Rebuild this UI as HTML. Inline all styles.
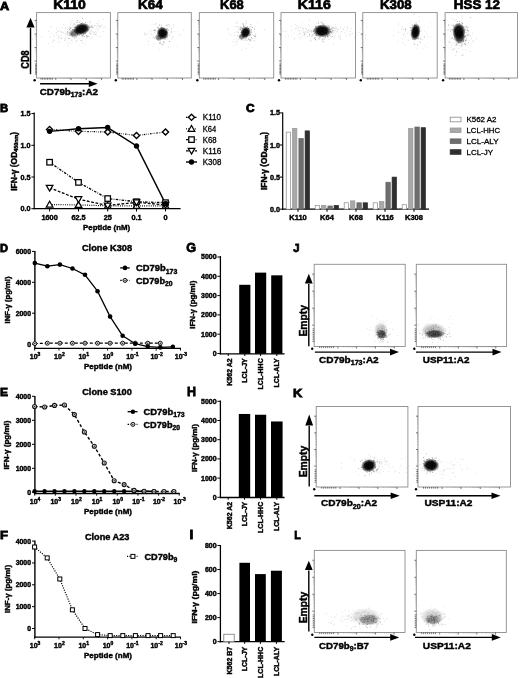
<!DOCTYPE html>
<html><head><meta charset="utf-8"><title>Figure</title>
<style>
html,body{margin:0;padding:0;background:#fff;}
body{width:520px;height:678px;overflow:hidden;}
svg{display:block;font-family:'Liberation Sans', Arial, Helvetica, sans-serif;}
</style></head><body>
<svg width="520" height="678" viewBox="0 0 520 678">
<defs><radialGradient id="cg"><stop offset="0" stop-color="#000" stop-opacity="1"/><stop offset="0.55" stop-color="#000" stop-opacity="0.95"/><stop offset="0.8" stop-color="#000" stop-opacity="0.5"/><stop offset="1" stop-color="#000" stop-opacity="0"/></radialGradient></defs>
<rect width="520" height="678" fill="#fff"/>
<text x="0.00" y="9.60" font-size="11.5" font-weight="bold" text-anchor="start" fill="#000" textLength="9.20" lengthAdjust="spacingAndGlyphs" stroke="#000" stroke-width="0.8">A</text>
<rect x="36.60" y="12.60" width="73.80" height="65.40" fill="#fff" stroke="#8c8c8c" stroke-width="0.9"/>
<path d="M35.60 56.92h1.0M35.60 54.54h1.0M35.60 52.85h1.0M35.60 51.53h1.0M35.60 50.46h1.0M35.60 49.56h1.0M35.60 48.77h1.0M35.60 48.08h1.0M35.60 43.45h1.0M35.60 41.06h1.0M35.60 39.37h1.0M35.60 38.06h1.0M35.60 36.99h1.0M35.60 36.08h1.0M35.60 35.30h1.0M35.60 34.61h1.0M35.60 29.91h1.0M35.60 27.53h1.0M35.60 25.84h1.0M35.60 24.52h1.0M35.60 23.45h1.0M35.60 22.55h1.0M35.60 21.76h1.0M35.60 21.07h1.0M60.39 78.00v1.0M63.08 78.00v1.0M64.99 78.00v1.0M66.47 78.00v1.0M67.68 78.00v1.0M68.70 78.00v1.0M69.58 78.00v1.0M70.37 78.00v1.0M75.59 78.00v1.0M78.28 78.00v1.0M80.19 78.00v1.0M81.67 78.00v1.0M82.88 78.00v1.0M83.90 78.00v1.0M84.79 78.00v1.0M85.57 78.00v1.0M90.87 78.00v1.0M93.56 78.00v1.0M95.46 78.00v1.0M96.95 78.00v1.0M98.15 78.00v1.0M99.18 78.00v1.0M100.06 78.00v1.0M100.84 78.00v1.0" stroke="#999" stroke-width="0.6" fill="none"/>
<path d="M35.00 74.08h1.6M35.00 72.64h1.6M35.00 71.20h1.6M35.00 69.76h1.6M35.00 68.32h1.6M35.00 66.88h1.6M35.00 65.44h1.6M35.00 64.00h1.6M41.03 78.00v1.6M42.65 78.00v1.6M44.28 78.00v1.6M45.90 78.00v1.6M47.52 78.00v1.6M49.15 78.00v1.6M50.77 78.00v1.6M52.39 78.00v1.6" stroke="#333" stroke-width="0.7" fill="none"/>
<path d="M34.60 61.00h2.0M34.60 47.52h2.0M34.60 33.99h2.0M34.60 20.45h2.0M55.79 78.00v2.0M70.99 78.00v2.0M86.27 78.00v2.0M101.54 78.00v2.0" stroke="#555" stroke-width="0.8" fill="none"/>
<circle cx="34.60" cy="80.30" r="1.2" fill="#000"/>
<text x="69.50" y="9.40" font-size="13.5" font-weight="bold" text-anchor="middle" fill="#000" textLength="32.70" lengthAdjust="spacingAndGlyphs" stroke="#000" stroke-width="0.7">K110</text>
<rect x="117.80" y="12.60" width="73.50" height="65.40" fill="#fff" stroke="#8c8c8c" stroke-width="0.9"/>
<path d="M116.80 56.92h1.0M116.80 54.54h1.0M116.80 52.85h1.0M116.80 51.53h1.0M116.80 50.46h1.0M116.80 49.56h1.0M116.80 48.77h1.0M116.80 48.08h1.0M116.80 43.45h1.0M116.80 41.06h1.0M116.80 39.37h1.0M116.80 38.06h1.0M116.80 36.99h1.0M116.80 36.08h1.0M116.80 35.30h1.0M116.80 34.61h1.0M116.80 29.91h1.0M116.80 27.53h1.0M116.80 25.84h1.0M116.80 24.52h1.0M116.80 23.45h1.0M116.80 22.55h1.0M116.80 21.76h1.0M116.80 21.07h1.0M141.49 78.00v1.0M144.17 78.00v1.0M146.07 78.00v1.0M147.54 78.00v1.0M148.75 78.00v1.0M149.77 78.00v1.0M150.65 78.00v1.0M151.43 78.00v1.0M156.63 78.00v1.0M159.31 78.00v1.0M161.21 78.00v1.0M162.69 78.00v1.0M163.89 78.00v1.0M164.91 78.00v1.0M165.79 78.00v1.0M166.57 78.00v1.0M171.85 78.00v1.0M174.52 78.00v1.0M176.43 78.00v1.0M177.90 78.00v1.0M179.10 78.00v1.0M180.12 78.00v1.0M181.01 78.00v1.0M181.78 78.00v1.0" stroke="#999" stroke-width="0.6" fill="none"/>
<path d="M116.20 74.08h1.6M116.20 72.64h1.6M116.20 71.20h1.6M116.20 69.76h1.6M116.20 68.32h1.6M116.20 66.88h1.6M116.20 65.44h1.6M116.20 64.00h1.6M122.21 78.00v1.6M123.83 78.00v1.6M125.44 78.00v1.6M127.06 78.00v1.6M128.68 78.00v1.6M130.29 78.00v1.6M131.91 78.00v1.6M133.53 78.00v1.6" stroke="#333" stroke-width="0.7" fill="none"/>
<path d="M115.80 61.00h2.0M115.80 47.52h2.0M115.80 33.99h2.0M115.80 20.45h2.0M136.91 78.00v2.0M152.05 78.00v2.0M167.27 78.00v2.0M182.48 78.00v2.0" stroke="#555" stroke-width="0.8" fill="none"/>
<circle cx="115.80" cy="80.30" r="1.2" fill="#000"/>
<text x="150.40" y="9.40" font-size="13.5" font-weight="bold" text-anchor="middle" fill="#000" textLength="24.80" lengthAdjust="spacingAndGlyphs" stroke="#000" stroke-width="0.7">K64</text>
<rect x="199.30" y="12.60" width="74.40" height="65.40" fill="#fff" stroke="#8c8c8c" stroke-width="0.9"/>
<path d="M198.30 56.92h1.0M198.30 54.54h1.0M198.30 52.85h1.0M198.30 51.53h1.0M198.30 50.46h1.0M198.30 49.56h1.0M198.30 48.77h1.0M198.30 48.08h1.0M198.30 43.45h1.0M198.30 41.06h1.0M198.30 39.37h1.0M198.30 38.06h1.0M198.30 36.99h1.0M198.30 36.08h1.0M198.30 35.30h1.0M198.30 34.61h1.0M198.30 29.91h1.0M198.30 27.53h1.0M198.30 25.84h1.0M198.30 24.52h1.0M198.30 23.45h1.0M198.30 22.55h1.0M198.30 21.76h1.0M198.30 21.07h1.0M223.28 78.00v1.0M225.99 78.00v1.0M227.92 78.00v1.0M229.41 78.00v1.0M230.63 78.00v1.0M231.66 78.00v1.0M232.55 78.00v1.0M233.34 78.00v1.0M238.61 78.00v1.0M241.32 78.00v1.0M243.24 78.00v1.0M244.74 78.00v1.0M245.95 78.00v1.0M246.99 78.00v1.0M247.88 78.00v1.0M248.67 78.00v1.0M254.01 78.00v1.0M256.72 78.00v1.0M258.64 78.00v1.0M260.14 78.00v1.0M261.36 78.00v1.0M262.39 78.00v1.0M263.28 78.00v1.0M264.07 78.00v1.0" stroke="#999" stroke-width="0.6" fill="none"/>
<path d="M197.70 74.08h1.6M197.70 72.64h1.6M197.70 71.20h1.6M197.70 69.76h1.6M197.70 68.32h1.6M197.70 66.88h1.6M197.70 65.44h1.6M197.70 64.00h1.6M203.76 78.00v1.6M205.40 78.00v1.6M207.04 78.00v1.6M208.67 78.00v1.6M210.31 78.00v1.6M211.95 78.00v1.6M213.58 78.00v1.6M215.22 78.00v1.6" stroke="#333" stroke-width="0.7" fill="none"/>
<path d="M197.30 61.00h2.0M197.30 47.52h2.0M197.30 33.99h2.0M197.30 20.45h2.0M218.64 78.00v2.0M233.97 78.00v2.0M249.37 78.00v2.0M264.77 78.00v2.0" stroke="#555" stroke-width="0.8" fill="none"/>
<circle cx="197.30" cy="80.30" r="1.2" fill="#000"/>
<text x="231.90" y="9.40" font-size="13.5" font-weight="bold" text-anchor="middle" fill="#000" textLength="23.70" lengthAdjust="spacingAndGlyphs" stroke="#000" stroke-width="0.7">K68</text>
<rect x="281.00" y="12.60" width="74.50" height="65.40" fill="#fff" stroke="#8c8c8c" stroke-width="0.9"/>
<path d="M280.00 56.92h1.0M280.00 54.54h1.0M280.00 52.85h1.0M280.00 51.53h1.0M280.00 50.46h1.0M280.00 49.56h1.0M280.00 48.77h1.0M280.00 48.08h1.0M280.00 43.45h1.0M280.00 41.06h1.0M280.00 39.37h1.0M280.00 38.06h1.0M280.00 36.99h1.0M280.00 36.08h1.0M280.00 35.30h1.0M280.00 34.61h1.0M280.00 29.91h1.0M280.00 27.53h1.0M280.00 25.84h1.0M280.00 24.52h1.0M280.00 23.45h1.0M280.00 22.55h1.0M280.00 21.76h1.0M280.00 21.07h1.0M305.01 78.00v1.0M307.73 78.00v1.0M309.65 78.00v1.0M311.15 78.00v1.0M312.37 78.00v1.0M313.40 78.00v1.0M314.30 78.00v1.0M315.09 78.00v1.0M320.36 78.00v1.0M323.07 78.00v1.0M325.00 78.00v1.0M326.50 78.00v1.0M327.72 78.00v1.0M328.75 78.00v1.0M329.64 78.00v1.0M330.43 78.00v1.0M335.78 78.00v1.0M338.50 78.00v1.0M340.42 78.00v1.0M341.92 78.00v1.0M343.14 78.00v1.0M344.17 78.00v1.0M345.07 78.00v1.0M345.85 78.00v1.0" stroke="#999" stroke-width="0.6" fill="none"/>
<path d="M279.40 74.08h1.6M279.40 72.64h1.6M279.40 71.20h1.6M279.40 69.76h1.6M279.40 68.32h1.6M279.40 66.88h1.6M279.40 65.44h1.6M279.40 64.00h1.6M285.47 78.00v1.6M287.11 78.00v1.6M288.75 78.00v1.6M290.39 78.00v1.6M292.03 78.00v1.6M293.67 78.00v1.6M295.30 78.00v1.6M296.94 78.00v1.6" stroke="#333" stroke-width="0.7" fill="none"/>
<path d="M279.00 61.00h2.0M279.00 47.52h2.0M279.00 33.99h2.0M279.00 20.45h2.0M300.37 78.00v2.0M315.72 78.00v2.0M331.14 78.00v2.0M346.56 78.00v2.0" stroke="#555" stroke-width="0.8" fill="none"/>
<circle cx="279.00" cy="80.30" r="1.2" fill="#000"/>
<text x="314.30" y="9.40" font-size="13.5" font-weight="bold" text-anchor="middle" fill="#000" textLength="33.00" lengthAdjust="spacingAndGlyphs" stroke="#000" stroke-width="0.7">K116</text>
<rect x="362.80" y="12.60" width="74.40" height="65.40" fill="#fff" stroke="#8c8c8c" stroke-width="0.9"/>
<path d="M361.80 56.92h1.0M361.80 54.54h1.0M361.80 52.85h1.0M361.80 51.53h1.0M361.80 50.46h1.0M361.80 49.56h1.0M361.80 48.77h1.0M361.80 48.08h1.0M361.80 43.45h1.0M361.80 41.06h1.0M361.80 39.37h1.0M361.80 38.06h1.0M361.80 36.99h1.0M361.80 36.08h1.0M361.80 35.30h1.0M361.80 34.61h1.0M361.80 29.91h1.0M361.80 27.53h1.0M361.80 25.84h1.0M361.80 24.52h1.0M361.80 23.45h1.0M361.80 22.55h1.0M361.80 21.76h1.0M361.80 21.07h1.0M386.78 78.00v1.0M389.49 78.00v1.0M391.42 78.00v1.0M392.91 78.00v1.0M394.13 78.00v1.0M395.16 78.00v1.0M396.05 78.00v1.0M396.84 78.00v1.0M402.11 78.00v1.0M404.82 78.00v1.0M406.74 78.00v1.0M408.24 78.00v1.0M409.45 78.00v1.0M410.49 78.00v1.0M411.38 78.00v1.0M412.17 78.00v1.0M417.51 78.00v1.0M420.22 78.00v1.0M422.14 78.00v1.0M423.64 78.00v1.0M424.86 78.00v1.0M425.89 78.00v1.0M426.78 78.00v1.0M427.57 78.00v1.0" stroke="#999" stroke-width="0.6" fill="none"/>
<path d="M361.20 74.08h1.6M361.20 72.64h1.6M361.20 71.20h1.6M361.20 69.76h1.6M361.20 68.32h1.6M361.20 66.88h1.6M361.20 65.44h1.6M361.20 64.00h1.6M367.26 78.00v1.6M368.90 78.00v1.6M370.54 78.00v1.6M372.17 78.00v1.6M373.81 78.00v1.6M375.45 78.00v1.6M377.08 78.00v1.6M378.72 78.00v1.6" stroke="#333" stroke-width="0.7" fill="none"/>
<path d="M360.80 61.00h2.0M360.80 47.52h2.0M360.80 33.99h2.0M360.80 20.45h2.0M382.14 78.00v2.0M397.47 78.00v2.0M412.87 78.00v2.0M428.27 78.00v2.0" stroke="#555" stroke-width="0.8" fill="none"/>
<circle cx="360.80" cy="80.30" r="1.2" fill="#000"/>
<text x="395.80" y="9.40" font-size="13.5" font-weight="bold" text-anchor="middle" fill="#000" textLength="31.70" lengthAdjust="spacingAndGlyphs" stroke="#000" stroke-width="0.7">K308</text>
<rect x="445.10" y="12.60" width="72.40" height="65.40" fill="#fff" stroke="#8c8c8c" stroke-width="0.9"/>
<path d="M444.10 56.92h1.0M444.10 54.54h1.0M444.10 52.85h1.0M444.10 51.53h1.0M444.10 50.46h1.0M444.10 49.56h1.0M444.10 48.77h1.0M444.10 48.08h1.0M444.10 43.45h1.0M444.10 41.06h1.0M444.10 39.37h1.0M444.10 38.06h1.0M444.10 36.99h1.0M444.10 36.08h1.0M444.10 35.30h1.0M444.10 34.61h1.0M444.10 29.91h1.0M444.10 27.53h1.0M444.10 25.84h1.0M444.10 24.52h1.0M444.10 23.45h1.0M444.10 22.55h1.0M444.10 21.76h1.0M444.10 21.07h1.0M468.44 78.00v1.0M471.07 78.00v1.0M472.95 78.00v1.0M474.40 78.00v1.0M475.59 78.00v1.0M476.59 78.00v1.0M477.46 78.00v1.0M478.23 78.00v1.0M483.35 78.00v1.0M485.99 78.00v1.0M487.86 78.00v1.0M489.31 78.00v1.0M490.50 78.00v1.0M491.50 78.00v1.0M492.37 78.00v1.0M493.14 78.00v1.0M498.34 78.00v1.0M500.98 78.00v1.0M502.85 78.00v1.0M504.30 78.00v1.0M505.49 78.00v1.0M506.49 78.00v1.0M507.36 78.00v1.0M508.13 78.00v1.0" stroke="#999" stroke-width="0.6" fill="none"/>
<path d="M443.50 74.08h1.6M443.50 72.64h1.6M443.50 71.20h1.6M443.50 69.76h1.6M443.50 68.32h1.6M443.50 66.88h1.6M443.50 65.44h1.6M443.50 64.00h1.6M449.44 78.00v1.6M451.04 78.00v1.6M452.63 78.00v1.6M454.22 78.00v1.6M455.82 78.00v1.6M457.41 78.00v1.6M459.00 78.00v1.6M460.59 78.00v1.6" stroke="#333" stroke-width="0.7" fill="none"/>
<path d="M443.10 61.00h2.0M443.10 47.52h2.0M443.10 33.99h2.0M443.10 20.45h2.0M463.92 78.00v2.0M478.84 78.00v2.0M493.83 78.00v2.0M508.81 78.00v2.0" stroke="#555" stroke-width="0.8" fill="none"/>
<circle cx="443.10" cy="80.30" r="1.2" fill="#000"/>
<text x="476.90" y="9.40" font-size="13.5" font-weight="bold" text-anchor="middle" fill="#000" textLength="46.20" lengthAdjust="spacingAndGlyphs" stroke="#000" stroke-width="0.7">HSS 12</text>
<path d="M74.3 34.6h0.9v0.9h-0.9zM69.5 28.9h0.9v0.9h-0.9zM67.1 28.8h0.9v0.9h-0.9zM76.2 40.1h0.9v0.9h-0.9zM67.1 30.9h0.9v0.9h-0.9zM80.6 33.7h0.9v0.9h-0.9zM74.3 27.7h0.9v0.9h-0.9zM74.4 36.8h0.9v0.9h-0.9zM56.4 34.0h0.9v0.9h-0.9zM48.4 31.0h0.9v0.9h-0.9zM50.3 36.5h0.9v0.9h-0.9zM58.1 37.7h0.9v0.9h-0.9zM75.8 31.6h0.9v0.9h-0.9zM41.3 36.6h0.9v0.9h-0.9zM73.5 33.7h0.9v0.9h-0.9zM54.0 34.4h0.9v0.9h-0.9zM60.6 31.2h0.9v0.9h-0.9zM86.6 25.9h0.9v0.9h-0.9zM74.6 37.9h0.9v0.9h-0.9zM66.4 33.9h0.9v0.9h-0.9zM75.5 33.1h0.9v0.9h-0.9zM58.5 36.6h0.9v0.9h-0.9zM89.6 21.2h0.9v0.9h-0.9zM85.1 31.4h0.9v0.9h-0.9zM68.0 45.4h0.9v0.9h-0.9zM82.4 24.6h0.9v0.9h-0.9zM75.6 35.9h0.9v0.9h-0.9zM72.3 37.2h0.9v0.9h-0.9zM73.9 36.8h0.9v0.9h-0.9zM91.6 25.6h0.9v0.9h-0.9zM76.1 30.0h0.9v0.9h-0.9zM74.3 26.3h0.9v0.9h-0.9zM66.4 33.4h0.9v0.9h-0.9zM86.7 36.9h0.9v0.9h-0.9zM56.3 32.1h0.9v0.9h-0.9zM80.1 20.6h0.9v0.9h-0.9zM68.0 33.7h0.9v0.9h-0.9zM90.8 33.5h0.9v0.9h-0.9zM69.4 31.9h0.9v0.9h-0.9zM72.5 41.9h0.9v0.9h-0.9zM68.2 32.5h0.9v0.9h-0.9zM78.4 31.4h0.9v0.9h-0.9zM70.3 27.5h0.9v0.9h-0.9zM73.4 30.6h0.9v0.9h-0.9zM89.6 33.5h0.9v0.9h-0.9zM74.4 36.7h0.9v0.9h-0.9zM70.8 39.5h0.9v0.9h-0.9zM74.6 36.2h0.9v0.9h-0.9zM57.9 38.2h0.9v0.9h-0.9zM50.3 26.4h0.9v0.9h-0.9zM69.1 28.9h0.9v0.9h-0.9zM78.5 44.7h0.9v0.9h-0.9zM62.7 31.8h0.9v0.9h-0.9zM77.2 35.1h0.9v0.9h-0.9zM71.5 32.3h0.9v0.9h-0.9zM83.5 34.0h0.9v0.9h-0.9zM60.7 35.2h0.9v0.9h-0.9zM73.3 27.2h0.9v0.9h-0.9zM76.4 27.7h0.9v0.9h-0.9zM86.6 31.5h0.9v0.9h-0.9zM74.5 29.6h0.9v0.9h-0.9zM70.3 22.5h0.9v0.9h-0.9zM60.0 37.9h0.9v0.9h-0.9zM47.8 43.1h0.9v0.9h-0.9zM52.6 41.6h0.9v0.9h-0.9zM64.1 39.4h0.9v0.9h-0.9zM74.0 24.4h0.9v0.9h-0.9z" fill="#000" fill-opacity="0.14"/>
<path d="M91.5 37.5h0.9v0.9h-0.9zM72.9 31.7h0.9v0.9h-0.9zM70.9 28.2h0.9v0.9h-0.9zM87.4 27.2h0.9v0.9h-0.9zM72.5 28.9h0.9v0.9h-0.9zM64.6 27.7h0.9v0.9h-0.9zM89.8 28.9h0.9v0.9h-0.9zM86.3 30.6h0.9v0.9h-0.9zM64.8 33.0h0.9v0.9h-0.9zM66.9 34.5h0.9v0.9h-0.9zM68.9 32.4h0.9v0.9h-0.9zM55.6 32.2h0.9v0.9h-0.9zM94.3 25.1h0.9v0.9h-0.9zM60.9 37.5h0.9v0.9h-0.9zM90.3 21.5h0.9v0.9h-0.9zM70.7 30.1h0.9v0.9h-0.9zM52.4 41.5h0.9v0.9h-0.9zM73.8 33.4h0.9v0.9h-0.9zM64.9 37.4h0.9v0.9h-0.9zM67.0 33.6h0.9v0.9h-0.9zM58.6 29.3h0.9v0.9h-0.9zM90.5 26.8h0.9v0.9h-0.9zM77.7 32.1h0.9v0.9h-0.9zM67.8 31.4h0.9v0.9h-0.9zM81.7 29.7h0.9v0.9h-0.9zM72.1 33.5h0.9v0.9h-0.9zM89.7 33.6h0.9v0.9h-0.9zM78.3 29.0h0.9v0.9h-0.9zM57.4 41.7h0.9v0.9h-0.9zM86.2 29.7h0.9v0.9h-0.9zM81.8 35.8h0.9v0.9h-0.9zM85.6 35.8h0.9v0.9h-0.9zM69.9 42.3h0.9v0.9h-0.9zM59.1 40.9h0.9v0.9h-0.9zM81.2 36.4h0.9v0.9h-0.9zM99.6 36.1h0.9v0.9h-0.9zM57.6 26.9h0.9v0.9h-0.9zM83.3 25.4h0.9v0.9h-0.9zM74.8 37.6h0.9v0.9h-0.9zM50.8 25.9h0.9v0.9h-0.9zM77.4 32.6h0.9v0.9h-0.9zM70.9 33.8h0.9v0.9h-0.9zM61.4 27.1h0.9v0.9h-0.9zM70.8 28.2h0.9v0.9h-0.9zM53.6 40.0h0.9v0.9h-0.9zM73.7 35.3h0.9v0.9h-0.9zM60.7 32.0h0.9v0.9h-0.9zM60.3 30.8h0.9v0.9h-0.9zM75.6 28.3h0.9v0.9h-0.9zM78.9 33.9h0.9v0.9h-0.9zM98.3 20.3h0.9v0.9h-0.9zM85.2 30.2h0.9v0.9h-0.9zM72.2 25.2h0.9v0.9h-0.9zM68.9 38.2h0.9v0.9h-0.9zM73.0 33.6h0.9v0.9h-0.9zM71.6 40.0h0.9v0.9h-0.9zM71.3 21.2h0.9v0.9h-0.9zM63.0 24.2h0.9v0.9h-0.9zM32.0 38.5h0.9v0.9h-0.9zM91.0 29.8h0.9v0.9h-0.9zM58.0 31.0h0.9v0.9h-0.9zM88.6 30.9h0.9v0.9h-0.9zM74.6 32.6h0.9v0.9h-0.9zM75.4 37.2h0.9v0.9h-0.9zM81.3 32.7h0.9v0.9h-0.9zM61.3 38.4h0.9v0.9h-0.9zM66.5 40.7h0.9v0.9h-0.9z" fill="#000" fill-opacity="0.14"/>
<path d="M57.7 35.5h0.9v0.9h-0.9zM72.5 25.9h0.9v0.9h-0.9zM97.5 36.4h0.9v0.9h-0.9zM68.9 38.4h0.9v0.9h-0.9zM76.0 17.9h0.9v0.9h-0.9zM77.1 32.0h0.9v0.9h-0.9zM73.9 27.0h0.9v0.9h-0.9zM70.4 32.7h0.9v0.9h-0.9zM89.5 31.7h0.9v0.9h-0.9zM75.6 41.3h0.9v0.9h-0.9zM66.5 32.3h0.9v0.9h-0.9zM52.6 46.2h0.9v0.9h-0.9zM87.3 35.5h0.9v0.9h-0.9zM82.6 31.9h0.9v0.9h-0.9zM76.5 31.1h0.9v0.9h-0.9zM71.5 33.8h0.9v0.9h-0.9zM93.9 32.1h0.9v0.9h-0.9zM72.6 30.0h0.9v0.9h-0.9zM67.7 43.3h0.9v0.9h-0.9zM80.5 32.1h0.9v0.9h-0.9zM68.4 27.9h0.9v0.9h-0.9zM74.1 37.9h0.9v0.9h-0.9zM68.8 32.8h0.9v0.9h-0.9zM71.3 34.2h0.9v0.9h-0.9zM53.4 35.8h0.9v0.9h-0.9zM64.1 40.0h0.9v0.9h-0.9zM64.8 38.1h0.9v0.9h-0.9zM93.1 27.4h0.9v0.9h-0.9zM66.5 35.6h0.9v0.9h-0.9zM72.9 27.6h0.9v0.9h-0.9zM82.1 42.7h0.9v0.9h-0.9zM70.5 32.6h0.9v0.9h-0.9zM61.0 37.4h0.9v0.9h-0.9zM56.9 30.3h0.9v0.9h-0.9zM89.3 24.8h0.9v0.9h-0.9zM89.4 38.4h0.9v0.9h-0.9zM77.9 35.3h0.9v0.9h-0.9zM98.7 26.9h0.9v0.9h-0.9zM65.0 27.2h0.9v0.9h-0.9zM76.1 40.9h0.9v0.9h-0.9zM85.2 25.4h0.9v0.9h-0.9zM62.6 32.5h0.9v0.9h-0.9zM77.5 31.1h0.9v0.9h-0.9zM77.1 34.0h0.9v0.9h-0.9zM70.1 33.6h0.9v0.9h-0.9zM76.5 32.0h0.9v0.9h-0.9zM82.5 41.8h0.9v0.9h-0.9zM81.6 31.8h0.9v0.9h-0.9zM52.9 39.4h0.9v0.9h-0.9zM47.7 30.4h0.9v0.9h-0.9zM85.7 34.6h0.9v0.9h-0.9zM70.2 24.2h0.9v0.9h-0.9zM68.5 30.3h0.9v0.9h-0.9zM84.6 43.5h0.9v0.9h-0.9zM75.9 28.2h0.9v0.9h-0.9zM59.0 35.7h0.9v0.9h-0.9zM70.5 27.2h0.9v0.9h-0.9zM74.2 26.5h0.9v0.9h-0.9zM89.3 35.9h0.9v0.9h-0.9zM87.3 27.6h0.9v0.9h-0.9zM80.4 31.0h0.9v0.9h-0.9zM68.7 32.2h0.9v0.9h-0.9zM55.9 28.6h0.9v0.9h-0.9zM83.9 29.9h0.9v0.9h-0.9zM77.9 37.8h0.9v0.9h-0.9zM51.1 33.2h0.9v0.9h-0.9z" fill="#000" fill-opacity="0.14"/>
<path d="M96.9 30.4h0.9v0.9h-0.9zM94.1 32.6h0.9v0.9h-0.9zM97.1 24.8h0.9v0.9h-0.9zM91.3 31.8h0.9v0.9h-0.9zM98.3 22.4h0.9v0.9h-0.9zM102.7 31.1h0.9v0.9h-0.9zM102.7 27.7h0.9v0.9h-0.9zM94.5 25.1h0.9v0.9h-0.9zM108.7 28.4h0.9v0.9h-0.9zM103.9 26.7h0.9v0.9h-0.9zM96.8 23.2h0.9v0.9h-0.9zM94.1 32.4h0.9v0.9h-0.9zM89.7 32.8h0.9v0.9h-0.9zM97.7 25.3h0.9v0.9h-0.9zM93.5 27.4h0.9v0.9h-0.9zM95.8 27.1h0.9v0.9h-0.9zM91.9 27.9h0.9v0.9h-0.9z" fill="#000" fill-opacity="0.12"/>
<path d="M90.9 24.5h0.9v0.9h-0.9zM95.8 32.1h0.9v0.9h-0.9zM88.4 29.0h0.9v0.9h-0.9zM92.8 25.6h0.9v0.9h-0.9zM100.3 27.2h0.9v0.9h-0.9zM103.5 26.3h0.9v0.9h-0.9zM97.9 28.2h0.9v0.9h-0.9zM92.2 31.1h0.9v0.9h-0.9zM95.2 31.1h0.9v0.9h-0.9zM95.8 25.2h0.9v0.9h-0.9zM95.5 29.2h0.9v0.9h-0.9zM100.8 25.8h0.9v0.9h-0.9zM95.8 23.0h0.9v0.9h-0.9zM99.3 25.2h0.9v0.9h-0.9zM87.0 28.8h0.9v0.9h-0.9zM101.5 23.7h0.9v0.9h-0.9zM90.6 26.4h0.9v0.9h-0.9z" fill="#000" fill-opacity="0.12"/>
<path d="M90.4 30.3h0.9v0.9h-0.9zM92.0 26.5h0.9v0.9h-0.9zM98.9 26.4h0.9v0.9h-0.9zM98.2 25.6h0.9v0.9h-0.9zM89.9 22.6h0.9v0.9h-0.9zM105.3 27.9h0.9v0.9h-0.9zM97.2 28.9h0.9v0.9h-0.9zM96.8 29.2h0.9v0.9h-0.9zM105.5 25.4h0.9v0.9h-0.9zM88.2 25.5h0.9v0.9h-0.9zM89.3 31.6h0.9v0.9h-0.9zM100.1 25.6h0.9v0.9h-0.9zM89.0 27.8h0.9v0.9h-0.9zM103.0 19.1h0.9v0.9h-0.9zM98.6 25.2h0.9v0.9h-0.9zM101.2 25.2h0.9v0.9h-0.9z" fill="#000" fill-opacity="0.12"/>
<ellipse cx="81.60" cy="29.00" rx="8.60" ry="6.00" fill="url(#cg)" fill-opacity="0.97" transform="rotate(-15 81.60 29.00)"/>
<ellipse cx="75.00" cy="32.80" rx="6.50" ry="4.20" fill="url(#cg)" fill-opacity="0.5" transform="rotate(-20 75.00 32.80)"/>
<path d="M77.3 24.2h0.9v0.9h-0.9zM76.1 36.4h0.9v0.9h-0.9zM84.8 26.8h0.9v0.9h-0.9zM73.5 23.6h0.9v0.9h-0.9zM78.1 30.1h0.9v0.9h-0.9zM79.8 29.4h0.9v0.9h-0.9zM73.8 31.0h0.9v0.9h-0.9zM81.5 34.7h0.9v0.9h-0.9zM91.1 26.3h0.9v0.9h-0.9zM75.9 30.5h0.9v0.9h-0.9zM76.1 27.6h0.9v0.9h-0.9zM79.0 25.6h0.9v0.9h-0.9zM83.8 28.3h0.9v0.9h-0.9zM81.7 28.5h0.9v0.9h-0.9zM75.2 27.0h0.9v0.9h-0.9zM78.5 27.8h0.9v0.9h-0.9zM81.8 29.2h0.9v0.9h-0.9zM72.5 31.9h0.9v0.9h-0.9zM72.0 29.2h0.9v0.9h-0.9zM76.6 22.0h0.9v0.9h-0.9zM81.1 30.0h0.9v0.9h-0.9zM79.1 28.2h0.9v0.9h-0.9zM77.3 26.4h0.9v0.9h-0.9zM78.3 27.9h0.9v0.9h-0.9zM79.7 24.8h0.9v0.9h-0.9zM81.9 29.8h0.9v0.9h-0.9zM79.1 28.1h0.9v0.9h-0.9zM82.0 22.3h0.9v0.9h-0.9zM83.3 29.9h0.9v0.9h-0.9zM82.4 30.7h0.9v0.9h-0.9zM76.3 29.6h0.9v0.9h-0.9zM84.5 30.3h0.9v0.9h-0.9zM80.1 23.4h0.9v0.9h-0.9zM84.7 33.3h0.9v0.9h-0.9zM86.5 29.0h0.9v0.9h-0.9zM72.3 35.6h0.9v0.9h-0.9zM77.0 20.0h0.9v0.9h-0.9zM81.1 23.3h0.9v0.9h-0.9zM72.2 29.1h0.9v0.9h-0.9zM87.4 26.3h0.9v0.9h-0.9z" fill="#000" fill-opacity="0.35"/>
<path d="M83.7 36.0h0.9v0.9h-0.9zM89.6 26.8h0.9v0.9h-0.9zM77.7 25.1h0.9v0.9h-0.9zM76.8 32.3h0.9v0.9h-0.9zM82.8 29.4h0.9v0.9h-0.9zM85.4 25.1h0.9v0.9h-0.9zM80.8 32.5h0.9v0.9h-0.9zM84.9 32.9h0.9v0.9h-0.9zM82.4 27.8h0.9v0.9h-0.9zM81.5 25.2h0.9v0.9h-0.9zM71.4 34.3h0.9v0.9h-0.9zM80.4 30.9h0.9v0.9h-0.9zM70.2 30.7h0.9v0.9h-0.9zM76.1 27.1h0.9v0.9h-0.9zM67.0 31.6h0.9v0.9h-0.9zM86.0 29.7h0.9v0.9h-0.9zM76.9 30.4h0.9v0.9h-0.9zM82.1 17.8h0.9v0.9h-0.9zM80.2 31.9h0.9v0.9h-0.9zM86.0 35.2h0.9v0.9h-0.9zM87.3 29.1h0.9v0.9h-0.9zM82.9 32.2h0.9v0.9h-0.9zM77.2 30.2h0.9v0.9h-0.9zM87.6 35.8h0.9v0.9h-0.9zM79.4 29.6h0.9v0.9h-0.9zM82.9 34.5h0.9v0.9h-0.9zM81.7 35.3h0.9v0.9h-0.9zM74.6 30.3h0.9v0.9h-0.9zM80.0 32.9h0.9v0.9h-0.9zM85.0 22.2h0.9v0.9h-0.9zM75.4 32.3h0.9v0.9h-0.9zM75.1 24.7h0.9v0.9h-0.9zM86.9 30.0h0.9v0.9h-0.9zM82.8 27.0h0.9v0.9h-0.9zM86.1 27.1h0.9v0.9h-0.9zM85.9 24.4h0.9v0.9h-0.9zM75.6 31.7h0.9v0.9h-0.9zM77.0 33.3h0.9v0.9h-0.9zM81.0 25.6h0.9v0.9h-0.9zM80.5 28.1h0.9v0.9h-0.9z" fill="#000" fill-opacity="0.35"/>
<path d="M85.1 25.8h0.9v0.9h-0.9zM79.0 34.9h0.9v0.9h-0.9zM95.4 34.0h0.9v0.9h-0.9zM81.0 30.4h0.9v0.9h-0.9zM89.2 26.8h0.9v0.9h-0.9zM74.8 31.5h0.9v0.9h-0.9zM82.2 25.7h0.9v0.9h-0.9zM69.4 26.5h0.9v0.9h-0.9zM83.5 25.7h0.9v0.9h-0.9zM79.8 30.6h0.9v0.9h-0.9zM83.7 27.4h0.9v0.9h-0.9zM82.4 25.4h0.9v0.9h-0.9zM77.3 26.2h0.9v0.9h-0.9zM87.0 27.8h0.9v0.9h-0.9zM75.8 29.3h0.9v0.9h-0.9zM79.8 32.6h0.9v0.9h-0.9zM70.1 27.9h0.9v0.9h-0.9zM80.7 40.0h0.9v0.9h-0.9zM85.8 27.7h0.9v0.9h-0.9zM86.6 36.5h0.9v0.9h-0.9zM78.7 28.5h0.9v0.9h-0.9zM87.9 29.7h0.9v0.9h-0.9zM83.8 26.6h0.9v0.9h-0.9zM93.3 33.4h0.9v0.9h-0.9zM84.4 31.4h0.9v0.9h-0.9zM69.2 35.1h0.9v0.9h-0.9zM79.7 31.6h0.9v0.9h-0.9zM84.0 27.3h0.9v0.9h-0.9zM70.9 33.5h0.9v0.9h-0.9zM75.8 29.4h0.9v0.9h-0.9zM76.5 29.2h0.9v0.9h-0.9zM68.2 37.7h0.9v0.9h-0.9zM83.0 33.5h0.9v0.9h-0.9zM91.9 26.7h0.9v0.9h-0.9zM69.0 28.8h0.9v0.9h-0.9zM72.9 29.4h0.9v0.9h-0.9zM78.9 21.7h0.9v0.9h-0.9zM80.9 23.2h0.9v0.9h-0.9zM82.0 28.7h0.9v0.9h-0.9zM78.5 29.8h0.9v0.9h-0.9z" fill="#000" fill-opacity="0.35"/>
<path d="M155.1 31.6h0.9v0.9h-0.9zM144.9 34.8h0.9v0.9h-0.9zM176.6 45.9h0.9v0.9h-0.9zM171.9 38.9h0.9v0.9h-0.9zM153.9 42.9h0.9v0.9h-0.9zM159.5 34.6h0.9v0.9h-0.9zM157.4 35.5h0.9v0.9h-0.9zM156.1 34.5h0.9v0.9h-0.9zM150.2 32.9h0.9v0.9h-0.9zM180.5 34.6h0.9v0.9h-0.9zM157.9 37.9h0.9v0.9h-0.9zM166.4 28.9h0.9v0.9h-0.9zM158.1 40.1h0.9v0.9h-0.9zM162.4 35.7h0.9v0.9h-0.9zM174.0 31.3h0.9v0.9h-0.9zM160.7 32.1h0.9v0.9h-0.9zM173.4 24.3h0.9v0.9h-0.9zM154.0 32.1h0.9v0.9h-0.9zM166.0 38.3h0.9v0.9h-0.9zM172.6 26.3h0.9v0.9h-0.9zM166.8 33.4h0.9v0.9h-0.9zM154.0 38.0h0.9v0.9h-0.9zM151.7 23.6h0.9v0.9h-0.9zM156.7 26.8h0.9v0.9h-0.9zM154.2 37.0h0.9v0.9h-0.9zM162.8 43.7h0.9v0.9h-0.9zM158.2 26.6h0.9v0.9h-0.9zM153.2 29.9h0.9v0.9h-0.9zM149.0 37.4h0.9v0.9h-0.9zM154.2 24.1h0.9v0.9h-0.9z" fill="#000" fill-opacity="0.14"/>
<path d="M166.3 34.4h0.9v0.9h-0.9zM163.2 35.6h0.9v0.9h-0.9zM165.7 35.2h0.9v0.9h-0.9zM171.1 37.3h0.9v0.9h-0.9zM163.5 37.3h0.9v0.9h-0.9zM146.9 34.1h0.9v0.9h-0.9zM157.7 36.1h0.9v0.9h-0.9zM147.8 44.0h0.9v0.9h-0.9zM160.9 28.3h0.9v0.9h-0.9zM144.6 33.5h0.9v0.9h-0.9zM159.2 31.0h0.9v0.9h-0.9zM160.8 31.5h0.9v0.9h-0.9zM165.0 31.0h0.9v0.9h-0.9zM159.7 40.4h0.9v0.9h-0.9zM183.1 29.5h0.9v0.9h-0.9zM155.8 30.4h0.9v0.9h-0.9zM167.1 28.7h0.9v0.9h-0.9zM155.6 34.8h0.9v0.9h-0.9zM151.2 29.7h0.9v0.9h-0.9zM155.7 23.4h0.9v0.9h-0.9zM147.0 32.7h0.9v0.9h-0.9zM161.3 34.0h0.9v0.9h-0.9zM144.0 32.4h0.9v0.9h-0.9zM167.2 38.1h0.9v0.9h-0.9zM159.3 30.1h0.9v0.9h-0.9zM165.7 31.8h0.9v0.9h-0.9zM149.5 30.6h0.9v0.9h-0.9zM173.0 36.2h0.9v0.9h-0.9zM170.4 32.4h0.9v0.9h-0.9zM168.4 31.7h0.9v0.9h-0.9z" fill="#000" fill-opacity="0.14"/>
<path d="M158.6 48.7h0.9v0.9h-0.9zM166.9 32.2h0.9v0.9h-0.9zM159.2 36.8h0.9v0.9h-0.9zM170.9 32.3h0.9v0.9h-0.9zM144.3 33.5h0.9v0.9h-0.9zM160.1 35.6h0.9v0.9h-0.9zM171.9 36.7h0.9v0.9h-0.9zM167.3 28.9h0.9v0.9h-0.9zM167.8 46.5h0.9v0.9h-0.9zM167.0 36.4h0.9v0.9h-0.9zM161.4 44.8h0.9v0.9h-0.9zM151.7 34.4h0.9v0.9h-0.9zM164.1 39.1h0.9v0.9h-0.9zM156.1 36.7h0.9v0.9h-0.9zM157.5 35.7h0.9v0.9h-0.9zM158.8 28.7h0.9v0.9h-0.9zM159.8 39.8h0.9v0.9h-0.9zM151.3 33.7h0.9v0.9h-0.9zM166.0 29.1h0.9v0.9h-0.9zM161.6 29.2h0.9v0.9h-0.9zM170.2 47.7h0.9v0.9h-0.9zM178.2 33.8h0.9v0.9h-0.9zM166.7 35.7h0.9v0.9h-0.9zM160.9 43.5h0.9v0.9h-0.9zM148.1 40.8h0.9v0.9h-0.9zM159.6 42.7h0.9v0.9h-0.9zM161.7 31.3h0.9v0.9h-0.9zM162.5 39.0h0.9v0.9h-0.9zM160.3 37.7h0.9v0.9h-0.9zM155.3 23.3h0.9v0.9h-0.9z" fill="#000" fill-opacity="0.14"/>
<ellipse cx="162.60" cy="33.20" rx="6.00" ry="6.60" fill="url(#cg)" fill-opacity="0.97" transform="rotate(-20 162.60 33.20)"/>
<ellipse cx="158.80" cy="37.50" rx="4.00" ry="3.50" fill="url(#cg)" fill-opacity="0.45"/>
<path d="M165.4 36.9h0.9v0.9h-0.9zM162.4 34.3h0.9v0.9h-0.9zM165.9 32.1h0.9v0.9h-0.9zM159.0 33.2h0.9v0.9h-0.9zM166.6 28.2h0.9v0.9h-0.9zM166.6 31.3h0.9v0.9h-0.9zM157.4 39.3h0.9v0.9h-0.9zM161.4 28.5h0.9v0.9h-0.9zM160.4 37.9h0.9v0.9h-0.9zM166.6 32.2h0.9v0.9h-0.9zM163.4 37.0h0.9v0.9h-0.9zM159.2 35.5h0.9v0.9h-0.9zM161.7 31.7h0.9v0.9h-0.9zM159.8 34.3h0.9v0.9h-0.9zM161.9 31.6h0.9v0.9h-0.9zM160.1 38.7h0.9v0.9h-0.9zM162.7 37.7h0.9v0.9h-0.9zM166.6 36.5h0.9v0.9h-0.9zM170.9 30.5h0.9v0.9h-0.9zM165.0 32.7h0.9v0.9h-0.9zM169.2 41.1h0.9v0.9h-0.9zM154.0 29.9h0.9v0.9h-0.9zM164.5 37.3h0.9v0.9h-0.9zM164.7 33.7h0.9v0.9h-0.9zM163.6 36.7h0.9v0.9h-0.9zM161.5 38.3h0.9v0.9h-0.9zM152.8 36.7h0.9v0.9h-0.9zM157.7 38.0h0.9v0.9h-0.9zM160.9 30.3h0.9v0.9h-0.9zM163.3 30.2h0.9v0.9h-0.9z" fill="#000" fill-opacity="0.35"/>
<path d="M158.1 27.4h0.9v0.9h-0.9zM161.7 36.1h0.9v0.9h-0.9zM165.9 33.4h0.9v0.9h-0.9zM166.0 34.1h0.9v0.9h-0.9zM161.4 36.4h0.9v0.9h-0.9zM166.0 32.6h0.9v0.9h-0.9zM160.8 33.3h0.9v0.9h-0.9zM162.1 30.2h0.9v0.9h-0.9zM165.9 32.3h0.9v0.9h-0.9zM163.6 30.5h0.9v0.9h-0.9zM163.2 35.6h0.9v0.9h-0.9zM160.1 42.5h0.9v0.9h-0.9zM163.3 41.5h0.9v0.9h-0.9zM165.6 31.2h0.9v0.9h-0.9zM160.3 35.8h0.9v0.9h-0.9zM162.0 34.2h0.9v0.9h-0.9zM160.7 26.4h0.9v0.9h-0.9zM160.9 24.7h0.9v0.9h-0.9zM163.3 31.0h0.9v0.9h-0.9zM158.9 33.1h0.9v0.9h-0.9zM162.9 28.0h0.9v0.9h-0.9zM154.8 29.5h0.9v0.9h-0.9zM153.6 29.9h0.9v0.9h-0.9zM168.2 29.6h0.9v0.9h-0.9zM164.4 28.2h0.9v0.9h-0.9zM163.0 32.7h0.9v0.9h-0.9zM161.6 36.4h0.9v0.9h-0.9zM168.8 34.8h0.9v0.9h-0.9zM162.3 29.9h0.9v0.9h-0.9zM164.1 33.0h0.9v0.9h-0.9z" fill="#000" fill-opacity="0.35"/>
<path d="M165.1 33.8h0.9v0.9h-0.9zM168.8 25.7h0.9v0.9h-0.9zM160.6 37.7h0.9v0.9h-0.9zM160.4 30.7h0.9v0.9h-0.9zM160.7 28.2h0.9v0.9h-0.9zM162.3 44.2h0.9v0.9h-0.9zM166.4 29.3h0.9v0.9h-0.9zM158.3 32.3h0.9v0.9h-0.9zM165.8 30.5h0.9v0.9h-0.9zM159.0 37.7h0.9v0.9h-0.9zM165.3 32.4h0.9v0.9h-0.9zM157.3 27.5h0.9v0.9h-0.9zM159.0 24.6h0.9v0.9h-0.9zM164.8 31.4h0.9v0.9h-0.9zM163.7 41.8h0.9v0.9h-0.9zM166.5 29.2h0.9v0.9h-0.9zM165.3 38.9h0.9v0.9h-0.9zM158.8 30.0h0.9v0.9h-0.9zM161.4 27.3h0.9v0.9h-0.9zM167.7 23.9h0.9v0.9h-0.9zM157.4 32.9h0.9v0.9h-0.9zM160.9 34.7h0.9v0.9h-0.9zM162.9 33.1h0.9v0.9h-0.9zM166.3 25.0h0.9v0.9h-0.9zM161.8 31.0h0.9v0.9h-0.9zM162.3 34.9h0.9v0.9h-0.9zM158.2 31.3h0.9v0.9h-0.9zM165.0 35.5h0.9v0.9h-0.9zM159.1 42.6h0.9v0.9h-0.9zM171.0 27.9h0.9v0.9h-0.9z" fill="#000" fill-opacity="0.35"/>
<path d="M245.7 47.8h0.9v0.9h-0.9zM250.1 35.2h0.9v0.9h-0.9zM241.1 31.0h0.9v0.9h-0.9zM241.1 31.0h0.9v0.9h-0.9zM249.7 31.8h0.9v0.9h-0.9zM239.0 27.4h0.9v0.9h-0.9zM242.6 29.1h0.9v0.9h-0.9zM241.4 39.7h0.9v0.9h-0.9zM246.3 36.8h0.9v0.9h-0.9zM246.2 34.3h0.9v0.9h-0.9zM241.9 32.3h0.9v0.9h-0.9zM249.8 28.0h0.9v0.9h-0.9zM255.1 34.2h0.9v0.9h-0.9zM236.3 31.3h0.9v0.9h-0.9zM236.9 34.9h0.9v0.9h-0.9zM236.5 40.3h0.9v0.9h-0.9zM236.0 21.5h0.9v0.9h-0.9zM236.4 23.0h0.9v0.9h-0.9zM242.6 39.8h0.9v0.9h-0.9zM248.8 26.6h0.9v0.9h-0.9zM236.1 43.8h0.9v0.9h-0.9zM245.9 34.0h0.9v0.9h-0.9zM252.5 47.5h0.9v0.9h-0.9zM254.7 34.8h0.9v0.9h-0.9zM246.2 37.4h0.9v0.9h-0.9zM237.5 28.2h0.9v0.9h-0.9zM243.5 28.8h0.9v0.9h-0.9zM242.4 34.5h0.9v0.9h-0.9zM264.1 29.3h0.9v0.9h-0.9zM241.9 33.1h0.9v0.9h-0.9z" fill="#000" fill-opacity="0.14"/>
<path d="M246.9 39.8h0.9v0.9h-0.9zM238.6 29.5h0.9v0.9h-0.9zM228.2 28.9h0.9v0.9h-0.9zM247.8 34.3h0.9v0.9h-0.9zM233.9 31.9h0.9v0.9h-0.9zM243.3 36.8h0.9v0.9h-0.9zM237.7 32.6h0.9v0.9h-0.9zM226.6 27.7h0.9v0.9h-0.9zM257.6 22.0h0.9v0.9h-0.9zM240.0 35.2h0.9v0.9h-0.9zM239.6 29.6h0.9v0.9h-0.9zM242.5 34.0h0.9v0.9h-0.9zM242.3 23.7h0.9v0.9h-0.9zM241.7 29.3h0.9v0.9h-0.9zM238.1 35.2h0.9v0.9h-0.9zM248.8 38.9h0.9v0.9h-0.9zM238.5 39.1h0.9v0.9h-0.9zM253.6 40.3h0.9v0.9h-0.9zM255.5 33.2h0.9v0.9h-0.9zM241.4 38.5h0.9v0.9h-0.9zM230.7 35.2h0.9v0.9h-0.9zM238.2 32.0h0.9v0.9h-0.9zM227.3 29.1h0.9v0.9h-0.9zM242.8 38.9h0.9v0.9h-0.9zM251.9 33.6h0.9v0.9h-0.9zM241.3 29.4h0.9v0.9h-0.9zM246.6 32.6h0.9v0.9h-0.9zM248.5 43.6h0.9v0.9h-0.9zM242.7 25.8h0.9v0.9h-0.9zM235.3 26.0h0.9v0.9h-0.9z" fill="#000" fill-opacity="0.14"/>
<path d="M232.2 41.2h0.9v0.9h-0.9zM245.0 25.6h0.9v0.9h-0.9zM248.9 40.9h0.9v0.9h-0.9zM239.8 30.3h0.9v0.9h-0.9zM240.0 35.6h0.9v0.9h-0.9zM248.8 40.5h0.9v0.9h-0.9zM253.9 40.5h0.9v0.9h-0.9zM255.3 37.6h0.9v0.9h-0.9zM229.2 33.3h0.9v0.9h-0.9zM245.8 31.9h0.9v0.9h-0.9zM251.2 32.0h0.9v0.9h-0.9zM234.7 41.9h0.9v0.9h-0.9zM249.0 35.2h0.9v0.9h-0.9zM251.3 39.8h0.9v0.9h-0.9zM246.1 20.5h0.9v0.9h-0.9zM236.9 31.5h0.9v0.9h-0.9zM234.1 35.1h0.9v0.9h-0.9zM253.7 31.3h0.9v0.9h-0.9zM232.8 45.2h0.9v0.9h-0.9zM238.9 27.2h0.9v0.9h-0.9zM245.1 36.3h0.9v0.9h-0.9zM236.7 38.3h0.9v0.9h-0.9zM238.6 28.9h0.9v0.9h-0.9zM244.6 38.2h0.9v0.9h-0.9zM237.3 35.8h0.9v0.9h-0.9zM242.2 49.5h0.9v0.9h-0.9zM236.6 41.6h0.9v0.9h-0.9zM242.5 33.3h0.9v0.9h-0.9zM249.5 38.9h0.9v0.9h-0.9zM254.4 35.8h0.9v0.9h-0.9z" fill="#000" fill-opacity="0.14"/>
<ellipse cx="245.60" cy="32.30" rx="5.20" ry="6.00" fill="url(#cg)" fill-opacity="0.97" transform="rotate(25 245.60 32.30)"/>
<ellipse cx="242.00" cy="36.50" rx="3.60" ry="3.20" fill="url(#cg)" fill-opacity="0.45"/>
<path d="M242.8 30.8h0.9v0.9h-0.9zM246.7 35.3h0.9v0.9h-0.9zM249.8 34.7h0.9v0.9h-0.9zM248.6 39.1h0.9v0.9h-0.9zM245.5 27.1h0.9v0.9h-0.9zM240.8 27.2h0.9v0.9h-0.9zM250.5 29.6h0.9v0.9h-0.9zM249.2 35.3h0.9v0.9h-0.9zM250.9 37.0h0.9v0.9h-0.9zM244.5 32.2h0.9v0.9h-0.9zM245.2 33.7h0.9v0.9h-0.9zM243.0 32.9h0.9v0.9h-0.9zM250.5 26.2h0.9v0.9h-0.9zM245.8 29.4h0.9v0.9h-0.9zM245.6 36.4h0.9v0.9h-0.9zM244.7 36.1h0.9v0.9h-0.9zM239.3 37.4h0.9v0.9h-0.9zM242.8 35.5h0.9v0.9h-0.9zM245.5 22.7h0.9v0.9h-0.9zM242.3 33.9h0.9v0.9h-0.9zM250.3 34.1h0.9v0.9h-0.9zM245.8 27.3h0.9v0.9h-0.9zM249.9 40.2h0.9v0.9h-0.9zM245.0 32.1h0.9v0.9h-0.9zM239.2 36.5h0.9v0.9h-0.9zM254.4 35.9h0.9v0.9h-0.9zM249.3 35.2h0.9v0.9h-0.9z" fill="#000" fill-opacity="0.35"/>
<path d="M241.5 38.3h0.9v0.9h-0.9zM240.6 32.2h0.9v0.9h-0.9zM245.9 36.5h0.9v0.9h-0.9zM246.4 34.5h0.9v0.9h-0.9zM242.2 27.8h0.9v0.9h-0.9zM245.1 30.2h0.9v0.9h-0.9zM240.3 27.9h0.9v0.9h-0.9zM243.2 25.6h0.9v0.9h-0.9zM240.2 26.5h0.9v0.9h-0.9zM245.5 34.6h0.9v0.9h-0.9zM251.9 27.0h0.9v0.9h-0.9zM242.5 36.7h0.9v0.9h-0.9zM244.1 31.7h0.9v0.9h-0.9zM250.9 31.6h0.9v0.9h-0.9zM240.9 27.7h0.9v0.9h-0.9zM246.1 34.2h0.9v0.9h-0.9zM240.1 29.1h0.9v0.9h-0.9zM246.8 35.3h0.9v0.9h-0.9zM242.6 35.5h0.9v0.9h-0.9zM246.9 25.9h0.9v0.9h-0.9zM243.8 34.7h0.9v0.9h-0.9zM242.9 24.4h0.9v0.9h-0.9zM243.9 36.0h0.9v0.9h-0.9zM250.4 24.2h0.9v0.9h-0.9zM254.0 28.5h0.9v0.9h-0.9zM248.2 37.9h0.9v0.9h-0.9zM248.3 33.6h0.9v0.9h-0.9z" fill="#000" fill-opacity="0.35"/>
<path d="M240.8 35.5h0.9v0.9h-0.9zM242.4 22.9h0.9v0.9h-0.9zM254.8 35.8h0.9v0.9h-0.9zM251.3 29.4h0.9v0.9h-0.9zM250.0 39.4h0.9v0.9h-0.9zM250.3 32.9h0.9v0.9h-0.9zM240.7 32.3h0.9v0.9h-0.9zM237.2 26.2h0.9v0.9h-0.9zM245.2 29.0h0.9v0.9h-0.9zM244.3 32.6h0.9v0.9h-0.9zM251.7 38.2h0.9v0.9h-0.9zM244.7 37.8h0.9v0.9h-0.9zM242.2 31.7h0.9v0.9h-0.9zM248.1 28.0h0.9v0.9h-0.9zM243.9 27.7h0.9v0.9h-0.9zM245.3 39.5h0.9v0.9h-0.9zM242.3 33.9h0.9v0.9h-0.9zM241.8 28.4h0.9v0.9h-0.9zM240.6 38.8h0.9v0.9h-0.9zM253.2 34.9h0.9v0.9h-0.9zM242.4 35.8h0.9v0.9h-0.9zM243.7 36.2h0.9v0.9h-0.9zM245.9 34.1h0.9v0.9h-0.9zM247.0 30.7h0.9v0.9h-0.9zM243.5 26.1h0.9v0.9h-0.9zM243.4 27.3h0.9v0.9h-0.9z" fill="#000" fill-opacity="0.35"/>
<path d="M317.5 27.5h0.9v0.9h-0.9zM321.7 33.4h0.9v0.9h-0.9zM295.9 28.1h0.9v0.9h-0.9zM304.0 34.6h0.9v0.9h-0.9zM349.0 35.1h0.9v0.9h-0.9zM314.1 37.7h0.9v0.9h-0.9zM294.3 37.8h0.9v0.9h-0.9zM308.8 19.8h0.9v0.9h-0.9zM365.1 38.1h0.9v0.9h-0.9zM302.5 32.2h0.9v0.9h-0.9zM316.4 31.9h0.9v0.9h-0.9zM294.8 28.6h0.9v0.9h-0.9zM328.0 32.4h0.9v0.9h-0.9zM340.4 31.8h0.9v0.9h-0.9zM359.9 28.5h0.9v0.9h-0.9zM324.4 23.5h0.9v0.9h-0.9zM298.7 37.1h0.9v0.9h-0.9zM304.0 33.7h0.9v0.9h-0.9zM318.9 27.1h0.9v0.9h-0.9zM314.1 29.3h0.9v0.9h-0.9zM311.7 34.7h0.9v0.9h-0.9zM331.1 29.1h0.9v0.9h-0.9zM304.6 32.7h0.9v0.9h-0.9zM318.3 35.8h0.9v0.9h-0.9zM365.1 35.0h0.9v0.9h-0.9zM319.4 30.8h0.9v0.9h-0.9zM305.4 27.7h0.9v0.9h-0.9zM302.9 29.8h0.9v0.9h-0.9zM312.7 34.6h0.9v0.9h-0.9zM313.2 30.7h0.9v0.9h-0.9zM299.3 38.4h0.9v0.9h-0.9zM328.6 39.0h0.9v0.9h-0.9zM333.5 37.8h0.9v0.9h-0.9zM315.8 34.5h0.9v0.9h-0.9zM366.0 26.4h0.9v0.9h-0.9zM340.0 38.6h0.9v0.9h-0.9zM327.2 34.7h0.9v0.9h-0.9zM341.8 28.7h0.9v0.9h-0.9zM327.1 27.8h0.9v0.9h-0.9zM308.2 28.8h0.9v0.9h-0.9zM317.5 32.1h0.9v0.9h-0.9zM327.9 25.4h0.9v0.9h-0.9zM354.5 36.5h0.9v0.9h-0.9zM332.6 30.0h0.9v0.9h-0.9zM318.4 33.9h0.9v0.9h-0.9zM327.2 24.3h0.9v0.9h-0.9zM332.9 44.1h0.9v0.9h-0.9zM287.8 35.8h0.9v0.9h-0.9zM326.4 31.0h0.9v0.9h-0.9zM343.9 26.4h0.9v0.9h-0.9zM322.8 37.8h0.9v0.9h-0.9zM316.6 29.7h0.9v0.9h-0.9zM322.0 29.6h0.9v0.9h-0.9zM347.0 27.6h0.9v0.9h-0.9zM335.2 26.1h0.9v0.9h-0.9zM331.7 31.0h0.9v0.9h-0.9zM274.9 31.5h0.9v0.9h-0.9zM301.4 29.6h0.9v0.9h-0.9zM346.9 26.7h0.9v0.9h-0.9zM301.5 37.7h0.9v0.9h-0.9zM322.0 38.2h0.9v0.9h-0.9zM325.7 27.7h0.9v0.9h-0.9zM318.8 36.8h0.9v0.9h-0.9zM336.4 31.5h0.9v0.9h-0.9zM320.9 31.0h0.9v0.9h-0.9zM309.9 39.8h0.9v0.9h-0.9zM320.1 26.6h0.9v0.9h-0.9zM311.7 34.6h0.9v0.9h-0.9zM331.2 30.9h0.9v0.9h-0.9zM308.3 31.6h0.9v0.9h-0.9zM290.7 25.9h0.9v0.9h-0.9zM334.0 29.4h0.9v0.9h-0.9zM326.6 36.8h0.9v0.9h-0.9zM331.4 31.6h0.9v0.9h-0.9z" fill="#000" fill-opacity="0.14"/>
<path d="M357.2 34.4h0.9v0.9h-0.9zM313.8 34.7h0.9v0.9h-0.9zM327.1 27.8h0.9v0.9h-0.9zM321.3 30.8h0.9v0.9h-0.9zM285.6 30.8h0.9v0.9h-0.9zM315.1 29.6h0.9v0.9h-0.9zM291.3 30.0h0.9v0.9h-0.9zM319.3 31.9h0.9v0.9h-0.9zM300.2 34.2h0.9v0.9h-0.9zM298.8 30.5h0.9v0.9h-0.9zM342.8 28.5h0.9v0.9h-0.9zM311.1 36.1h0.9v0.9h-0.9zM313.3 30.2h0.9v0.9h-0.9zM323.9 36.0h0.9v0.9h-0.9zM281.5 27.9h0.9v0.9h-0.9zM302.4 26.8h0.9v0.9h-0.9zM305.1 27.9h0.9v0.9h-0.9zM325.3 27.7h0.9v0.9h-0.9zM322.1 33.2h0.9v0.9h-0.9zM307.3 32.1h0.9v0.9h-0.9zM348.5 32.9h0.9v0.9h-0.9zM308.9 31.2h0.9v0.9h-0.9zM304.1 32.7h0.9v0.9h-0.9zM335.0 28.0h0.9v0.9h-0.9zM316.4 36.3h0.9v0.9h-0.9zM311.4 32.3h0.9v0.9h-0.9zM302.2 28.0h0.9v0.9h-0.9zM311.1 40.6h0.9v0.9h-0.9zM313.0 29.3h0.9v0.9h-0.9zM310.4 30.8h0.9v0.9h-0.9zM331.2 32.3h0.9v0.9h-0.9zM355.0 32.4h0.9v0.9h-0.9zM344.6 32.7h0.9v0.9h-0.9zM330.3 25.4h0.9v0.9h-0.9zM317.8 31.2h0.9v0.9h-0.9zM315.9 22.5h0.9v0.9h-0.9zM335.0 29.9h0.9v0.9h-0.9zM312.6 30.4h0.9v0.9h-0.9zM316.1 33.2h0.9v0.9h-0.9zM298.4 27.6h0.9v0.9h-0.9zM324.9 32.1h0.9v0.9h-0.9zM313.6 29.1h0.9v0.9h-0.9zM305.8 31.3h0.9v0.9h-0.9zM340.1 27.1h0.9v0.9h-0.9zM345.9 35.0h0.9v0.9h-0.9zM312.3 34.8h0.9v0.9h-0.9zM295.1 24.2h0.9v0.9h-0.9zM298.1 29.8h0.9v0.9h-0.9zM314.5 29.3h0.9v0.9h-0.9zM321.7 22.5h0.9v0.9h-0.9zM328.4 25.5h0.9v0.9h-0.9zM308.8 29.8h0.9v0.9h-0.9zM300.3 25.7h0.9v0.9h-0.9zM302.9 31.4h0.9v0.9h-0.9zM330.0 33.9h0.9v0.9h-0.9zM303.1 28.2h0.9v0.9h-0.9zM304.3 33.4h0.9v0.9h-0.9zM285.4 36.7h0.9v0.9h-0.9zM311.8 28.2h0.9v0.9h-0.9zM325.8 35.8h0.9v0.9h-0.9zM325.8 35.9h0.9v0.9h-0.9zM322.3 36.7h0.9v0.9h-0.9zM341.2 31.1h0.9v0.9h-0.9zM344.5 32.2h0.9v0.9h-0.9zM321.5 27.6h0.9v0.9h-0.9zM315.1 34.8h0.9v0.9h-0.9zM297.7 34.2h0.9v0.9h-0.9zM325.9 32.7h0.9v0.9h-0.9zM282.5 31.1h0.9v0.9h-0.9zM331.0 28.3h0.9v0.9h-0.9zM321.5 21.5h0.9v0.9h-0.9zM331.4 28.7h0.9v0.9h-0.9zM334.8 23.8h0.9v0.9h-0.9zM331.8 30.5h0.9v0.9h-0.9z" fill="#000" fill-opacity="0.14"/>
<path d="M333.7 27.6h0.9v0.9h-0.9zM309.5 40.9h0.9v0.9h-0.9zM305.9 28.5h0.9v0.9h-0.9zM315.3 27.2h0.9v0.9h-0.9zM340.2 38.7h0.9v0.9h-0.9zM308.0 24.3h0.9v0.9h-0.9zM339.9 36.2h0.9v0.9h-0.9zM334.0 36.4h0.9v0.9h-0.9zM305.3 30.8h0.9v0.9h-0.9zM296.5 25.5h0.9v0.9h-0.9zM336.7 28.7h0.9v0.9h-0.9zM358.8 31.8h0.9v0.9h-0.9zM309.1 34.9h0.9v0.9h-0.9zM350.6 33.5h0.9v0.9h-0.9zM299.3 33.1h0.9v0.9h-0.9zM343.4 29.4h0.9v0.9h-0.9zM306.8 35.8h0.9v0.9h-0.9zM322.4 26.9h0.9v0.9h-0.9zM313.5 28.3h0.9v0.9h-0.9zM325.0 32.0h0.9v0.9h-0.9zM339.6 34.5h0.9v0.9h-0.9zM293.4 33.2h0.9v0.9h-0.9zM335.2 33.4h0.9v0.9h-0.9zM337.5 29.2h0.9v0.9h-0.9zM303.8 35.4h0.9v0.9h-0.9zM301.9 22.4h0.9v0.9h-0.9zM337.4 28.5h0.9v0.9h-0.9zM314.8 25.6h0.9v0.9h-0.9zM297.5 26.6h0.9v0.9h-0.9zM313.9 33.1h0.9v0.9h-0.9zM280.9 34.7h0.9v0.9h-0.9zM299.9 27.0h0.9v0.9h-0.9zM331.5 31.2h0.9v0.9h-0.9zM293.9 39.2h0.9v0.9h-0.9zM305.4 32.5h0.9v0.9h-0.9zM323.4 37.4h0.9v0.9h-0.9zM312.3 35.7h0.9v0.9h-0.9zM307.4 36.2h0.9v0.9h-0.9zM307.0 30.0h0.9v0.9h-0.9zM352.2 32.8h0.9v0.9h-0.9zM321.9 40.9h0.9v0.9h-0.9zM326.1 28.1h0.9v0.9h-0.9zM332.5 26.5h0.9v0.9h-0.9zM339.2 36.6h0.9v0.9h-0.9zM310.3 28.9h0.9v0.9h-0.9zM323.0 31.6h0.9v0.9h-0.9zM303.4 33.9h0.9v0.9h-0.9zM285.3 29.7h0.9v0.9h-0.9zM313.1 30.4h0.9v0.9h-0.9zM325.2 26.3h0.9v0.9h-0.9zM330.0 30.7h0.9v0.9h-0.9zM308.9 25.8h0.9v0.9h-0.9zM299.9 33.0h0.9v0.9h-0.9zM303.6 31.8h0.9v0.9h-0.9zM338.1 35.8h0.9v0.9h-0.9zM346.5 30.3h0.9v0.9h-0.9zM301.6 35.8h0.9v0.9h-0.9zM325.3 36.2h0.9v0.9h-0.9zM320.2 36.5h0.9v0.9h-0.9zM334.4 34.5h0.9v0.9h-0.9zM328.6 33.2h0.9v0.9h-0.9zM324.0 32.4h0.9v0.9h-0.9zM336.8 29.3h0.9v0.9h-0.9zM349.5 31.1h0.9v0.9h-0.9zM336.8 31.1h0.9v0.9h-0.9zM315.8 40.0h0.9v0.9h-0.9zM314.7 26.1h0.9v0.9h-0.9zM307.9 30.2h0.9v0.9h-0.9zM356.6 32.4h0.9v0.9h-0.9zM335.9 27.3h0.9v0.9h-0.9zM326.0 34.3h0.9v0.9h-0.9zM350.6 28.6h0.9v0.9h-0.9z" fill="#000" fill-opacity="0.14"/>
<ellipse cx="322.20" cy="30.90" rx="9.20" ry="6.60" fill="url(#cg)" fill-opacity="0.98"/>
<path d="M325.3 32.1h0.9v0.9h-0.9zM316.4 30.9h0.9v0.9h-0.9zM320.6 22.2h0.9v0.9h-0.9zM325.3 33.1h0.9v0.9h-0.9zM319.6 25.9h0.9v0.9h-0.9zM330.1 32.0h0.9v0.9h-0.9zM327.6 36.4h0.9v0.9h-0.9zM319.1 34.1h0.9v0.9h-0.9zM320.7 30.8h0.9v0.9h-0.9zM321.5 31.0h0.9v0.9h-0.9zM328.1 31.5h0.9v0.9h-0.9zM321.2 29.9h0.9v0.9h-0.9zM323.9 27.6h0.9v0.9h-0.9zM319.2 30.8h0.9v0.9h-0.9zM318.9 30.5h0.9v0.9h-0.9zM318.6 38.6h0.9v0.9h-0.9zM329.3 32.7h0.9v0.9h-0.9zM321.7 39.3h0.9v0.9h-0.9zM323.8 30.7h0.9v0.9h-0.9zM323.7 32.2h0.9v0.9h-0.9zM329.8 30.9h0.9v0.9h-0.9zM333.5 27.6h0.9v0.9h-0.9zM325.8 27.2h0.9v0.9h-0.9zM332.0 29.7h0.9v0.9h-0.9zM321.7 34.5h0.9v0.9h-0.9zM328.9 26.8h0.9v0.9h-0.9zM320.1 25.7h0.9v0.9h-0.9zM322.8 30.6h0.9v0.9h-0.9zM320.1 28.4h0.9v0.9h-0.9zM319.9 28.2h0.9v0.9h-0.9zM324.9 36.8h0.9v0.9h-0.9zM311.4 30.6h0.9v0.9h-0.9zM319.7 32.9h0.9v0.9h-0.9zM316.8 30.4h0.9v0.9h-0.9zM316.3 33.6h0.9v0.9h-0.9zM322.5 30.4h0.9v0.9h-0.9zM324.0 30.1h0.9v0.9h-0.9zM313.5 33.3h0.9v0.9h-0.9zM323.6 30.4h0.9v0.9h-0.9zM327.4 35.6h0.9v0.9h-0.9z" fill="#000" fill-opacity="0.35"/>
<path d="M316.0 28.0h0.9v0.9h-0.9zM330.5 36.4h0.9v0.9h-0.9zM317.9 26.5h0.9v0.9h-0.9zM318.5 29.1h0.9v0.9h-0.9zM313.3 31.1h0.9v0.9h-0.9zM315.0 26.4h0.9v0.9h-0.9zM327.0 28.4h0.9v0.9h-0.9zM321.6 33.4h0.9v0.9h-0.9zM326.5 29.7h0.9v0.9h-0.9zM322.2 27.9h0.9v0.9h-0.9zM331.6 33.5h0.9v0.9h-0.9zM315.9 31.0h0.9v0.9h-0.9zM325.9 32.8h0.9v0.9h-0.9zM332.1 36.2h0.9v0.9h-0.9zM319.0 30.7h0.9v0.9h-0.9zM315.0 31.9h0.9v0.9h-0.9zM322.8 41.3h0.9v0.9h-0.9zM322.5 23.0h0.9v0.9h-0.9zM318.3 31.4h0.9v0.9h-0.9zM315.1 27.7h0.9v0.9h-0.9zM320.0 32.3h0.9v0.9h-0.9zM321.1 27.6h0.9v0.9h-0.9zM326.3 28.9h0.9v0.9h-0.9zM319.3 25.8h0.9v0.9h-0.9zM317.7 33.5h0.9v0.9h-0.9zM313.1 30.7h0.9v0.9h-0.9zM325.9 29.6h0.9v0.9h-0.9zM323.3 26.8h0.9v0.9h-0.9zM329.2 35.2h0.9v0.9h-0.9zM323.3 24.3h0.9v0.9h-0.9zM316.2 34.7h0.9v0.9h-0.9zM331.4 32.1h0.9v0.9h-0.9zM328.9 28.7h0.9v0.9h-0.9zM321.0 31.0h0.9v0.9h-0.9zM324.3 25.2h0.9v0.9h-0.9zM327.2 36.0h0.9v0.9h-0.9zM315.7 25.8h0.9v0.9h-0.9zM323.9 28.5h0.9v0.9h-0.9zM309.0 34.1h0.9v0.9h-0.9zM322.9 29.2h0.9v0.9h-0.9z" fill="#000" fill-opacity="0.35"/>
<path d="M333.6 31.5h0.9v0.9h-0.9zM317.9 31.4h0.9v0.9h-0.9zM316.3 28.1h0.9v0.9h-0.9zM324.1 28.9h0.9v0.9h-0.9zM319.5 37.3h0.9v0.9h-0.9zM326.7 34.1h0.9v0.9h-0.9zM324.9 32.8h0.9v0.9h-0.9zM330.0 30.9h0.9v0.9h-0.9zM332.2 27.4h0.9v0.9h-0.9zM320.6 25.8h0.9v0.9h-0.9zM320.1 33.0h0.9v0.9h-0.9zM330.0 28.5h0.9v0.9h-0.9zM322.0 29.6h0.9v0.9h-0.9zM317.9 26.5h0.9v0.9h-0.9zM322.3 24.4h0.9v0.9h-0.9zM322.6 31.1h0.9v0.9h-0.9zM318.4 27.2h0.9v0.9h-0.9zM314.4 38.1h0.9v0.9h-0.9zM314.6 36.9h0.9v0.9h-0.9zM325.3 29.6h0.9v0.9h-0.9zM315.6 35.0h0.9v0.9h-0.9zM331.5 27.5h0.9v0.9h-0.9zM320.4 35.0h0.9v0.9h-0.9zM323.8 38.6h0.9v0.9h-0.9zM318.9 33.1h0.9v0.9h-0.9zM315.1 39.0h0.9v0.9h-0.9zM318.0 22.6h0.9v0.9h-0.9zM321.3 30.5h0.9v0.9h-0.9zM332.5 29.7h0.9v0.9h-0.9zM321.9 33.3h0.9v0.9h-0.9zM330.7 30.8h0.9v0.9h-0.9zM327.7 33.0h0.9v0.9h-0.9zM320.4 31.3h0.9v0.9h-0.9zM322.2 27.5h0.9v0.9h-0.9zM328.7 25.7h0.9v0.9h-0.9zM328.4 34.6h0.9v0.9h-0.9zM321.5 28.1h0.9v0.9h-0.9zM320.8 32.8h0.9v0.9h-0.9zM326.1 32.1h0.9v0.9h-0.9zM327.5 28.9h0.9v0.9h-0.9z" fill="#000" fill-opacity="0.35"/>
<path d="M414.3 23.6h0.9v0.9h-0.9zM419.6 33.9h0.9v0.9h-0.9zM407.8 40.0h0.9v0.9h-0.9zM418.9 16.1h0.9v0.9h-0.9zM412.4 24.3h0.9v0.9h-0.9zM422.7 47.9h0.9v0.9h-0.9zM406.8 33.4h0.9v0.9h-0.9zM409.5 35.1h0.9v0.9h-0.9zM418.4 40.7h0.9v0.9h-0.9zM402.1 42.4h0.9v0.9h-0.9zM402.7 34.7h0.9v0.9h-0.9zM423.6 37.3h0.9v0.9h-0.9zM402.6 28.8h0.9v0.9h-0.9zM407.4 32.7h0.9v0.9h-0.9zM423.5 25.2h0.9v0.9h-0.9zM416.7 36.7h0.9v0.9h-0.9zM417.6 35.8h0.9v0.9h-0.9zM427.2 35.9h0.9v0.9h-0.9zM420.6 36.4h0.9v0.9h-0.9zM429.9 21.6h0.9v0.9h-0.9zM424.8 31.4h0.9v0.9h-0.9zM409.2 27.2h0.9v0.9h-0.9zM393.3 30.7h0.9v0.9h-0.9zM405.1 36.0h0.9v0.9h-0.9z" fill="#000" fill-opacity="0.12"/>
<path d="M397.3 41.6h0.9v0.9h-0.9zM414.7 31.5h0.9v0.9h-0.9zM404.9 28.3h0.9v0.9h-0.9zM400.7 29.7h0.9v0.9h-0.9zM412.1 31.9h0.9v0.9h-0.9zM397.9 31.4h0.9v0.9h-0.9zM403.1 34.0h0.9v0.9h-0.9zM430.6 36.8h0.9v0.9h-0.9zM408.9 23.3h0.9v0.9h-0.9zM397.9 22.9h0.9v0.9h-0.9zM419.3 28.4h0.9v0.9h-0.9zM412.6 29.3h0.9v0.9h-0.9zM412.9 41.4h0.9v0.9h-0.9zM405.2 31.0h0.9v0.9h-0.9zM403.9 38.2h0.9v0.9h-0.9zM401.7 26.2h0.9v0.9h-0.9zM398.1 24.5h0.9v0.9h-0.9zM416.7 48.4h0.9v0.9h-0.9zM402.0 38.7h0.9v0.9h-0.9zM414.5 26.4h0.9v0.9h-0.9zM409.2 31.6h0.9v0.9h-0.9zM405.1 44.6h0.9v0.9h-0.9zM392.9 35.3h0.9v0.9h-0.9zM415.3 29.5h0.9v0.9h-0.9z" fill="#000" fill-opacity="0.12"/>
<path d="M413.5 38.3h0.9v0.9h-0.9zM413.5 35.5h0.9v0.9h-0.9zM418.9 20.8h0.9v0.9h-0.9zM426.8 46.7h0.9v0.9h-0.9zM421.8 39.1h0.9v0.9h-0.9zM397.9 32.3h0.9v0.9h-0.9zM403.9 29.5h0.9v0.9h-0.9zM421.7 28.2h0.9v0.9h-0.9zM410.7 21.5h0.9v0.9h-0.9zM410.4 33.5h0.9v0.9h-0.9zM405.0 28.7h0.9v0.9h-0.9zM430.9 25.7h0.9v0.9h-0.9zM401.5 28.1h0.9v0.9h-0.9zM424.0 45.6h0.9v0.9h-0.9zM415.3 28.7h0.9v0.9h-0.9zM407.7 39.4h0.9v0.9h-0.9zM402.9 41.7h0.9v0.9h-0.9zM426.2 33.4h0.9v0.9h-0.9zM418.5 37.5h0.9v0.9h-0.9zM427.5 26.7h0.9v0.9h-0.9zM423.8 30.7h0.9v0.9h-0.9zM404.3 33.6h0.9v0.9h-0.9z" fill="#000" fill-opacity="0.12"/>
<ellipse cx="415.40" cy="32.00" rx="5.00" ry="8.70" fill="url(#cg)" fill-opacity="0.98" transform="rotate(8 415.40 32.00)"/>
<path d="M414.8 27.1h0.9v0.9h-0.9zM410.6 27.3h0.9v0.9h-0.9zM419.8 41.8h0.9v0.9h-0.9zM417.4 37.9h0.9v0.9h-0.9zM413.8 31.6h0.9v0.9h-0.9zM416.2 26.6h0.9v0.9h-0.9zM412.4 32.5h0.9v0.9h-0.9zM414.4 26.7h0.9v0.9h-0.9zM416.6 30.7h0.9v0.9h-0.9zM418.5 32.0h0.9v0.9h-0.9zM414.5 32.6h0.9v0.9h-0.9zM414.9 28.7h0.9v0.9h-0.9zM414.2 35.7h0.9v0.9h-0.9zM417.3 38.4h0.9v0.9h-0.9zM410.3 30.0h0.9v0.9h-0.9zM414.2 32.9h0.9v0.9h-0.9zM414.0 29.4h0.9v0.9h-0.9zM417.7 32.9h0.9v0.9h-0.9zM411.9 38.7h0.9v0.9h-0.9zM418.4 29.1h0.9v0.9h-0.9zM417.9 28.3h0.9v0.9h-0.9zM418.8 30.9h0.9v0.9h-0.9zM413.0 30.1h0.9v0.9h-0.9zM413.1 33.0h0.9v0.9h-0.9zM415.9 32.2h0.9v0.9h-0.9zM413.7 13.7h0.9v0.9h-0.9zM415.7 22.5h0.9v0.9h-0.9z" fill="#000" fill-opacity="0.35"/>
<path d="M416.1 37.7h0.9v0.9h-0.9zM416.2 30.1h0.9v0.9h-0.9zM414.9 31.3h0.9v0.9h-0.9zM413.8 29.1h0.9v0.9h-0.9zM412.6 37.9h0.9v0.9h-0.9zM415.4 36.8h0.9v0.9h-0.9zM414.6 32.4h0.9v0.9h-0.9zM414.9 34.3h0.9v0.9h-0.9zM417.9 33.2h0.9v0.9h-0.9zM413.4 28.1h0.9v0.9h-0.9zM420.4 30.6h0.9v0.9h-0.9zM414.5 39.3h0.9v0.9h-0.9zM418.7 34.7h0.9v0.9h-0.9zM414.2 43.8h0.9v0.9h-0.9zM416.6 34.7h0.9v0.9h-0.9zM414.9 24.9h0.9v0.9h-0.9zM411.4 34.0h0.9v0.9h-0.9zM416.6 30.8h0.9v0.9h-0.9zM411.9 24.8h0.9v0.9h-0.9zM414.4 24.7h0.9v0.9h-0.9zM418.1 37.8h0.9v0.9h-0.9zM423.9 36.4h0.9v0.9h-0.9zM413.6 27.6h0.9v0.9h-0.9zM405.0 29.0h0.9v0.9h-0.9zM414.9 36.8h0.9v0.9h-0.9zM417.2 34.9h0.9v0.9h-0.9zM416.0 35.3h0.9v0.9h-0.9z" fill="#000" fill-opacity="0.35"/>
<path d="M419.7 26.7h0.9v0.9h-0.9zM414.0 25.1h0.9v0.9h-0.9zM420.3 38.5h0.9v0.9h-0.9zM417.7 26.0h0.9v0.9h-0.9zM415.9 30.8h0.9v0.9h-0.9zM415.6 31.1h0.9v0.9h-0.9zM417.0 30.0h0.9v0.9h-0.9zM418.0 33.2h0.9v0.9h-0.9zM414.5 31.4h0.9v0.9h-0.9zM414.1 36.1h0.9v0.9h-0.9zM414.6 33.5h0.9v0.9h-0.9zM414.2 24.6h0.9v0.9h-0.9zM418.1 26.7h0.9v0.9h-0.9zM417.4 34.1h0.9v0.9h-0.9zM410.4 27.3h0.9v0.9h-0.9zM413.9 27.9h0.9v0.9h-0.9zM411.9 35.7h0.9v0.9h-0.9zM414.7 33.9h0.9v0.9h-0.9zM414.1 33.5h0.9v0.9h-0.9zM413.1 31.9h0.9v0.9h-0.9zM417.1 32.2h0.9v0.9h-0.9zM414.0 26.6h0.9v0.9h-0.9zM415.9 33.7h0.9v0.9h-0.9zM414.6 28.2h0.9v0.9h-0.9zM417.0 44.4h0.9v0.9h-0.9zM414.5 33.7h0.9v0.9h-0.9z" fill="#000" fill-opacity="0.35"/>
<path d="M461.5 15.5h0.9v0.9h-0.9zM459.8 30.3h0.9v0.9h-0.9zM468.0 34.0h0.9v0.9h-0.9zM453.9 34.3h0.9v0.9h-0.9zM460.1 31.5h0.9v0.9h-0.9zM458.7 25.2h0.9v0.9h-0.9zM457.5 42.2h0.9v0.9h-0.9zM471.8 41.7h0.9v0.9h-0.9zM460.8 45.5h0.9v0.9h-0.9zM465.6 49.3h0.9v0.9h-0.9zM466.0 35.1h0.9v0.9h-0.9zM460.7 37.4h0.9v0.9h-0.9zM461.0 37.6h0.9v0.9h-0.9zM453.9 19.2h0.9v0.9h-0.9zM454.6 19.8h0.9v0.9h-0.9zM459.4 36.0h0.9v0.9h-0.9zM448.1 41.5h0.9v0.9h-0.9zM464.6 36.8h0.9v0.9h-0.9zM469.8 51.0h0.9v0.9h-0.9zM451.2 44.3h0.9v0.9h-0.9zM461.9 39.3h0.9v0.9h-0.9zM465.1 30.2h0.9v0.9h-0.9zM455.1 29.4h0.9v0.9h-0.9zM454.1 35.2h0.9v0.9h-0.9zM449.6 27.6h0.9v0.9h-0.9zM462.8 35.4h0.9v0.9h-0.9zM461.5 20.9h0.9v0.9h-0.9zM453.9 31.6h0.9v0.9h-0.9zM459.2 31.3h0.9v0.9h-0.9zM465.1 35.5h0.9v0.9h-0.9zM459.1 36.1h0.9v0.9h-0.9zM463.6 32.2h0.9v0.9h-0.9zM466.3 39.7h0.9v0.9h-0.9zM460.0 36.3h0.9v0.9h-0.9zM462.4 44.1h0.9v0.9h-0.9zM465.1 39.0h0.9v0.9h-0.9zM464.7 36.9h0.9v0.9h-0.9zM467.1 35.8h0.9v0.9h-0.9zM445.5 46.7h0.9v0.9h-0.9zM459.7 26.6h0.9v0.9h-0.9z" fill="#000" fill-opacity="0.14"/>
<path d="M457.7 28.9h0.9v0.9h-0.9zM472.7 40.0h0.9v0.9h-0.9zM448.8 40.4h0.9v0.9h-0.9zM456.4 51.3h0.9v0.9h-0.9zM452.2 18.0h0.9v0.9h-0.9zM459.4 33.2h0.9v0.9h-0.9zM456.3 18.9h0.9v0.9h-0.9zM461.8 49.4h0.9v0.9h-0.9zM446.6 45.4h0.9v0.9h-0.9zM455.3 54.8h0.9v0.9h-0.9zM461.8 34.5h0.9v0.9h-0.9zM466.2 40.2h0.9v0.9h-0.9zM455.1 41.7h0.9v0.9h-0.9zM455.7 21.7h0.9v0.9h-0.9zM472.2 33.2h0.9v0.9h-0.9zM455.0 38.7h0.9v0.9h-0.9zM448.9 25.2h0.9v0.9h-0.9zM455.8 31.8h0.9v0.9h-0.9zM459.5 45.0h0.9v0.9h-0.9zM455.9 39.9h0.9v0.9h-0.9zM462.9 27.3h0.9v0.9h-0.9zM460.5 28.5h0.9v0.9h-0.9zM465.9 39.6h0.9v0.9h-0.9zM459.1 25.3h0.9v0.9h-0.9zM459.8 29.9h0.9v0.9h-0.9zM463.6 35.0h0.9v0.9h-0.9zM453.7 43.4h0.9v0.9h-0.9zM463.7 31.3h0.9v0.9h-0.9zM466.6 33.6h0.9v0.9h-0.9zM457.0 37.0h0.9v0.9h-0.9zM454.1 32.5h0.9v0.9h-0.9zM458.0 48.2h0.9v0.9h-0.9zM468.7 33.9h0.9v0.9h-0.9zM469.5 35.7h0.9v0.9h-0.9zM461.5 43.1h0.9v0.9h-0.9zM460.9 55.3h0.9v0.9h-0.9zM460.6 26.4h0.9v0.9h-0.9zM467.5 32.7h0.9v0.9h-0.9zM457.0 12.1h0.9v0.9h-0.9zM465.5 42.5h0.9v0.9h-0.9z" fill="#000" fill-opacity="0.14"/>
<path d="M464.2 43.8h0.9v0.9h-0.9zM470.0 35.6h0.9v0.9h-0.9zM465.1 30.0h0.9v0.9h-0.9zM456.7 44.5h0.9v0.9h-0.9zM461.5 25.3h0.9v0.9h-0.9zM461.3 34.5h0.9v0.9h-0.9zM453.7 39.5h0.9v0.9h-0.9zM456.4 23.4h0.9v0.9h-0.9zM451.8 50.2h0.9v0.9h-0.9zM449.2 37.8h0.9v0.9h-0.9zM463.0 41.1h0.9v0.9h-0.9zM451.0 33.4h0.9v0.9h-0.9zM459.9 42.4h0.9v0.9h-0.9zM454.8 26.7h0.9v0.9h-0.9zM465.5 44.8h0.9v0.9h-0.9zM461.4 31.1h0.9v0.9h-0.9zM461.6 36.9h0.9v0.9h-0.9zM464.4 26.0h0.9v0.9h-0.9zM459.8 34.7h0.9v0.9h-0.9zM451.8 37.7h0.9v0.9h-0.9zM459.2 32.7h0.9v0.9h-0.9zM461.6 24.6h0.9v0.9h-0.9zM458.7 39.5h0.9v0.9h-0.9zM460.8 44.6h0.9v0.9h-0.9zM451.2 23.9h0.9v0.9h-0.9zM460.6 39.6h0.9v0.9h-0.9zM472.8 40.9h0.9v0.9h-0.9zM453.3 42.4h0.9v0.9h-0.9zM453.5 24.1h0.9v0.9h-0.9zM476.0 38.6h0.9v0.9h-0.9zM463.6 40.5h0.9v0.9h-0.9zM470.8 38.3h0.9v0.9h-0.9zM466.9 27.8h0.9v0.9h-0.9zM450.0 47.4h0.9v0.9h-0.9zM468.6 40.1h0.9v0.9h-0.9zM460.5 37.3h0.9v0.9h-0.9zM454.5 48.3h0.9v0.9h-0.9zM463.3 40.0h0.9v0.9h-0.9zM461.4 44.4h0.9v0.9h-0.9zM462.3 42.0h0.9v0.9h-0.9z" fill="#000" fill-opacity="0.14"/>
<ellipse cx="458.80" cy="31.50" rx="6.60" ry="8.80" fill="url(#cg)" fill-opacity="0.96" transform="rotate(-5 458.80 31.50)"/>
<ellipse cx="459.50" cy="37.00" rx="5.80" ry="7.00" fill="url(#cg)" fill-opacity="0.7" transform="rotate(-5 459.50 37.00)"/>
<path d="M454.1 37.3h0.9v0.9h-0.9zM468.2 30.6h0.9v0.9h-0.9zM458.5 39.8h0.9v0.9h-0.9zM463.0 38.1h0.9v0.9h-0.9zM452.2 37.3h0.9v0.9h-0.9zM454.0 28.6h0.9v0.9h-0.9zM461.3 32.1h0.9v0.9h-0.9zM462.4 54.5h0.9v0.9h-0.9zM462.3 38.7h0.9v0.9h-0.9zM455.2 29.8h0.9v0.9h-0.9zM454.5 30.5h0.9v0.9h-0.9zM454.4 29.7h0.9v0.9h-0.9zM458.1 27.5h0.9v0.9h-0.9zM453.0 25.2h0.9v0.9h-0.9zM460.9 34.4h0.9v0.9h-0.9zM463.3 40.8h0.9v0.9h-0.9zM457.6 38.4h0.9v0.9h-0.9zM452.9 48.8h0.9v0.9h-0.9zM464.0 32.6h0.9v0.9h-0.9zM454.1 36.5h0.9v0.9h-0.9zM451.1 28.9h0.9v0.9h-0.9zM462.1 34.5h0.9v0.9h-0.9zM456.9 40.2h0.9v0.9h-0.9zM454.6 35.9h0.9v0.9h-0.9zM456.9 28.5h0.9v0.9h-0.9zM460.9 27.5h0.9v0.9h-0.9zM467.0 30.2h0.9v0.9h-0.9zM467.4 26.9h0.9v0.9h-0.9zM461.5 26.2h0.9v0.9h-0.9zM453.4 35.0h0.9v0.9h-0.9zM461.8 25.7h0.9v0.9h-0.9zM464.0 28.8h0.9v0.9h-0.9zM459.6 36.5h0.9v0.9h-0.9zM461.5 22.3h0.9v0.9h-0.9zM465.8 37.7h0.9v0.9h-0.9zM457.2 27.3h0.9v0.9h-0.9zM451.9 25.2h0.9v0.9h-0.9zM461.3 31.8h0.9v0.9h-0.9zM454.2 30.6h0.9v0.9h-0.9zM465.6 31.9h0.9v0.9h-0.9zM456.5 42.8h0.9v0.9h-0.9zM460.9 34.3h0.9v0.9h-0.9zM456.4 23.9h0.9v0.9h-0.9zM454.1 30.9h0.9v0.9h-0.9zM458.1 36.3h0.9v0.9h-0.9zM461.3 35.4h0.9v0.9h-0.9zM459.9 27.5h0.9v0.9h-0.9zM450.0 30.6h0.9v0.9h-0.9zM455.0 29.8h0.9v0.9h-0.9zM457.8 25.9h0.9v0.9h-0.9z" fill="#000" fill-opacity="0.35"/>
<path d="M454.3 33.3h0.9v0.9h-0.9zM459.5 29.7h0.9v0.9h-0.9zM461.1 32.6h0.9v0.9h-0.9zM454.7 34.3h0.9v0.9h-0.9zM466.9 29.6h0.9v0.9h-0.9zM463.9 43.0h0.9v0.9h-0.9zM465.3 28.7h0.9v0.9h-0.9zM467.5 34.8h0.9v0.9h-0.9zM457.9 32.5h0.9v0.9h-0.9zM461.5 34.3h0.9v0.9h-0.9zM458.3 42.3h0.9v0.9h-0.9zM456.0 27.2h0.9v0.9h-0.9zM462.3 38.6h0.9v0.9h-0.9zM463.6 27.0h0.9v0.9h-0.9zM463.5 37.1h0.9v0.9h-0.9zM466.4 25.9h0.9v0.9h-0.9zM459.9 32.2h0.9v0.9h-0.9zM452.3 29.4h0.9v0.9h-0.9zM463.7 31.0h0.9v0.9h-0.9zM456.0 39.6h0.9v0.9h-0.9zM463.2 40.4h0.9v0.9h-0.9zM455.7 33.6h0.9v0.9h-0.9zM463.3 29.7h0.9v0.9h-0.9zM455.9 39.4h0.9v0.9h-0.9zM465.6 26.5h0.9v0.9h-0.9zM448.1 24.6h0.9v0.9h-0.9zM454.7 33.1h0.9v0.9h-0.9zM461.6 33.0h0.9v0.9h-0.9zM456.1 35.0h0.9v0.9h-0.9zM455.0 33.7h0.9v0.9h-0.9zM456.3 51.4h0.9v0.9h-0.9zM462.4 28.6h0.9v0.9h-0.9zM454.8 31.2h0.9v0.9h-0.9zM452.1 29.3h0.9v0.9h-0.9zM455.9 39.7h0.9v0.9h-0.9zM457.2 28.9h0.9v0.9h-0.9zM453.4 26.4h0.9v0.9h-0.9zM458.7 32.6h0.9v0.9h-0.9zM463.8 29.9h0.9v0.9h-0.9zM463.4 35.7h0.9v0.9h-0.9zM459.0 20.9h0.9v0.9h-0.9zM453.6 38.8h0.9v0.9h-0.9zM464.9 35.3h0.9v0.9h-0.9zM462.2 31.3h0.9v0.9h-0.9zM457.4 29.7h0.9v0.9h-0.9zM463.1 36.2h0.9v0.9h-0.9zM458.0 31.9h0.9v0.9h-0.9zM461.3 36.1h0.9v0.9h-0.9zM455.5 45.2h0.9v0.9h-0.9zM460.1 34.1h0.9v0.9h-0.9z" fill="#000" fill-opacity="0.35"/>
<path d="M465.2 40.7h0.9v0.9h-0.9zM458.6 37.5h0.9v0.9h-0.9zM454.5 29.8h0.9v0.9h-0.9zM449.5 41.9h0.9v0.9h-0.9zM451.0 38.4h0.9v0.9h-0.9zM455.5 27.6h0.9v0.9h-0.9zM458.2 35.7h0.9v0.9h-0.9zM461.6 45.5h0.9v0.9h-0.9zM460.5 39.7h0.9v0.9h-0.9zM456.5 38.6h0.9v0.9h-0.9zM459.6 31.0h0.9v0.9h-0.9zM458.6 33.6h0.9v0.9h-0.9zM459.8 36.6h0.9v0.9h-0.9zM456.9 29.2h0.9v0.9h-0.9zM462.1 23.0h0.9v0.9h-0.9zM456.4 44.1h0.9v0.9h-0.9zM447.6 29.5h0.9v0.9h-0.9zM461.9 23.3h0.9v0.9h-0.9zM469.9 17.2h0.9v0.9h-0.9zM465.0 44.1h0.9v0.9h-0.9zM462.8 32.6h0.9v0.9h-0.9zM460.5 28.2h0.9v0.9h-0.9zM462.4 26.7h0.9v0.9h-0.9zM457.8 40.5h0.9v0.9h-0.9zM454.3 31.6h0.9v0.9h-0.9zM459.7 25.3h0.9v0.9h-0.9zM463.9 36.2h0.9v0.9h-0.9zM452.6 33.7h0.9v0.9h-0.9zM455.7 29.7h0.9v0.9h-0.9zM459.3 29.4h0.9v0.9h-0.9zM463.1 29.4h0.9v0.9h-0.9zM463.1 33.7h0.9v0.9h-0.9zM462.6 30.5h0.9v0.9h-0.9zM456.9 26.5h0.9v0.9h-0.9zM461.4 40.1h0.9v0.9h-0.9zM467.9 42.4h0.9v0.9h-0.9zM460.0 32.6h0.9v0.9h-0.9zM460.6 33.8h0.9v0.9h-0.9zM465.1 40.1h0.9v0.9h-0.9zM455.5 29.5h0.9v0.9h-0.9zM464.7 36.0h0.9v0.9h-0.9zM458.0 41.7h0.9v0.9h-0.9zM457.4 32.2h0.9v0.9h-0.9zM457.1 21.2h0.9v0.9h-0.9zM462.6 26.1h0.9v0.9h-0.9zM456.6 29.2h0.9v0.9h-0.9zM462.1 33.6h0.9v0.9h-0.9zM459.1 23.1h0.9v0.9h-0.9zM458.6 24.4h0.9v0.9h-0.9zM460.3 36.4h0.9v0.9h-0.9z" fill="#000" fill-opacity="0.35"/>
<line x1="30.50" y1="74.20" x2="30.50" y2="28.00" stroke="#000" stroke-width="1.4"/>
<polygon points="30.50,17.80 34.60,27.50 26.40,27.50" fill="#000"/>
<text x="28.60" y="59.50" font-size="10.5" font-weight="bold" text-anchor="middle" fill="#000" transform="rotate(-90 28.60 59.50)" textLength="18.30" lengthAdjust="spacingAndGlyphs" stroke="#000" stroke-width="0.42">CD8</text>
<line x1="40.10" y1="83.70" x2="89.30" y2="83.70" stroke="#000" stroke-width="1.4"/>
<polygon points="97.60,83.70 88.80,80.40 88.80,87.00" fill="#000"/>
<text x="39.70" y="94.50" font-size="9.5" font-weight="bold" text-anchor="start" fill="#000" textLength="58.30" lengthAdjust="spacingAndGlyphs" stroke="#000" stroke-width="0.42">CD79b<tspan font-size="6.5" dy="2.3">173</tspan><tspan dy="-2.3">:A2</tspan></text>
<text x="0.00" y="112.20" font-size="11.5" font-weight="bold" text-anchor="start" fill="#000" textLength="8.20" lengthAdjust="spacingAndGlyphs" stroke="#000" stroke-width="0.8">B</text>
<line x1="34.20" y1="112.50" x2="34.20" y2="209.30" stroke="#000" stroke-width="1.2"/>
<line x1="33.60" y1="208.70" x2="180.60" y2="208.70" stroke="#000" stroke-width="1.2"/>
<line x1="31.40" y1="113.60" x2="34.20" y2="113.60" stroke="#000" stroke-width="1.0"/>
<text x="30.60" y="116.10" font-size="7.2" font-weight="bold" text-anchor="end" fill="#000" stroke="#000" stroke-width="0.42">1.5</text>
<line x1="31.40" y1="145.30" x2="34.20" y2="145.30" stroke="#000" stroke-width="1.0"/>
<text x="30.60" y="147.80" font-size="7.2" font-weight="bold" text-anchor="end" fill="#000" stroke="#000" stroke-width="0.42">1.0</text>
<line x1="31.40" y1="177.00" x2="34.20" y2="177.00" stroke="#000" stroke-width="1.0"/>
<text x="30.60" y="179.50" font-size="7.2" font-weight="bold" text-anchor="end" fill="#000" stroke="#000" stroke-width="0.42">0.5</text>
<line x1="31.40" y1="208.70" x2="34.20" y2="208.70" stroke="#000" stroke-width="1.0"/>
<text x="30.60" y="211.20" font-size="7.2" font-weight="bold" text-anchor="end" fill="#000" stroke="#000" stroke-width="0.42">0.0</text>
<line x1="49.60" y1="208.70" x2="49.60" y2="211.50" stroke="#000" stroke-width="1.0"/>
<text x="49.60" y="219.60" font-size="7.3" font-weight="bold" text-anchor="middle" fill="#000" stroke="#000" stroke-width="0.42">1600</text>
<line x1="78.50" y1="208.70" x2="78.50" y2="211.50" stroke="#000" stroke-width="1.0"/>
<text x="78.50" y="219.60" font-size="7.3" font-weight="bold" text-anchor="middle" fill="#000" stroke="#000" stroke-width="0.42">62.5</text>
<line x1="107.70" y1="208.70" x2="107.70" y2="211.50" stroke="#000" stroke-width="1.0"/>
<text x="107.70" y="219.60" font-size="7.3" font-weight="bold" text-anchor="middle" fill="#000" stroke="#000" stroke-width="0.42">25</text>
<line x1="136.50" y1="208.70" x2="136.50" y2="211.50" stroke="#000" stroke-width="1.0"/>
<text x="136.50" y="219.60" font-size="7.3" font-weight="bold" text-anchor="middle" fill="#000" stroke="#000" stroke-width="0.42">0.1</text>
<line x1="165.50" y1="208.70" x2="165.50" y2="211.50" stroke="#000" stroke-width="1.0"/>
<text x="165.50" y="219.60" font-size="7.3" font-weight="bold" text-anchor="middle" fill="#000" stroke="#000" stroke-width="0.42">0</text>
<text x="106.60" y="230.40" font-size="8.0" font-weight="bold" text-anchor="middle" fill="#000" textLength="47.00" lengthAdjust="spacingAndGlyphs" stroke="#000" stroke-width="0.42">Peptide (nM)</text>
<text x="16.60" y="161.30" font-size="8.2" font-weight="bold" text-anchor="middle" fill="#000" transform="rotate(-90 16.60 161.30)" textLength="59.00" lengthAdjust="spacingAndGlyphs" stroke="#000" stroke-width="0.42">IFN-&#947; (OD<tspan font-size="5.2" dy="1.8">450nm</tspan><tspan dy="-1.8">)</tspan></text>
<polyline points="49.60,129.45 78.50,131.35 107.70,131.99 136.50,135.47 165.50,131.99" fill="none" stroke="#000" stroke-width="1.2" stroke-dasharray="1.5,1.2,0.6,1.2,0.6,1.2" stroke-linejoin="round"/>
<polyline points="49.60,204.58 78.50,204.90 107.70,205.85 136.50,205.85 165.50,205.85" fill="none" stroke="#000" stroke-width="1.2" stroke-dasharray="0.9,1.3" stroke-linejoin="round"/>
<polyline points="49.60,162.23 78.50,182.39 107.70,198.56 136.50,201.73 165.50,202.68" fill="none" stroke="#000" stroke-width="1.3" stroke-dasharray="2.5,1.3,0.8,1.3" stroke-linejoin="round"/>
<polyline points="49.60,187.78 78.50,199.19 107.70,205.53 136.50,202.36 165.50,204.90" fill="none" stroke="#000" stroke-width="1.3" stroke-dasharray="2.8,1.6" stroke-linejoin="round"/>
<polyline points="49.60,131.35 78.50,128.82 107.70,127.55 136.50,145.93 165.50,203.63" fill="none" stroke="#000" stroke-width="1.4" stroke-linejoin="round"/>
<polygon points="49.60,126.37 52.68,129.45 49.60,132.53 46.52,129.45" fill="#fff" stroke="#000" stroke-width="1.38"/>
<polygon points="78.50,128.27 81.58,131.35 78.50,134.43 75.42,131.35" fill="#fff" stroke="#000" stroke-width="1.38"/>
<polygon points="107.70,128.91 110.78,131.99 107.70,135.07 104.62,131.99" fill="#fff" stroke="#000" stroke-width="1.38"/>
<polygon points="136.50,132.39 139.58,135.47 136.50,138.55 133.42,135.47" fill="#fff" stroke="#000" stroke-width="1.38"/>
<polygon points="165.50,128.91 168.58,131.99 165.50,135.07 162.42,131.99" fill="#fff" stroke="#000" stroke-width="1.38"/>
<polygon points="49.60,201.28 52.90,207.05 46.30,207.05" fill="#fff" stroke="#000" stroke-width="1.25"/>
<polygon points="78.50,201.60 81.80,207.37 75.20,207.37" fill="#fff" stroke="#000" stroke-width="1.25"/>
<polygon points="107.70,202.55 111.00,208.32 104.40,208.32" fill="#fff" stroke="#000" stroke-width="1.25"/>
<polygon points="136.50,202.55 139.80,208.32 133.20,208.32" fill="#fff" stroke="#000" stroke-width="1.25"/>
<polygon points="165.50,202.55 168.80,208.32 162.20,208.32" fill="#fff" stroke="#000" stroke-width="1.25"/>
<rect x="46.85" y="159.48" width="5.50" height="5.50" fill="#fff" stroke="#000" stroke-width="1.25"/>
<rect x="75.75" y="179.64" width="5.50" height="5.50" fill="#fff" stroke="#000" stroke-width="1.25"/>
<rect x="104.95" y="195.81" width="5.50" height="5.50" fill="#fff" stroke="#000" stroke-width="1.25"/>
<rect x="133.75" y="198.98" width="5.50" height="5.50" fill="#fff" stroke="#000" stroke-width="1.25"/>
<rect x="162.75" y="199.93" width="5.50" height="5.50" fill="#fff" stroke="#000" stroke-width="1.25"/>
<polygon points="49.60,191.08 52.90,185.30 46.30,185.30" fill="#fff" stroke="#000" stroke-width="1.25"/>
<polygon points="78.50,202.49 81.80,196.72 75.20,196.72" fill="#fff" stroke="#000" stroke-width="1.25"/>
<polygon points="107.70,208.83 111.00,203.06 104.40,203.06" fill="#fff" stroke="#000" stroke-width="1.25"/>
<polygon points="136.50,205.66 139.80,199.88 133.20,199.88" fill="#fff" stroke="#000" stroke-width="1.25"/>
<polygon points="165.50,208.20 168.80,202.42 162.20,202.42" fill="#fff" stroke="#000" stroke-width="1.25"/>
<circle cx="49.60" cy="131.35" r="2.70" fill="#000"/>
<circle cx="78.50" cy="128.82" r="2.70" fill="#000"/>
<circle cx="107.70" cy="127.55" r="2.70" fill="#000"/>
<circle cx="136.50" cy="145.93" r="2.70" fill="#000"/>
<circle cx="165.50" cy="203.63" r="2.70" fill="#000"/>
<line x1="186.00" y1="117.30" x2="197.00" y2="117.30" stroke="#000" stroke-width="1.2" stroke-dasharray="1.5,1.2,0.6,1.2"/>
<polygon points="191.50,114.22 194.58,117.30 191.50,120.38 188.42,117.30" fill="#fff" stroke="#000" stroke-width="1.38"/>
<text x="202.80" y="120.30" font-size="8.6" font-weight="normal" text-anchor="start" fill="#000" textLength="18.30" lengthAdjust="spacingAndGlyphs" stroke="#000" stroke-width="0.3">K110</text>
<line x1="186.00" y1="128.80" x2="197.00" y2="128.80" stroke="#000" stroke-width="1.2" stroke-dasharray="0.9,1.3"/>
<polygon points="191.50,125.50 194.80,131.28 188.20,131.28" fill="#fff" stroke="#000" stroke-width="1.25"/>
<text x="202.80" y="131.80" font-size="8.6" font-weight="normal" text-anchor="start" fill="#000" textLength="13.40" lengthAdjust="spacingAndGlyphs" stroke="#000" stroke-width="0.3">K64</text>
<line x1="186.00" y1="139.60" x2="197.00" y2="139.60" stroke="#000" stroke-width="1.2" stroke-dasharray="2.5,1.3,0.8,1.3"/>
<rect x="188.75" y="136.85" width="5.50" height="5.50" fill="#fff" stroke="#000" stroke-width="1.25"/>
<text x="202.80" y="142.60" font-size="8.6" font-weight="normal" text-anchor="start" fill="#000" textLength="13.80" lengthAdjust="spacingAndGlyphs" stroke="#000" stroke-width="0.3">K68</text>
<line x1="186.00" y1="150.80" x2="197.00" y2="150.80" stroke="#000" stroke-width="1.2" stroke-dasharray="2.8,1.6"/>
<polygon points="191.50,154.10 194.80,148.33 188.20,148.33" fill="#fff" stroke="#000" stroke-width="1.25"/>
<text x="202.80" y="153.80" font-size="8.6" font-weight="normal" text-anchor="start" fill="#000" textLength="18.40" lengthAdjust="spacingAndGlyphs" stroke="#000" stroke-width="0.3">K116</text>
<line x1="186.00" y1="162.00" x2="197.00" y2="162.00" stroke="#000" stroke-width="1.4"/>
<circle cx="191.50" cy="162.00" r="2.70" fill="#000"/>
<text x="202.80" y="165.00" font-size="8.6" font-weight="normal" text-anchor="start" fill="#000" textLength="18.50" lengthAdjust="spacingAndGlyphs" stroke="#000" stroke-width="0.3">K308</text>
<text x="246.00" y="112.20" font-size="11.5" font-weight="bold" text-anchor="start" fill="#000" textLength="8.60" lengthAdjust="spacingAndGlyphs" stroke="#000" stroke-width="0.8">C</text>
<line x1="282.70" y1="112.40" x2="282.70" y2="209.80" stroke="#000" stroke-width="1.2"/>
<line x1="282.10" y1="209.20" x2="429.00" y2="209.20" stroke="#000" stroke-width="1.2"/>
<line x1="279.90" y1="112.90" x2="282.70" y2="112.90" stroke="#000" stroke-width="1.0"/>
<text x="280.10" y="115.40" font-size="7.2" font-weight="bold" text-anchor="end" fill="#000" stroke="#000" stroke-width="0.42">1.5</text>
<line x1="279.90" y1="145.00" x2="282.70" y2="145.00" stroke="#000" stroke-width="1.0"/>
<text x="280.10" y="147.50" font-size="7.2" font-weight="bold" text-anchor="end" fill="#000" stroke="#000" stroke-width="0.42">1.0</text>
<line x1="279.90" y1="177.10" x2="282.70" y2="177.10" stroke="#000" stroke-width="1.0"/>
<text x="280.10" y="179.60" font-size="7.2" font-weight="bold" text-anchor="end" fill="#000" stroke="#000" stroke-width="0.42">0.5</text>
<line x1="279.90" y1="209.20" x2="282.70" y2="209.20" stroke="#000" stroke-width="1.0"/>
<text x="280.10" y="211.70" font-size="7.2" font-weight="bold" text-anchor="end" fill="#000" stroke="#000" stroke-width="0.42">0.0</text>
<text x="266.60" y="161.00" font-size="8.2" font-weight="bold" text-anchor="middle" fill="#000" transform="rotate(-90 266.60 161.00)" textLength="58.00" lengthAdjust="spacingAndGlyphs" stroke="#000" stroke-width="0.42">IFN-&#947; (OD<tspan font-size="5.2" dy="1.8">450nm</tspan><tspan dy="-1.8">)</tspan></text>
<line x1="298.00" y1="209.20" x2="298.00" y2="211.80" stroke="#000" stroke-width="1.0"/>
<text x="298.00" y="219.60" font-size="7.5" font-weight="bold" text-anchor="middle" fill="#000" stroke="#000" stroke-width="0.42">K110</text>
<rect x="286.20" y="132.16" width="4.40" height="77.04" fill="#fff" stroke="#888" stroke-width="0.7"/>
<rect x="292.50" y="128.31" width="4.40" height="80.89" fill="#a8a8a8" stroke="#999" stroke-width="0.7"/>
<rect x="298.90" y="138.58" width="4.40" height="70.62" fill="#6e6e6e" stroke="#666" stroke-width="0.7"/>
<rect x="305.10" y="130.88" width="4.40" height="78.32" fill="#2e2e2e" stroke="#2e2e2e" stroke-width="0.7"/>
<line x1="327.00" y1="209.20" x2="327.00" y2="211.80" stroke="#000" stroke-width="1.0"/>
<text x="327.00" y="219.60" font-size="7.5" font-weight="bold" text-anchor="middle" fill="#000" stroke="#000" stroke-width="0.42">K64</text>
<rect x="315.20" y="205.35" width="4.40" height="3.85" fill="#fff" stroke="#888" stroke-width="0.7"/>
<rect x="321.50" y="205.35" width="4.40" height="3.85" fill="#a8a8a8" stroke="#999" stroke-width="0.7"/>
<rect x="327.90" y="205.99" width="4.40" height="3.21" fill="#6e6e6e" stroke="#666" stroke-width="0.7"/>
<rect x="334.10" y="205.35" width="4.40" height="3.85" fill="#2e2e2e" stroke="#2e2e2e" stroke-width="0.7"/>
<line x1="356.00" y1="209.20" x2="356.00" y2="211.80" stroke="#000" stroke-width="1.0"/>
<text x="356.00" y="219.60" font-size="7.5" font-weight="bold" text-anchor="middle" fill="#000" stroke="#000" stroke-width="0.42">K68</text>
<rect x="344.20" y="202.78" width="4.40" height="6.42" fill="#fff" stroke="#888" stroke-width="0.7"/>
<rect x="350.50" y="200.85" width="4.40" height="8.35" fill="#a8a8a8" stroke="#999" stroke-width="0.7"/>
<rect x="356.90" y="202.78" width="4.40" height="6.42" fill="#6e6e6e" stroke="#666" stroke-width="0.7"/>
<rect x="363.10" y="202.78" width="4.40" height="6.42" fill="#2e2e2e" stroke="#2e2e2e" stroke-width="0.7"/>
<line x1="385.00" y1="209.20" x2="385.00" y2="211.80" stroke="#000" stroke-width="1.0"/>
<text x="385.00" y="219.60" font-size="7.5" font-weight="bold" text-anchor="middle" fill="#000" stroke="#000" stroke-width="0.42">K116</text>
<rect x="373.20" y="202.78" width="4.40" height="6.42" fill="#fff" stroke="#888" stroke-width="0.7"/>
<rect x="379.50" y="201.50" width="4.40" height="7.70" fill="#a8a8a8" stroke="#999" stroke-width="0.7"/>
<rect x="385.90" y="182.24" width="4.40" height="26.96" fill="#6e6e6e" stroke="#666" stroke-width="0.7"/>
<rect x="392.10" y="177.10" width="4.40" height="32.10" fill="#2e2e2e" stroke="#2e2e2e" stroke-width="0.7"/>
<line x1="414.00" y1="209.20" x2="414.00" y2="211.80" stroke="#000" stroke-width="1.0"/>
<text x="414.00" y="219.60" font-size="7.5" font-weight="bold" text-anchor="middle" fill="#000" stroke="#000" stroke-width="0.42">K308</text>
<rect x="402.20" y="204.71" width="4.40" height="4.49" fill="#fff" stroke="#888" stroke-width="0.7"/>
<rect x="408.50" y="128.31" width="4.40" height="80.89" fill="#a8a8a8" stroke="#999" stroke-width="0.7"/>
<rect x="414.90" y="127.02" width="4.40" height="82.18" fill="#6e6e6e" stroke="#666" stroke-width="0.7"/>
<rect x="421.10" y="127.67" width="4.40" height="81.53" fill="#2e2e2e" stroke="#2e2e2e" stroke-width="0.7"/>
<rect x="450.20" y="117.20" width="10.80" height="4.60" fill="#fff" stroke="#888" stroke-width="0.8"/>
<text x="466.50" y="122.10" font-size="8.0" font-weight="normal" text-anchor="start" fill="#000" textLength="30.00" lengthAdjust="spacingAndGlyphs" stroke="#000" stroke-width="0.3">K562 A2</text>
<rect x="450.20" y="128.00" width="10.80" height="4.60" fill="#a8a8a8" stroke="#999" stroke-width="0.8"/>
<text x="466.50" y="132.90" font-size="8.0" font-weight="normal" text-anchor="start" fill="#000" textLength="33.50" lengthAdjust="spacingAndGlyphs" stroke="#000" stroke-width="0.3">LCL-HHC</text>
<rect x="450.20" y="138.90" width="10.80" height="4.60" fill="#6e6e6e" stroke="#666" stroke-width="0.8"/>
<text x="466.50" y="143.80" font-size="8.0" font-weight="normal" text-anchor="start" fill="#000" textLength="32.00" lengthAdjust="spacingAndGlyphs" stroke="#000" stroke-width="0.3">LCL-ALY</text>
<rect x="450.20" y="149.70" width="10.80" height="4.60" fill="#2e2e2e" stroke="#2e2e2e" stroke-width="0.8"/>
<text x="466.50" y="154.60" font-size="8.0" font-weight="normal" text-anchor="start" fill="#000" textLength="26.50" lengthAdjust="spacingAndGlyphs" stroke="#000" stroke-width="0.3">LCL-JY</text>
<text x="0.00" y="252.20" font-size="11.5" font-weight="bold" text-anchor="start" fill="#000" textLength="8.00" lengthAdjust="spacingAndGlyphs" stroke="#000" stroke-width="0.8">D</text>
<text x="107.00" y="250.60" font-size="9.2" font-weight="bold" text-anchor="middle" fill="#000" stroke="#000" stroke-width="0.42">Clone K308</text>
<line x1="34.90" y1="251.00" x2="34.90" y2="349.10" stroke="#000" stroke-width="1.4"/>
<line x1="34.20" y1="348.40" x2="181.00" y2="348.40" stroke="#000" stroke-width="1.3"/>
<line x1="32.00" y1="251.40" x2="34.90" y2="251.40" stroke="#000" stroke-width="1.0"/>
<text x="31.00" y="253.80" font-size="6.9" font-weight="bold" text-anchor="end" fill="#000" stroke="#000" stroke-width="0.42">6000</text>
<line x1="32.00" y1="282.30" x2="34.90" y2="282.30" stroke="#000" stroke-width="1.0"/>
<text x="31.00" y="284.70" font-size="6.9" font-weight="bold" text-anchor="end" fill="#000" stroke="#000" stroke-width="0.42">4000</text>
<line x1="32.00" y1="313.20" x2="34.90" y2="313.20" stroke="#000" stroke-width="1.0"/>
<text x="31.00" y="315.60" font-size="6.9" font-weight="bold" text-anchor="end" fill="#000" stroke="#000" stroke-width="0.42">2000</text>
<line x1="32.00" y1="344.10" x2="34.90" y2="344.10" stroke="#000" stroke-width="1.0"/>
<text x="31.00" y="346.50" font-size="6.9" font-weight="bold" text-anchor="end" fill="#000" stroke="#000" stroke-width="0.42">0</text>
<line x1="34.70" y1="348.40" x2="34.70" y2="350.60" stroke="#000" stroke-width="0.9"/>
<text x="35.10" y="359.00" font-size="7.0" font-weight="bold" text-anchor="middle" fill="#000" stroke="#000" stroke-width="0.42">10<tspan font-size="5" dy="-3">3</tspan></text>
<line x1="59.00" y1="348.40" x2="59.00" y2="350.60" stroke="#000" stroke-width="0.9"/>
<text x="59.40" y="359.00" font-size="7.0" font-weight="bold" text-anchor="middle" fill="#000" stroke="#000" stroke-width="0.42">10<tspan font-size="5" dy="-3">2</tspan></text>
<line x1="83.30" y1="348.40" x2="83.30" y2="350.60" stroke="#000" stroke-width="0.9"/>
<text x="83.70" y="359.00" font-size="7.0" font-weight="bold" text-anchor="middle" fill="#000" stroke="#000" stroke-width="0.42">10<tspan font-size="5" dy="-3">1</tspan></text>
<line x1="107.60" y1="348.40" x2="107.60" y2="350.60" stroke="#000" stroke-width="0.9"/>
<text x="108.00" y="359.00" font-size="7.0" font-weight="bold" text-anchor="middle" fill="#000" stroke="#000" stroke-width="0.42">10<tspan font-size="5" dy="-3">0</tspan></text>
<line x1="131.90" y1="348.40" x2="131.90" y2="350.60" stroke="#000" stroke-width="0.9"/>
<text x="132.30" y="359.00" font-size="7.0" font-weight="bold" text-anchor="middle" fill="#000" stroke="#000" stroke-width="0.42">10<tspan font-size="5" dy="-3">-1</tspan></text>
<line x1="156.20" y1="348.40" x2="156.20" y2="350.60" stroke="#000" stroke-width="0.9"/>
<text x="156.60" y="359.00" font-size="7.0" font-weight="bold" text-anchor="middle" fill="#000" stroke="#000" stroke-width="0.42">10<tspan font-size="5" dy="-3">-2</tspan></text>
<line x1="180.50" y1="348.40" x2="180.50" y2="350.60" stroke="#000" stroke-width="0.9"/>
<text x="180.90" y="359.00" font-size="7.0" font-weight="bold" text-anchor="middle" fill="#000" stroke="#000" stroke-width="0.42">10<tspan font-size="5" dy="-3">-3</tspan></text>
<text x="108.00" y="369.00" font-size="8.0" font-weight="bold" text-anchor="middle" fill="#000" textLength="48.00" lengthAdjust="spacingAndGlyphs" stroke="#000" stroke-width="0.42">Peptide (nM)</text>
<text x="9.90" y="300.00" font-size="8.0" font-weight="bold" text-anchor="middle" fill="#000" transform="rotate(-90 9.90 300.00)" textLength="47.00" lengthAdjust="spacingAndGlyphs" stroke="#000" stroke-width="0.42">INF-&#947; (pg/ml)</text>
<polyline points="34.80,343.60 47.35,343.20 59.90,343.20 72.45,343.20 85.00,343.20 97.55,343.20 110.10,343.20 122.65,343.20 135.20,343.20 147.75,343.20 160.30,343.20" fill="none" stroke="#000" stroke-width="1.2" stroke-dasharray="3,2" stroke-linejoin="round"/>
<polyline points="34.80,263.10 47.35,266.20 59.90,264.60 72.45,268.50 85.00,274.80 97.55,291.20 110.10,316.60 122.65,335.80 135.20,343.70 147.75,346.60 160.30,347.40 172.85,346.80" fill="none" stroke="#000" stroke-width="1.3" stroke-linejoin="round"/>
<circle cx="34.80" cy="343.60" r="2.00" fill="#ddd" stroke="#111" stroke-width="1.0"/><circle cx="34.80" cy="343.60" r="0.75" fill="#333"/>
<circle cx="47.35" cy="343.20" r="2.00" fill="#ddd" stroke="#111" stroke-width="1.0"/><circle cx="47.35" cy="343.20" r="0.75" fill="#333"/>
<circle cx="59.90" cy="343.20" r="2.00" fill="#ddd" stroke="#111" stroke-width="1.0"/><circle cx="59.90" cy="343.20" r="0.75" fill="#333"/>
<circle cx="72.45" cy="343.20" r="2.00" fill="#ddd" stroke="#111" stroke-width="1.0"/><circle cx="72.45" cy="343.20" r="0.75" fill="#333"/>
<circle cx="85.00" cy="343.20" r="2.00" fill="#ddd" stroke="#111" stroke-width="1.0"/><circle cx="85.00" cy="343.20" r="0.75" fill="#333"/>
<circle cx="97.55" cy="343.20" r="2.00" fill="#ddd" stroke="#111" stroke-width="1.0"/><circle cx="97.55" cy="343.20" r="0.75" fill="#333"/>
<circle cx="110.10" cy="343.20" r="2.00" fill="#ddd" stroke="#111" stroke-width="1.0"/><circle cx="110.10" cy="343.20" r="0.75" fill="#333"/>
<circle cx="122.65" cy="343.20" r="2.00" fill="#ddd" stroke="#111" stroke-width="1.0"/><circle cx="122.65" cy="343.20" r="0.75" fill="#333"/>
<circle cx="135.20" cy="343.20" r="2.00" fill="#ddd" stroke="#111" stroke-width="1.0"/><circle cx="135.20" cy="343.20" r="0.75" fill="#333"/>
<circle cx="147.75" cy="343.20" r="2.00" fill="#ddd" stroke="#111" stroke-width="1.0"/><circle cx="147.75" cy="343.20" r="0.75" fill="#333"/>
<circle cx="160.30" cy="343.20" r="2.00" fill="#ddd" stroke="#111" stroke-width="1.0"/><circle cx="160.30" cy="343.20" r="0.75" fill="#333"/>
<circle cx="34.80" cy="263.10" r="2.30" fill="#000"/>
<circle cx="47.35" cy="266.20" r="2.30" fill="#000"/>
<circle cx="59.90" cy="264.60" r="2.30" fill="#000"/>
<circle cx="72.45" cy="268.50" r="2.30" fill="#000"/>
<circle cx="85.00" cy="274.80" r="2.30" fill="#000"/>
<circle cx="97.55" cy="291.20" r="2.30" fill="#000"/>
<circle cx="110.10" cy="316.60" r="2.30" fill="#000"/>
<circle cx="122.65" cy="335.80" r="2.30" fill="#000"/>
<circle cx="135.20" cy="343.70" r="2.30" fill="#000"/>
<circle cx="147.75" cy="346.60" r="2.30" fill="#000"/>
<circle cx="160.30" cy="347.40" r="2.30" fill="#000"/>
<circle cx="172.85" cy="346.80" r="2.30" fill="#000"/>
<line x1="120.20" y1="267.90" x2="129.70" y2="267.90" stroke="#000" stroke-width="1.3"/>
<circle cx="125.00" cy="267.90" r="2.30" fill="#000"/>
<line x1="120.20" y1="280.40" x2="129.70" y2="280.40" stroke="#000" stroke-width="1.1" stroke-dasharray="1.5,1.5"/>
<circle cx="125.00" cy="280.40" r="2.00" fill="#ddd" stroke="#111" stroke-width="1.0"/><circle cx="125.00" cy="280.40" r="0.75" fill="#333"/>
<text x="136.00" y="271.10" font-size="9.2" font-weight="bold" text-anchor="start" fill="#000" textLength="41.30" lengthAdjust="spacingAndGlyphs" stroke="#000" stroke-width="0.42">CD79b<tspan font-size="6.8" dy="2.4">173</tspan></text>
<text x="136.00" y="283.60" font-size="9.2" font-weight="bold" text-anchor="start" fill="#000" textLength="36.50" lengthAdjust="spacingAndGlyphs" stroke="#000" stroke-width="0.42">CD79b<tspan font-size="6.8" dy="2.4">20</tspan></text>
<text x="0.00" y="395.90" font-size="11.5" font-weight="bold" text-anchor="start" fill="#000" textLength="8.00" lengthAdjust="spacingAndGlyphs" stroke="#000" stroke-width="0.8">E</text>
<text x="107.00" y="394.80" font-size="9.2" font-weight="bold" text-anchor="middle" fill="#000" stroke="#000" stroke-width="0.42">Clone S100</text>
<line x1="34.90" y1="396.00" x2="34.90" y2="494.20" stroke="#000" stroke-width="1.4"/>
<line x1="34.20" y1="493.50" x2="179.75" y2="493.50" stroke="#000" stroke-width="1.3"/>
<line x1="32.00" y1="396.30" x2="34.90" y2="396.30" stroke="#000" stroke-width="1.0"/>
<text x="31.00" y="398.70" font-size="6.9" font-weight="bold" text-anchor="end" fill="#000" stroke="#000" stroke-width="0.42">4000</text>
<line x1="32.00" y1="420.30" x2="34.90" y2="420.30" stroke="#000" stroke-width="1.0"/>
<text x="31.00" y="422.70" font-size="6.9" font-weight="bold" text-anchor="end" fill="#000" stroke="#000" stroke-width="0.42">3000</text>
<line x1="32.00" y1="444.30" x2="34.90" y2="444.30" stroke="#000" stroke-width="1.0"/>
<text x="31.00" y="446.70" font-size="6.9" font-weight="bold" text-anchor="end" fill="#000" stroke="#000" stroke-width="0.42">2000</text>
<line x1="32.00" y1="468.30" x2="34.90" y2="468.30" stroke="#000" stroke-width="1.0"/>
<text x="31.00" y="470.70" font-size="6.9" font-weight="bold" text-anchor="end" fill="#000" stroke="#000" stroke-width="0.42">1000</text>
<line x1="32.00" y1="492.30" x2="34.90" y2="492.30" stroke="#000" stroke-width="1.0"/>
<text x="31.00" y="494.70" font-size="6.9" font-weight="bold" text-anchor="end" fill="#000" stroke="#000" stroke-width="0.42">0</text>
<line x1="34.70" y1="493.50" x2="34.70" y2="495.70" stroke="#000" stroke-width="0.9"/>
<text x="35.10" y="504.10" font-size="7.0" font-weight="bold" text-anchor="middle" fill="#000" stroke="#000" stroke-width="0.42">10<tspan font-size="5" dy="-3">4</tspan></text>
<line x1="55.35" y1="493.50" x2="55.35" y2="495.70" stroke="#000" stroke-width="0.9"/>
<text x="55.75" y="504.10" font-size="7.0" font-weight="bold" text-anchor="middle" fill="#000" stroke="#000" stroke-width="0.42">10<tspan font-size="5" dy="-3">3</tspan></text>
<line x1="76.00" y1="493.50" x2="76.00" y2="495.70" stroke="#000" stroke-width="0.9"/>
<text x="76.40" y="504.10" font-size="7.0" font-weight="bold" text-anchor="middle" fill="#000" stroke="#000" stroke-width="0.42">10<tspan font-size="5" dy="-3">2</tspan></text>
<line x1="96.65" y1="493.50" x2="96.65" y2="495.70" stroke="#000" stroke-width="0.9"/>
<text x="97.05" y="504.10" font-size="7.0" font-weight="bold" text-anchor="middle" fill="#000" stroke="#000" stroke-width="0.42">10<tspan font-size="5" dy="-3">1</tspan></text>
<line x1="117.30" y1="493.50" x2="117.30" y2="495.70" stroke="#000" stroke-width="0.9"/>
<text x="117.70" y="504.10" font-size="7.0" font-weight="bold" text-anchor="middle" fill="#000" stroke="#000" stroke-width="0.42">10<tspan font-size="5" dy="-3">0</tspan></text>
<line x1="137.95" y1="493.50" x2="137.95" y2="495.70" stroke="#000" stroke-width="0.9"/>
<text x="138.35" y="504.10" font-size="7.0" font-weight="bold" text-anchor="middle" fill="#000" stroke="#000" stroke-width="0.42">10<tspan font-size="5" dy="-3">-1</tspan></text>
<line x1="158.60" y1="493.50" x2="158.60" y2="495.70" stroke="#000" stroke-width="0.9"/>
<text x="159.00" y="504.10" font-size="7.0" font-weight="bold" text-anchor="middle" fill="#000" stroke="#000" stroke-width="0.42">10<tspan font-size="5" dy="-3">-2</tspan></text>
<line x1="179.25" y1="493.50" x2="179.25" y2="495.70" stroke="#000" stroke-width="0.9"/>
<text x="179.65" y="504.10" font-size="7.0" font-weight="bold" text-anchor="middle" fill="#000" stroke="#000" stroke-width="0.42">10<tspan font-size="5" dy="-3">-3</tspan></text>
<text x="108.00" y="514.00" font-size="8.0" font-weight="bold" text-anchor="middle" fill="#000" textLength="48.00" lengthAdjust="spacingAndGlyphs" stroke="#000" stroke-width="0.42">Peptide (nM)</text>
<text x="8.90" y="445.00" font-size="8.0" font-weight="bold" text-anchor="middle" fill="#000" transform="rotate(-90 8.90 445.00)" textLength="49.00" lengthAdjust="spacingAndGlyphs" stroke="#000" stroke-width="0.42">IFN-&#947; (pg/ml)</text>
<polyline points="34.60,491.20 44.55,491.20 54.50,491.20 64.45,491.20 74.40,491.20 84.35,491.20 94.30,491.20 104.25,491.20 114.20,491.20 124.15,491.20 134.10,491.20 144.05,491.20 154.00,491.20" fill="none" stroke="#000" stroke-width="1.4" stroke-linejoin="round"/>
<polyline points="34.60,406.50 44.55,407.00 54.50,405.40 64.45,405.00 74.40,414.60 84.35,432.00 94.30,446.30 104.25,463.00 114.20,480.80 124.15,484.60 134.10,490.40 144.05,491.30 154.00,491.50 163.95,491.50 173.90,491.50" fill="none" stroke="#000" stroke-width="1.4" stroke-dasharray="3,2" stroke-linejoin="round"/>
<circle cx="34.60" cy="491.20" r="2.20" fill="#000"/>
<circle cx="44.55" cy="491.20" r="2.20" fill="#000"/>
<circle cx="54.50" cy="491.20" r="2.20" fill="#000"/>
<circle cx="64.45" cy="491.20" r="2.20" fill="#000"/>
<circle cx="74.40" cy="491.20" r="2.20" fill="#000"/>
<circle cx="84.35" cy="491.20" r="2.20" fill="#000"/>
<circle cx="94.30" cy="491.20" r="2.20" fill="#000"/>
<circle cx="104.25" cy="491.20" r="2.20" fill="#000"/>
<circle cx="114.20" cy="491.20" r="2.20" fill="#000"/>
<circle cx="124.15" cy="491.20" r="2.20" fill="#000"/>
<circle cx="134.10" cy="491.20" r="2.20" fill="#000"/>
<circle cx="144.05" cy="491.20" r="2.20" fill="#000"/>
<circle cx="154.00" cy="491.20" r="2.20" fill="#000"/>
<circle cx="34.60" cy="406.50" r="2.00" fill="#ddd" stroke="#111" stroke-width="1.1"/><circle cx="34.60" cy="406.50" r="0.75" fill="#333"/>
<circle cx="44.55" cy="407.00" r="2.00" fill="#ddd" stroke="#111" stroke-width="1.1"/><circle cx="44.55" cy="407.00" r="0.75" fill="#333"/>
<circle cx="54.50" cy="405.40" r="2.00" fill="#ddd" stroke="#111" stroke-width="1.1"/><circle cx="54.50" cy="405.40" r="0.75" fill="#333"/>
<circle cx="64.45" cy="405.00" r="2.00" fill="#ddd" stroke="#111" stroke-width="1.1"/><circle cx="64.45" cy="405.00" r="0.75" fill="#333"/>
<circle cx="74.40" cy="414.60" r="2.00" fill="#ddd" stroke="#111" stroke-width="1.1"/><circle cx="74.40" cy="414.60" r="0.75" fill="#333"/>
<circle cx="84.35" cy="432.00" r="2.00" fill="#ddd" stroke="#111" stroke-width="1.1"/><circle cx="84.35" cy="432.00" r="0.75" fill="#333"/>
<circle cx="94.30" cy="446.30" r="2.00" fill="#ddd" stroke="#111" stroke-width="1.1"/><circle cx="94.30" cy="446.30" r="0.75" fill="#333"/>
<circle cx="104.25" cy="463.00" r="2.00" fill="#ddd" stroke="#111" stroke-width="1.1"/><circle cx="104.25" cy="463.00" r="0.75" fill="#333"/>
<circle cx="114.20" cy="480.80" r="2.00" fill="#ddd" stroke="#111" stroke-width="1.1"/><circle cx="114.20" cy="480.80" r="0.75" fill="#333"/>
<circle cx="124.15" cy="484.60" r="2.00" fill="#ddd" stroke="#111" stroke-width="1.1"/><circle cx="124.15" cy="484.60" r="0.75" fill="#333"/>
<circle cx="134.10" cy="490.40" r="2.00" fill="#ddd" stroke="#111" stroke-width="1.1"/><circle cx="134.10" cy="490.40" r="0.75" fill="#333"/>
<circle cx="144.05" cy="491.30" r="2.00" fill="#ddd" stroke="#111" stroke-width="1.1"/><circle cx="144.05" cy="491.30" r="0.75" fill="#333"/>
<circle cx="154.00" cy="491.50" r="2.00" fill="#ddd" stroke="#111" stroke-width="1.1"/><circle cx="154.00" cy="491.50" r="0.75" fill="#333"/>
<circle cx="163.95" cy="491.50" r="2.00" fill="#ddd" stroke="#111" stroke-width="1.1"/><circle cx="163.95" cy="491.50" r="0.75" fill="#333"/>
<circle cx="173.90" cy="491.50" r="2.00" fill="#ddd" stroke="#111" stroke-width="1.1"/><circle cx="173.90" cy="491.50" r="0.75" fill="#333"/>
<line x1="127.60" y1="411.70" x2="137.50" y2="411.70" stroke="#000" stroke-width="1.3"/>
<circle cx="132.90" cy="411.70" r="2.20" fill="#000"/>
<line x1="127.60" y1="424.40" x2="137.50" y2="424.40" stroke="#000" stroke-width="1.1" stroke-dasharray="1.5,1.5"/>
<circle cx="132.90" cy="424.40" r="2.00" fill="#ddd" stroke="#111" stroke-width="1.0"/><circle cx="132.90" cy="424.40" r="0.75" fill="#333"/>
<text x="143.50" y="415.00" font-size="9.2" font-weight="bold" text-anchor="start" fill="#000" textLength="41.20" lengthAdjust="spacingAndGlyphs" stroke="#000" stroke-width="0.42">CD79b<tspan font-size="6.8" dy="2.4">173</tspan></text>
<text x="143.50" y="427.70" font-size="9.2" font-weight="bold" text-anchor="start" fill="#000" textLength="36.50" lengthAdjust="spacingAndGlyphs" stroke="#000" stroke-width="0.42">CD79b<tspan font-size="6.8" dy="2.4">20</tspan></text>
<text x="0.00" y="538.80" font-size="11.5" font-weight="bold" text-anchor="start" fill="#000" textLength="8.00" lengthAdjust="spacingAndGlyphs" stroke="#000" stroke-width="0.8">F</text>
<text x="107.20" y="539.50" font-size="9.2" font-weight="bold" text-anchor="middle" fill="#000" stroke="#000" stroke-width="0.42">Clone A23</text>
<line x1="34.90" y1="540.50" x2="34.90" y2="637.80" stroke="#000" stroke-width="1.4"/>
<line x1="34.20" y1="637.10" x2="181.00" y2="637.10" stroke="#000" stroke-width="1.3"/>
<line x1="32.00" y1="541.10" x2="34.90" y2="541.10" stroke="#000" stroke-width="1.0"/>
<text x="31.00" y="543.50" font-size="6.9" font-weight="bold" text-anchor="end" fill="#000" stroke="#000" stroke-width="0.42">4000</text>
<line x1="32.00" y1="562.95" x2="34.90" y2="562.95" stroke="#000" stroke-width="1.0"/>
<text x="31.00" y="565.35" font-size="6.9" font-weight="bold" text-anchor="end" fill="#000" stroke="#000" stroke-width="0.42">3000</text>
<line x1="32.00" y1="584.80" x2="34.90" y2="584.80" stroke="#000" stroke-width="1.0"/>
<text x="31.00" y="587.20" font-size="6.9" font-weight="bold" text-anchor="end" fill="#000" stroke="#000" stroke-width="0.42">2000</text>
<line x1="32.00" y1="606.65" x2="34.90" y2="606.65" stroke="#000" stroke-width="1.0"/>
<text x="31.00" y="609.05" font-size="6.9" font-weight="bold" text-anchor="end" fill="#000" stroke="#000" stroke-width="0.42">1000</text>
<line x1="32.00" y1="628.50" x2="34.90" y2="628.50" stroke="#000" stroke-width="1.0"/>
<text x="31.00" y="630.90" font-size="6.9" font-weight="bold" text-anchor="end" fill="#000" stroke="#000" stroke-width="0.42">0</text>
<line x1="34.70" y1="637.10" x2="34.70" y2="639.30" stroke="#000" stroke-width="0.9"/>
<text x="35.10" y="647.70" font-size="7.0" font-weight="bold" text-anchor="middle" fill="#000" stroke="#000" stroke-width="0.42">10<tspan font-size="5" dy="-3">3</tspan></text>
<line x1="59.00" y1="637.10" x2="59.00" y2="639.30" stroke="#000" stroke-width="0.9"/>
<text x="59.40" y="647.70" font-size="7.0" font-weight="bold" text-anchor="middle" fill="#000" stroke="#000" stroke-width="0.42">10<tspan font-size="5" dy="-3">2</tspan></text>
<line x1="83.30" y1="637.10" x2="83.30" y2="639.30" stroke="#000" stroke-width="0.9"/>
<text x="83.70" y="647.70" font-size="7.0" font-weight="bold" text-anchor="middle" fill="#000" stroke="#000" stroke-width="0.42">10<tspan font-size="5" dy="-3">1</tspan></text>
<line x1="107.60" y1="637.10" x2="107.60" y2="639.30" stroke="#000" stroke-width="0.9"/>
<text x="108.00" y="647.70" font-size="7.0" font-weight="bold" text-anchor="middle" fill="#000" stroke="#000" stroke-width="0.42">10<tspan font-size="5" dy="-3">0</tspan></text>
<line x1="131.90" y1="637.10" x2="131.90" y2="639.30" stroke="#000" stroke-width="0.9"/>
<text x="132.30" y="647.70" font-size="7.0" font-weight="bold" text-anchor="middle" fill="#000" stroke="#000" stroke-width="0.42">10<tspan font-size="5" dy="-3">-1</tspan></text>
<line x1="156.20" y1="637.10" x2="156.20" y2="639.30" stroke="#000" stroke-width="0.9"/>
<text x="156.60" y="647.70" font-size="7.0" font-weight="bold" text-anchor="middle" fill="#000" stroke="#000" stroke-width="0.42">10<tspan font-size="5" dy="-3">-2</tspan></text>
<line x1="180.50" y1="637.10" x2="180.50" y2="639.30" stroke="#000" stroke-width="0.9"/>
<text x="180.90" y="647.70" font-size="7.0" font-weight="bold" text-anchor="middle" fill="#000" stroke="#000" stroke-width="0.42">10<tspan font-size="5" dy="-3">-3</tspan></text>
<text x="108.00" y="657.90" font-size="8.0" font-weight="bold" text-anchor="middle" fill="#000" textLength="48.00" lengthAdjust="spacingAndGlyphs" stroke="#000" stroke-width="0.42">Peptide (nM)</text>
<text x="9.90" y="589.00" font-size="8.0" font-weight="bold" text-anchor="middle" fill="#000" transform="rotate(-90 9.90 589.00)" textLength="48.00" lengthAdjust="spacingAndGlyphs" stroke="#000" stroke-width="0.42">INF-&#947; (pg/ml)</text>
<polyline points="34.60,547.00 47.20,557.90 59.80,579.00 72.40,609.80 85.00,628.50 97.60,634.60 110.20,635.60 122.80,635.60 135.40,635.60 148.00,635.60 160.60,635.60 173.20,635.60" fill="none" stroke="#000" stroke-width="1.2" stroke-dasharray="1.1,1.3" stroke-linejoin="round"/>
<rect x="32.60" y="545.00" width="4.00" height="4.00" fill="#fff" stroke="#000" stroke-width="1.0"/>
<rect x="45.20" y="555.90" width="4.00" height="4.00" fill="#fff" stroke="#000" stroke-width="1.0"/>
<rect x="57.80" y="577.00" width="4.00" height="4.00" fill="#fff" stroke="#000" stroke-width="1.0"/>
<rect x="70.40" y="607.80" width="4.00" height="4.00" fill="#fff" stroke="#000" stroke-width="1.0"/>
<rect x="83.00" y="626.50" width="4.00" height="4.00" fill="#fff" stroke="#000" stroke-width="1.0"/>
<rect x="95.60" y="632.60" width="4.00" height="4.00" fill="#fff" stroke="#000" stroke-width="1.0"/>
<rect x="108.20" y="633.60" width="4.00" height="4.00" fill="#fff" stroke="#000" stroke-width="1.0"/>
<rect x="120.80" y="633.60" width="4.00" height="4.00" fill="#fff" stroke="#000" stroke-width="1.0"/>
<rect x="133.40" y="633.60" width="4.00" height="4.00" fill="#fff" stroke="#000" stroke-width="1.0"/>
<rect x="146.00" y="633.60" width="4.00" height="4.00" fill="#fff" stroke="#000" stroke-width="1.0"/>
<rect x="158.60" y="633.60" width="4.00" height="4.00" fill="#fff" stroke="#000" stroke-width="1.0"/>
<rect x="171.20" y="633.60" width="4.00" height="4.00" fill="#fff" stroke="#000" stroke-width="1.0"/>
<line x1="127.00" y1="556.40" x2="137.50" y2="556.40" stroke="#000" stroke-width="1.1" stroke-dasharray="1.1,1.3"/>
<rect x="130.90" y="554.40" width="4.00" height="4.00" fill="#fff" stroke="#000" stroke-width="1.0"/>
<text x="144.50" y="559.70" font-size="9.2" font-weight="bold" text-anchor="start" fill="#000" textLength="32.80" lengthAdjust="spacingAndGlyphs" stroke="#000" stroke-width="0.42">CD79b<tspan font-size="6.8" dy="2.4">9</tspan></text>
<text x="186.30" y="252.30" font-size="12.5" font-weight="bold" text-anchor="start" fill="#000" textLength="9.80" lengthAdjust="spacingAndGlyphs" stroke="#000" stroke-width="0.8">G</text>
<line x1="220.40" y1="256.10" x2="220.40" y2="354.40" stroke="#000" stroke-width="1.3"/>
<line x1="219.80" y1="353.80" x2="284.60" y2="353.80" stroke="#000" stroke-width="1.3"/>
<line x1="217.40" y1="257.00" x2="220.40" y2="257.00" stroke="#000" stroke-width="1.0"/>
<text x="216.60" y="259.40" font-size="7.0" font-weight="bold" text-anchor="end" fill="#000" stroke="#000" stroke-width="0.42">5000</text>
<line x1="217.40" y1="276.30" x2="220.40" y2="276.30" stroke="#000" stroke-width="1.0"/>
<text x="216.60" y="278.70" font-size="7.0" font-weight="bold" text-anchor="end" fill="#000" stroke="#000" stroke-width="0.42">4000</text>
<line x1="217.40" y1="295.60" x2="220.40" y2="295.60" stroke="#000" stroke-width="1.0"/>
<text x="216.60" y="298.00" font-size="7.0" font-weight="bold" text-anchor="end" fill="#000" stroke="#000" stroke-width="0.42">3000</text>
<line x1="217.40" y1="314.90" x2="220.40" y2="314.90" stroke="#000" stroke-width="1.0"/>
<text x="216.60" y="317.30" font-size="7.0" font-weight="bold" text-anchor="end" fill="#000" stroke="#000" stroke-width="0.42">2000</text>
<line x1="217.40" y1="334.20" x2="220.40" y2="334.20" stroke="#000" stroke-width="1.0"/>
<text x="216.60" y="336.60" font-size="7.0" font-weight="bold" text-anchor="end" fill="#000" stroke="#000" stroke-width="0.42">1000</text>
<line x1="217.40" y1="353.50" x2="220.40" y2="353.50" stroke="#000" stroke-width="1.0"/>
<text x="216.60" y="355.90" font-size="7.0" font-weight="bold" text-anchor="end" fill="#000" stroke="#000" stroke-width="0.42">0</text>
<line x1="228.25" y1="353.80" x2="228.25" y2="356.00" stroke="#000" stroke-width="1.0"/>
<text x="231.65" y="358.30" font-size="7.0" font-weight="bold" text-anchor="end" fill="#000" transform="rotate(-90 231.65 358.30)" stroke="#000" stroke-width="0.42">K562 A2</text>
<rect x="239.20" y="284.79" width="11.20" height="69.01" fill="#000"/>
<line x1="244.80" y1="353.80" x2="244.80" y2="356.00" stroke="#000" stroke-width="1.0"/>
<text x="247.30" y="358.30" font-size="7.0" font-weight="bold" text-anchor="end" fill="#000" transform="rotate(-90 247.30 358.30)" stroke="#000" stroke-width="0.42">LCL-JY</text>
<rect x="255.00" y="272.63" width="11.20" height="81.17" fill="#000"/>
<line x1="260.60" y1="353.80" x2="260.60" y2="356.00" stroke="#000" stroke-width="1.0"/>
<text x="263.10" y="358.30" font-size="7.0" font-weight="bold" text-anchor="end" fill="#000" transform="rotate(-90 263.10 358.30)" stroke="#000" stroke-width="0.42">LCL-HHC</text>
<rect x="271.20" y="275.33" width="11.20" height="78.47" fill="#000"/>
<line x1="276.80" y1="353.80" x2="276.80" y2="356.00" stroke="#000" stroke-width="1.0"/>
<text x="279.30" y="358.30" font-size="7.0" font-weight="bold" text-anchor="end" fill="#000" transform="rotate(-90 279.30 358.30)" stroke="#000" stroke-width="0.42">LCL-ALY</text>
<text x="195.50" y="304.70" font-size="8.0" font-weight="bold" text-anchor="middle" fill="#000" transform="rotate(-90 195.50 304.70)" textLength="48.00" lengthAdjust="spacingAndGlyphs" stroke="#000" stroke-width="0.42">IFN-&#947; (pg/ml)</text>
<text x="187.00" y="396.00" font-size="12.5" font-weight="bold" text-anchor="start" fill="#000" textLength="9.00" lengthAdjust="spacingAndGlyphs" stroke="#000" stroke-width="0.8">H</text>
<line x1="220.40" y1="400.50" x2="220.40" y2="498.10" stroke="#000" stroke-width="1.3"/>
<line x1="219.80" y1="497.50" x2="284.60" y2="497.50" stroke="#000" stroke-width="1.3"/>
<line x1="217.40" y1="401.30" x2="220.40" y2="401.30" stroke="#000" stroke-width="1.0"/>
<text x="216.60" y="403.70" font-size="7.0" font-weight="bold" text-anchor="end" fill="#000" stroke="#000" stroke-width="0.42">5000</text>
<line x1="217.40" y1="420.50" x2="220.40" y2="420.50" stroke="#000" stroke-width="1.0"/>
<text x="216.60" y="422.90" font-size="7.0" font-weight="bold" text-anchor="end" fill="#000" stroke="#000" stroke-width="0.42">4000</text>
<line x1="217.40" y1="439.70" x2="220.40" y2="439.70" stroke="#000" stroke-width="1.0"/>
<text x="216.60" y="442.10" font-size="7.0" font-weight="bold" text-anchor="end" fill="#000" stroke="#000" stroke-width="0.42">3000</text>
<line x1="217.40" y1="458.90" x2="220.40" y2="458.90" stroke="#000" stroke-width="1.0"/>
<text x="216.60" y="461.30" font-size="7.0" font-weight="bold" text-anchor="end" fill="#000" stroke="#000" stroke-width="0.42">2000</text>
<line x1="217.40" y1="478.10" x2="220.40" y2="478.10" stroke="#000" stroke-width="1.0"/>
<text x="216.60" y="480.50" font-size="7.0" font-weight="bold" text-anchor="end" fill="#000" stroke="#000" stroke-width="0.42">1000</text>
<line x1="217.40" y1="497.30" x2="220.40" y2="497.30" stroke="#000" stroke-width="1.0"/>
<text x="216.60" y="499.70" font-size="7.0" font-weight="bold" text-anchor="end" fill="#000" stroke="#000" stroke-width="0.42">0</text>
<line x1="228.25" y1="497.50" x2="228.25" y2="499.70" stroke="#000" stroke-width="1.0"/>
<text x="231.65" y="501.80" font-size="7.0" font-weight="bold" text-anchor="end" fill="#000" transform="rotate(-90 231.65 501.80)" stroke="#000" stroke-width="0.42">K562 A2</text>
<rect x="238.80" y="413.97" width="11.40" height="83.53" fill="#000"/>
<line x1="244.50" y1="497.50" x2="244.50" y2="499.70" stroke="#000" stroke-width="1.0"/>
<text x="247.00" y="501.80" font-size="7.0" font-weight="bold" text-anchor="end" fill="#000" transform="rotate(-90 247.00 501.80)" stroke="#000" stroke-width="0.42">LCL-JY</text>
<rect x="255.00" y="414.74" width="11.20" height="82.76" fill="#000"/>
<line x1="260.60" y1="497.50" x2="260.60" y2="499.70" stroke="#000" stroke-width="1.0"/>
<text x="263.10" y="501.80" font-size="7.0" font-weight="bold" text-anchor="end" fill="#000" transform="rotate(-90 263.10 501.80)" stroke="#000" stroke-width="0.42">LCL-HHC</text>
<rect x="271.00" y="421.46" width="11.60" height="76.04" fill="#000"/>
<line x1="276.80" y1="497.50" x2="276.80" y2="499.70" stroke="#000" stroke-width="1.0"/>
<text x="279.30" y="501.80" font-size="7.0" font-weight="bold" text-anchor="end" fill="#000" transform="rotate(-90 279.30 501.80)" stroke="#000" stroke-width="0.42">LCL-ALY</text>
<text x="197.30" y="448.00" font-size="8.0" font-weight="bold" text-anchor="middle" fill="#000" transform="rotate(-90 197.30 448.00)" textLength="48.00" lengthAdjust="spacingAndGlyphs" stroke="#000" stroke-width="0.42">IFN-&#947; (pg/ml)</text>
<text x="189.60" y="538.60" font-size="12.5" font-weight="bold" text-anchor="start" fill="#000" textLength="3.80" lengthAdjust="spacingAndGlyphs" stroke="#000" stroke-width="0.8">I</text>
<line x1="220.40" y1="545.00" x2="220.40" y2="642.30" stroke="#000" stroke-width="1.3"/>
<line x1="219.80" y1="641.70" x2="284.60" y2="641.70" stroke="#000" stroke-width="1.3"/>
<line x1="217.40" y1="545.46" x2="220.40" y2="545.46" stroke="#000" stroke-width="1.0"/>
<text x="216.60" y="547.86" font-size="7.0" font-weight="bold" text-anchor="end" fill="#000" stroke="#000" stroke-width="0.42">800</text>
<line x1="217.40" y1="569.52" x2="220.40" y2="569.52" stroke="#000" stroke-width="1.0"/>
<text x="216.60" y="571.92" font-size="7.0" font-weight="bold" text-anchor="end" fill="#000" stroke="#000" stroke-width="0.42">600</text>
<line x1="217.40" y1="593.58" x2="220.40" y2="593.58" stroke="#000" stroke-width="1.0"/>
<text x="216.60" y="595.98" font-size="7.0" font-weight="bold" text-anchor="end" fill="#000" stroke="#000" stroke-width="0.42">400</text>
<line x1="217.40" y1="617.64" x2="220.40" y2="617.64" stroke="#000" stroke-width="1.0"/>
<text x="216.60" y="620.04" font-size="7.0" font-weight="bold" text-anchor="end" fill="#000" stroke="#000" stroke-width="0.42">200</text>
<line x1="217.40" y1="641.70" x2="220.40" y2="641.70" stroke="#000" stroke-width="1.0"/>
<text x="216.60" y="644.10" font-size="7.0" font-weight="bold" text-anchor="end" fill="#000" stroke="#000" stroke-width="0.42">0</text>
<rect x="223.80" y="634.24" width="10.40" height="7.46" fill="#fff" stroke="#777" stroke-width="0.8"/>
<line x1="229.00" y1="641.70" x2="229.00" y2="643.90" stroke="#000" stroke-width="1.0"/>
<text x="232.40" y="646.80" font-size="7.0" font-weight="bold" text-anchor="end" fill="#000" transform="rotate(-90 232.40 646.80)" stroke="#000" stroke-width="0.42">K562 B7</text>
<rect x="239.40" y="562.78" width="10.60" height="78.92" fill="#000"/>
<line x1="244.70" y1="641.70" x2="244.70" y2="643.90" stroke="#000" stroke-width="1.0"/>
<text x="247.20" y="646.80" font-size="7.0" font-weight="bold" text-anchor="end" fill="#000" transform="rotate(-90 247.20 646.80)" stroke="#000" stroke-width="0.42">LCL-JY</text>
<rect x="255.00" y="574.09" width="10.80" height="67.61" fill="#000"/>
<line x1="260.40" y1="641.70" x2="260.40" y2="643.90" stroke="#000" stroke-width="1.0"/>
<text x="262.90" y="646.80" font-size="7.0" font-weight="bold" text-anchor="end" fill="#000" transform="rotate(-90 262.90 646.80)" stroke="#000" stroke-width="0.42">LCL-HHC</text>
<rect x="270.90" y="570.72" width="11.00" height="70.98" fill="#000"/>
<line x1="276.40" y1="641.70" x2="276.40" y2="643.90" stroke="#000" stroke-width="1.0"/>
<text x="278.90" y="646.80" font-size="7.0" font-weight="bold" text-anchor="end" fill="#000" transform="rotate(-90 278.90 646.80)" stroke="#000" stroke-width="0.42">LCL-ALY</text>
<text x="197.30" y="597.00" font-size="8.0" font-weight="bold" text-anchor="middle" fill="#000" transform="rotate(-90 197.30 597.00)" textLength="53.00" lengthAdjust="spacingAndGlyphs" stroke="#000" stroke-width="0.42">IFN-&#947; (pg/ml)</text>
<text x="293.20" y="252.40" font-size="11.5" font-weight="bold" text-anchor="start" fill="#000" textLength="6.30" lengthAdjust="spacingAndGlyphs" stroke="#000" stroke-width="0.8">J</text>
<rect x="314.20" y="264.30" width="91.00" height="82.20" fill="#fff" stroke="#8c8c8c" stroke-width="0.9"/>
<path d="M313.20 320.01h1.0M313.20 317.01h1.0M313.20 314.88h1.0M313.20 313.23h1.0M313.20 311.89h1.0M313.20 310.75h1.0M313.20 309.76h1.0M313.20 308.89h1.0M313.20 303.07h1.0M313.20 300.08h1.0M313.20 297.95h1.0M313.20 296.30h1.0M313.20 294.95h1.0M313.20 293.82h1.0M313.20 292.83h1.0M313.20 291.96h1.0M313.20 286.06h1.0M313.20 283.06h1.0M313.20 280.94h1.0M313.20 279.29h1.0M313.20 277.94h1.0M313.20 276.80h1.0M313.20 275.81h1.0M313.20 274.94h1.0M343.53 346.50v1.0M346.85 346.50v1.0M349.20 346.50v1.0M351.03 346.50v1.0M352.52 346.50v1.0M353.78 346.50v1.0M354.87 346.50v1.0M355.84 346.50v1.0M362.28 346.50v1.0M365.59 346.50v1.0M367.95 346.50v1.0M369.77 346.50v1.0M371.26 346.50v1.0M372.53 346.50v1.0M373.62 346.50v1.0M374.58 346.50v1.0M381.11 346.50v1.0M384.43 346.50v1.0M386.78 346.50v1.0M388.61 346.50v1.0M390.10 346.50v1.0M391.36 346.50v1.0M392.45 346.50v1.0M393.42 346.50v1.0" stroke="#999" stroke-width="0.6" fill="none"/>
<path d="M312.60 341.57h1.6M312.60 339.76h1.6M312.60 337.95h1.6M312.60 336.14h1.6M312.60 334.33h1.6M312.60 332.53h1.6M312.60 330.72h1.6M312.60 328.91h1.6M319.66 346.50v1.6M321.66 346.50v1.6M323.66 346.50v1.6M325.67 346.50v1.6M327.67 346.50v1.6M329.67 346.50v1.6M331.67 346.50v1.6M333.67 346.50v1.6" stroke="#333" stroke-width="0.7" fill="none"/>
<path d="M312.20 325.13h2.0M312.20 308.19h2.0M312.20 291.18h2.0M312.20 274.16h2.0M337.86 346.50v2.0M356.61 346.50v2.0M375.44 346.50v2.0M394.28 346.50v2.0" stroke="#555" stroke-width="0.8" fill="none"/>
<circle cx="312.20" cy="348.80" r="1.2" fill="#000"/>
<rect x="416.30" y="264.30" width="90.30" height="82.20" fill="#fff" stroke="#8c8c8c" stroke-width="0.9"/>
<path d="M415.30 320.01h1.0M415.30 317.01h1.0M415.30 314.88h1.0M415.30 313.23h1.0M415.30 311.89h1.0M415.30 310.75h1.0M415.30 309.76h1.0M415.30 308.89h1.0M415.30 303.07h1.0M415.30 300.08h1.0M415.30 297.95h1.0M415.30 296.30h1.0M415.30 294.95h1.0M415.30 293.82h1.0M415.30 292.83h1.0M415.30 291.96h1.0M415.30 286.06h1.0M415.30 283.06h1.0M415.30 280.94h1.0M415.30 279.29h1.0M415.30 277.94h1.0M415.30 276.80h1.0M415.30 275.81h1.0M415.30 274.94h1.0M445.40 346.50v1.0M448.70 346.50v1.0M451.03 346.50v1.0M452.84 346.50v1.0M454.32 346.50v1.0M455.57 346.50v1.0M456.66 346.50v1.0M457.61 346.50v1.0M464.01 346.50v1.0M467.30 346.50v1.0M469.63 346.50v1.0M471.45 346.50v1.0M472.93 346.50v1.0M474.18 346.50v1.0M475.26 346.50v1.0M476.22 346.50v1.0M482.70 346.50v1.0M485.99 346.50v1.0M488.33 346.50v1.0M490.14 346.50v1.0M491.62 346.50v1.0M492.87 346.50v1.0M493.95 346.50v1.0M494.91 346.50v1.0" stroke="#999" stroke-width="0.6" fill="none"/>
<path d="M414.70 341.57h1.6M414.70 339.76h1.6M414.70 337.95h1.6M414.70 336.14h1.6M414.70 334.33h1.6M414.70 332.53h1.6M414.70 330.72h1.6M414.70 328.91h1.6M421.72 346.50v1.6M423.70 346.50v1.6M425.69 346.50v1.6M427.68 346.50v1.6M429.66 346.50v1.6M431.65 346.50v1.6M433.64 346.50v1.6M435.62 346.50v1.6" stroke="#333" stroke-width="0.7" fill="none"/>
<path d="M414.30 325.13h2.0M414.30 308.19h2.0M414.30 291.18h2.0M414.30 274.16h2.0M439.78 346.50v2.0M458.38 346.50v2.0M477.07 346.50v2.0M495.76 346.50v2.0" stroke="#555" stroke-width="0.8" fill="none"/>
<circle cx="414.30" cy="348.80" r="1.2" fill="#000"/>
<line x1="308.80" y1="346.20" x2="308.80" y2="283.90" stroke="#000" stroke-width="1.4"/>
<polygon points="308.80,273.80 312.70,283.40 304.90,283.40" fill="#000"/>
<text x="307.30" y="320.80" font-size="10.4" font-weight="bold" text-anchor="middle" fill="#000" transform="rotate(-90 307.30 320.80)" textLength="31.50" lengthAdjust="spacingAndGlyphs" stroke="#000" stroke-width="0.42">Empty</text>
<line x1="314.90" y1="352.10" x2="390.50" y2="352.10" stroke="#000" stroke-width="1.4"/>
<polygon points="399.00,352.10 390.00,348.80 390.00,355.40" fill="#000"/>
<line x1="416.00" y1="352.10" x2="493.00" y2="352.10" stroke="#000" stroke-width="1.4"/>
<polygon points="501.50,352.10 492.50,348.80 492.50,355.40" fill="#000"/>
<text x="319.00" y="362.60" font-size="9.6" font-weight="bold" text-anchor="start" fill="#000" textLength="59.70" lengthAdjust="spacingAndGlyphs" stroke="#000" stroke-width="0.42">CD79b<tspan font-size="6.8" dy="2.4">173</tspan><tspan dy="-2.4">:A2</tspan></text>
<text x="422.80" y="362.60" font-size="9.6" font-weight="bold" text-anchor="start" fill="#000" textLength="46.70" lengthAdjust="spacingAndGlyphs" stroke="#000" stroke-width="0.42">USP11:A2</text>
<path d="M381.2 341.3h0.9v0.9h-0.9zM383.9 332.6h0.9v0.9h-0.9zM382.0 327.8h0.9v0.9h-0.9zM386.1 335.6h0.9v0.9h-0.9zM374.8 335.3h0.9v0.9h-0.9zM383.9 334.8h0.9v0.9h-0.9zM383.6 321.5h0.9v0.9h-0.9zM375.4 339.9h0.9v0.9h-0.9zM382.6 320.5h0.9v0.9h-0.9zM383.0 326.8h0.9v0.9h-0.9zM372.1 315.3h0.9v0.9h-0.9zM373.3 330.6h0.9v0.9h-0.9zM381.1 327.5h0.9v0.9h-0.9zM382.7 332.6h0.9v0.9h-0.9zM370.8 327.2h0.9v0.9h-0.9zM377.2 321.6h0.9v0.9h-0.9zM378.6 328.3h0.9v0.9h-0.9zM380.0 320.3h0.9v0.9h-0.9zM378.9 341.1h0.9v0.9h-0.9zM376.0 318.9h0.9v0.9h-0.9zM382.7 332.6h0.9v0.9h-0.9zM383.6 322.3h0.9v0.9h-0.9zM386.3 324.3h0.9v0.9h-0.9zM375.6 325.3h0.9v0.9h-0.9z" fill="#000" fill-opacity="0.1"/>
<path d="M380.8 333.3h0.9v0.9h-0.9zM384.4 328.9h0.9v0.9h-0.9zM386.0 329.5h0.9v0.9h-0.9zM385.8 320.6h0.9v0.9h-0.9zM373.4 333.7h0.9v0.9h-0.9zM374.3 327.2h0.9v0.9h-0.9zM380.8 326.1h0.9v0.9h-0.9zM379.0 337.4h0.9v0.9h-0.9zM368.7 334.3h0.9v0.9h-0.9zM392.8 329.1h0.9v0.9h-0.9zM381.2 333.4h0.9v0.9h-0.9zM390.4 321.9h0.9v0.9h-0.9zM381.7 327.9h0.9v0.9h-0.9zM384.1 330.0h0.9v0.9h-0.9zM384.6 326.5h0.9v0.9h-0.9zM381.5 325.0h0.9v0.9h-0.9zM378.0 328.2h0.9v0.9h-0.9zM380.6 322.0h0.9v0.9h-0.9zM389.2 328.2h0.9v0.9h-0.9zM374.4 335.6h0.9v0.9h-0.9zM377.6 332.0h0.9v0.9h-0.9zM381.2 330.5h0.9v0.9h-0.9zM382.2 325.5h0.9v0.9h-0.9zM381.5 341.2h0.9v0.9h-0.9z" fill="#000" fill-opacity="0.1"/>
<path d="M370.1 329.4h0.9v0.9h-0.9zM383.5 322.7h0.9v0.9h-0.9zM374.4 342.0h0.9v0.9h-0.9zM379.4 341.5h0.9v0.9h-0.9zM384.0 329.5h0.9v0.9h-0.9zM383.7 332.8h0.9v0.9h-0.9zM387.2 331.6h0.9v0.9h-0.9zM382.0 330.1h0.9v0.9h-0.9zM388.1 333.9h0.9v0.9h-0.9zM376.3 325.2h0.9v0.9h-0.9zM383.0 325.3h0.9v0.9h-0.9zM379.4 323.3h0.9v0.9h-0.9zM380.0 331.5h0.9v0.9h-0.9zM386.3 329.1h0.9v0.9h-0.9zM391.7 328.5h0.9v0.9h-0.9zM397.3 335.0h0.9v0.9h-0.9zM383.8 326.0h0.9v0.9h-0.9zM367.2 328.1h0.9v0.9h-0.9zM382.2 340.5h0.9v0.9h-0.9zM374.4 340.4h0.9v0.9h-0.9zM380.0 333.3h0.9v0.9h-0.9zM368.6 329.8h0.9v0.9h-0.9z" fill="#000" fill-opacity="0.1"/>
<ellipse cx="381.00" cy="330.50" rx="7.00" ry="8.00" fill="url(#cg)" fill-opacity="0.22"/>
<ellipse cx="381.50" cy="334.20" rx="5.20" ry="5.00" fill="url(#cg)" fill-opacity="0.55"/>
<path d="M380.4 336.0h0.9v0.9h-0.9zM381.8 330.6h0.9v0.9h-0.9zM384.5 336.1h0.9v0.9h-0.9zM383.4 337.0h0.9v0.9h-0.9zM385.0 333.9h0.9v0.9h-0.9zM377.2 329.8h0.9v0.9h-0.9zM385.8 336.1h0.9v0.9h-0.9zM381.8 332.7h0.9v0.9h-0.9zM381.6 334.1h0.9v0.9h-0.9zM380.4 331.9h0.9v0.9h-0.9zM388.4 334.7h0.9v0.9h-0.9zM379.6 330.1h0.9v0.9h-0.9zM379.2 336.2h0.9v0.9h-0.9zM383.9 333.3h0.9v0.9h-0.9zM381.7 333.1h0.9v0.9h-0.9zM378.0 337.9h0.9v0.9h-0.9zM382.7 341.4h0.9v0.9h-0.9zM379.1 333.6h0.9v0.9h-0.9zM384.3 333.3h0.9v0.9h-0.9zM377.1 331.2h0.9v0.9h-0.9zM381.8 335.0h0.9v0.9h-0.9zM381.2 337.0h0.9v0.9h-0.9zM384.7 335.0h0.9v0.9h-0.9zM381.6 333.2h0.9v0.9h-0.9zM383.3 336.8h0.9v0.9h-0.9zM381.7 335.3h0.9v0.9h-0.9zM380.5 329.8h0.9v0.9h-0.9zM378.3 336.3h0.9v0.9h-0.9zM382.9 338.8h0.9v0.9h-0.9zM381.7 336.6h0.9v0.9h-0.9z" fill="#000" fill-opacity="0.3"/>
<path d="M385.7 337.0h0.9v0.9h-0.9zM379.6 333.4h0.9v0.9h-0.9zM381.9 331.0h0.9v0.9h-0.9zM383.0 337.1h0.9v0.9h-0.9zM380.0 339.9h0.9v0.9h-0.9zM380.6 333.4h0.9v0.9h-0.9zM380.7 331.9h0.9v0.9h-0.9zM382.8 334.1h0.9v0.9h-0.9zM386.8 335.8h0.9v0.9h-0.9zM383.2 333.3h0.9v0.9h-0.9zM377.0 333.7h0.9v0.9h-0.9zM378.8 336.9h0.9v0.9h-0.9zM381.4 339.0h0.9v0.9h-0.9zM383.9 336.5h0.9v0.9h-0.9zM382.2 334.6h0.9v0.9h-0.9zM383.6 336.8h0.9v0.9h-0.9zM379.2 335.5h0.9v0.9h-0.9zM389.9 333.7h0.9v0.9h-0.9zM380.7 331.9h0.9v0.9h-0.9zM376.9 337.6h0.9v0.9h-0.9zM381.7 334.9h0.9v0.9h-0.9zM387.4 341.5h0.9v0.9h-0.9zM378.7 337.2h0.9v0.9h-0.9zM383.5 335.2h0.9v0.9h-0.9zM383.0 333.9h0.9v0.9h-0.9zM386.6 335.8h0.9v0.9h-0.9zM382.6 337.7h0.9v0.9h-0.9zM384.4 335.4h0.9v0.9h-0.9zM382.6 339.3h0.9v0.9h-0.9zM383.1 333.7h0.9v0.9h-0.9z" fill="#000" fill-opacity="0.3"/>
<path d="M378.8 333.0h0.9v0.9h-0.9zM378.1 334.3h0.9v0.9h-0.9zM382.3 327.9h0.9v0.9h-0.9zM381.6 336.0h0.9v0.9h-0.9zM382.0 331.1h0.9v0.9h-0.9zM385.6 331.9h0.9v0.9h-0.9zM377.6 330.8h0.9v0.9h-0.9zM381.5 337.0h0.9v0.9h-0.9zM385.2 334.6h0.9v0.9h-0.9zM377.7 332.0h0.9v0.9h-0.9zM378.6 333.5h0.9v0.9h-0.9zM375.8 334.3h0.9v0.9h-0.9zM383.6 333.6h0.9v0.9h-0.9zM383.0 331.2h0.9v0.9h-0.9zM376.8 332.1h0.9v0.9h-0.9zM385.2 337.1h0.9v0.9h-0.9zM380.0 337.6h0.9v0.9h-0.9zM380.5 338.5h0.9v0.9h-0.9zM383.0 332.6h0.9v0.9h-0.9zM384.0 331.7h0.9v0.9h-0.9zM378.5 329.6h0.9v0.9h-0.9zM382.3 333.8h0.9v0.9h-0.9zM381.3 332.8h0.9v0.9h-0.9zM386.1 332.7h0.9v0.9h-0.9zM379.2 337.7h0.9v0.9h-0.9zM386.0 335.0h0.9v0.9h-0.9zM375.9 332.2h0.9v0.9h-0.9zM383.5 334.1h0.9v0.9h-0.9zM386.5 329.9h0.9v0.9h-0.9zM383.7 332.1h0.9v0.9h-0.9z" fill="#000" fill-opacity="0.3"/>
<path d="M444.6 328.6h0.9v0.9h-0.9zM442.2 325.4h0.9v0.9h-0.9zM422.7 322.9h0.9v0.9h-0.9zM429.1 323.4h0.9v0.9h-0.9zM443.6 336.4h0.9v0.9h-0.9zM436.2 323.3h0.9v0.9h-0.9zM433.1 325.2h0.9v0.9h-0.9zM445.6 330.7h0.9v0.9h-0.9zM437.9 326.8h0.9v0.9h-0.9zM417.9 324.8h0.9v0.9h-0.9zM425.1 331.0h0.9v0.9h-0.9zM434.8 324.6h0.9v0.9h-0.9zM430.9 337.6h0.9v0.9h-0.9zM426.3 324.0h0.9v0.9h-0.9zM432.2 325.2h0.9v0.9h-0.9zM430.6 331.9h0.9v0.9h-0.9zM447.9 319.2h0.9v0.9h-0.9zM433.9 329.2h0.9v0.9h-0.9zM433.3 328.0h0.9v0.9h-0.9zM431.3 334.5h0.9v0.9h-0.9zM430.3 328.3h0.9v0.9h-0.9zM434.0 329.6h0.9v0.9h-0.9zM432.6 334.5h0.9v0.9h-0.9zM433.9 330.0h0.9v0.9h-0.9zM433.6 323.5h0.9v0.9h-0.9zM427.4 323.2h0.9v0.9h-0.9zM435.5 325.1h0.9v0.9h-0.9zM425.5 330.3h0.9v0.9h-0.9zM438.2 319.3h0.9v0.9h-0.9zM447.5 329.2h0.9v0.9h-0.9zM433.2 334.9h0.9v0.9h-0.9zM434.6 325.7h0.9v0.9h-0.9zM451.6 323.1h0.9v0.9h-0.9zM433.2 333.7h0.9v0.9h-0.9z" fill="#000" fill-opacity="0.1"/>
<path d="M425.4 328.4h0.9v0.9h-0.9zM437.1 342.2h0.9v0.9h-0.9zM426.9 328.7h0.9v0.9h-0.9zM439.3 329.4h0.9v0.9h-0.9zM424.4 331.2h0.9v0.9h-0.9zM434.9 331.5h0.9v0.9h-0.9zM443.1 334.6h0.9v0.9h-0.9zM437.3 330.7h0.9v0.9h-0.9zM425.2 328.3h0.9v0.9h-0.9zM435.8 326.8h0.9v0.9h-0.9zM434.8 324.5h0.9v0.9h-0.9zM446.3 340.8h0.9v0.9h-0.9zM430.9 331.2h0.9v0.9h-0.9zM432.1 335.9h0.9v0.9h-0.9zM437.5 329.4h0.9v0.9h-0.9zM432.2 329.7h0.9v0.9h-0.9zM426.0 332.7h0.9v0.9h-0.9zM428.3 331.9h0.9v0.9h-0.9zM435.0 335.0h0.9v0.9h-0.9zM433.9 334.6h0.9v0.9h-0.9zM426.6 332.4h0.9v0.9h-0.9zM432.2 330.1h0.9v0.9h-0.9zM434.6 334.1h0.9v0.9h-0.9zM417.8 330.8h0.9v0.9h-0.9zM422.0 335.6h0.9v0.9h-0.9zM418.2 323.5h0.9v0.9h-0.9zM420.6 338.0h0.9v0.9h-0.9zM423.7 329.6h0.9v0.9h-0.9zM429.7 319.1h0.9v0.9h-0.9zM431.3 332.6h0.9v0.9h-0.9zM432.5 334.2h0.9v0.9h-0.9zM431.1 329.0h0.9v0.9h-0.9zM430.9 330.9h0.9v0.9h-0.9zM449.2 331.0h0.9v0.9h-0.9z" fill="#000" fill-opacity="0.1"/>
<path d="M435.6 325.6h0.9v0.9h-0.9zM428.0 337.1h0.9v0.9h-0.9zM425.1 324.0h0.9v0.9h-0.9zM433.2 326.7h0.9v0.9h-0.9zM449.6 316.0h0.9v0.9h-0.9zM436.9 332.9h0.9v0.9h-0.9zM425.0 325.5h0.9v0.9h-0.9zM437.5 338.0h0.9v0.9h-0.9zM426.6 320.3h0.9v0.9h-0.9zM441.8 337.4h0.9v0.9h-0.9zM431.3 316.8h0.9v0.9h-0.9zM445.6 327.9h0.9v0.9h-0.9zM443.0 328.8h0.9v0.9h-0.9zM431.0 326.5h0.9v0.9h-0.9zM445.8 336.9h0.9v0.9h-0.9zM416.9 323.9h0.9v0.9h-0.9zM448.2 327.0h0.9v0.9h-0.9zM423.1 329.0h0.9v0.9h-0.9zM433.1 328.5h0.9v0.9h-0.9zM430.2 327.3h0.9v0.9h-0.9zM430.4 330.8h0.9v0.9h-0.9zM427.5 327.4h0.9v0.9h-0.9zM432.8 336.2h0.9v0.9h-0.9zM437.0 328.4h0.9v0.9h-0.9zM438.3 331.2h0.9v0.9h-0.9zM442.7 331.8h0.9v0.9h-0.9zM448.4 336.4h0.9v0.9h-0.9zM433.7 326.7h0.9v0.9h-0.9zM441.1 331.8h0.9v0.9h-0.9zM433.2 320.9h0.9v0.9h-0.9zM419.3 330.9h0.9v0.9h-0.9zM440.2 333.4h0.9v0.9h-0.9z" fill="#000" fill-opacity="0.1"/>
<ellipse cx="433.50" cy="330.50" rx="12.50" ry="7.50" fill="url(#cg)" fill-opacity="0.25"/>
<ellipse cx="434.50" cy="334.00" rx="10.00" ry="4.60" fill="url(#cg)" fill-opacity="0.6"/>
<path d="M426.8 336.6h0.9v0.9h-0.9zM431.3 335.0h0.9v0.9h-0.9zM437.0 332.0h0.9v0.9h-0.9zM431.0 328.8h0.9v0.9h-0.9zM429.0 329.5h0.9v0.9h-0.9zM437.1 334.2h0.9v0.9h-0.9zM440.0 334.9h0.9v0.9h-0.9zM430.7 334.9h0.9v0.9h-0.9zM432.2 335.5h0.9v0.9h-0.9zM436.4 331.5h0.9v0.9h-0.9zM434.5 334.1h0.9v0.9h-0.9zM432.7 336.2h0.9v0.9h-0.9zM444.8 333.1h0.9v0.9h-0.9zM432.4 328.4h0.9v0.9h-0.9zM433.7 332.9h0.9v0.9h-0.9zM421.5 334.7h0.9v0.9h-0.9zM438.0 332.2h0.9v0.9h-0.9zM432.3 331.6h0.9v0.9h-0.9zM439.1 330.2h0.9v0.9h-0.9zM432.6 338.9h0.9v0.9h-0.9zM434.8 335.2h0.9v0.9h-0.9zM433.6 331.1h0.9v0.9h-0.9zM434.3 335.0h0.9v0.9h-0.9zM428.4 334.9h0.9v0.9h-0.9zM442.0 336.7h0.9v0.9h-0.9zM425.0 331.6h0.9v0.9h-0.9zM424.8 336.7h0.9v0.9h-0.9zM438.2 335.8h0.9v0.9h-0.9zM429.2 331.1h0.9v0.9h-0.9zM435.0 334.3h0.9v0.9h-0.9zM429.4 334.4h0.9v0.9h-0.9zM438.4 334.6h0.9v0.9h-0.9zM428.3 328.7h0.9v0.9h-0.9zM432.9 334.4h0.9v0.9h-0.9zM432.9 332.9h0.9v0.9h-0.9zM430.4 335.8h0.9v0.9h-0.9zM434.2 334.3h0.9v0.9h-0.9zM428.7 332.4h0.9v0.9h-0.9zM435.5 331.5h0.9v0.9h-0.9zM426.9 333.2h0.9v0.9h-0.9z" fill="#000" fill-opacity="0.3"/>
<path d="M441.7 334.5h0.9v0.9h-0.9zM443.3 333.7h0.9v0.9h-0.9zM432.6 330.5h0.9v0.9h-0.9zM431.0 337.6h0.9v0.9h-0.9zM436.5 335.8h0.9v0.9h-0.9zM438.7 334.0h0.9v0.9h-0.9zM433.3 334.3h0.9v0.9h-0.9zM438.5 335.1h0.9v0.9h-0.9zM437.5 334.4h0.9v0.9h-0.9zM429.9 333.3h0.9v0.9h-0.9zM428.9 336.5h0.9v0.9h-0.9zM421.9 333.5h0.9v0.9h-0.9zM448.8 333.1h0.9v0.9h-0.9zM427.7 334.0h0.9v0.9h-0.9zM442.2 333.6h0.9v0.9h-0.9zM438.2 334.2h0.9v0.9h-0.9zM432.3 341.9h0.9v0.9h-0.9zM434.9 332.7h0.9v0.9h-0.9zM431.6 335.0h0.9v0.9h-0.9zM437.0 335.9h0.9v0.9h-0.9zM435.3 330.4h0.9v0.9h-0.9zM437.7 333.2h0.9v0.9h-0.9zM432.8 330.3h0.9v0.9h-0.9zM431.1 332.2h0.9v0.9h-0.9zM434.3 330.4h0.9v0.9h-0.9zM434.8 334.3h0.9v0.9h-0.9zM427.8 332.4h0.9v0.9h-0.9zM429.4 336.3h0.9v0.9h-0.9zM419.3 333.1h0.9v0.9h-0.9zM424.5 332.9h0.9v0.9h-0.9zM439.6 332.4h0.9v0.9h-0.9zM435.3 331.9h0.9v0.9h-0.9zM446.1 336.3h0.9v0.9h-0.9zM441.3 330.7h0.9v0.9h-0.9zM427.9 336.7h0.9v0.9h-0.9zM433.3 333.4h0.9v0.9h-0.9zM436.5 330.9h0.9v0.9h-0.9zM439.1 334.0h0.9v0.9h-0.9zM437.4 332.3h0.9v0.9h-0.9zM437.6 332.2h0.9v0.9h-0.9z" fill="#000" fill-opacity="0.3"/>
<path d="M440.2 336.8h0.9v0.9h-0.9zM440.0 335.3h0.9v0.9h-0.9zM438.3 327.2h0.9v0.9h-0.9zM439.5 333.3h0.9v0.9h-0.9zM435.1 333.3h0.9v0.9h-0.9zM426.2 332.7h0.9v0.9h-0.9zM438.5 337.5h0.9v0.9h-0.9zM430.8 331.7h0.9v0.9h-0.9zM443.2 331.8h0.9v0.9h-0.9zM446.9 334.1h0.9v0.9h-0.9zM429.2 336.5h0.9v0.9h-0.9zM444.7 330.4h0.9v0.9h-0.9zM443.9 333.3h0.9v0.9h-0.9zM443.4 333.0h0.9v0.9h-0.9zM425.0 335.3h0.9v0.9h-0.9zM440.1 339.2h0.9v0.9h-0.9zM444.8 335.7h0.9v0.9h-0.9zM433.1 332.7h0.9v0.9h-0.9zM432.7 331.9h0.9v0.9h-0.9zM432.9 327.6h0.9v0.9h-0.9zM435.6 333.9h0.9v0.9h-0.9zM449.9 335.9h0.9v0.9h-0.9zM431.6 335.4h0.9v0.9h-0.9zM427.1 332.5h0.9v0.9h-0.9zM423.3 337.6h0.9v0.9h-0.9zM438.1 331.1h0.9v0.9h-0.9zM434.1 336.4h0.9v0.9h-0.9zM437.5 335.0h0.9v0.9h-0.9zM429.4 332.4h0.9v0.9h-0.9zM435.1 336.3h0.9v0.9h-0.9zM429.5 331.2h0.9v0.9h-0.9zM441.4 331.7h0.9v0.9h-0.9zM441.0 334.6h0.9v0.9h-0.9zM439.8 338.4h0.9v0.9h-0.9zM438.6 335.9h0.9v0.9h-0.9zM429.0 332.3h0.9v0.9h-0.9zM438.4 337.8h0.9v0.9h-0.9zM442.9 339.8h0.9v0.9h-0.9zM436.4 334.5h0.9v0.9h-0.9zM440.5 334.0h0.9v0.9h-0.9z" fill="#000" fill-opacity="0.3"/>
<text x="293.00" y="396.60" font-size="11.5" font-weight="bold" text-anchor="start" fill="#000" textLength="9.30" lengthAdjust="spacingAndGlyphs" stroke="#000" stroke-width="0.8">K</text>
<rect x="316.20" y="406.50" width="91.70" height="80.50" fill="#fff" stroke="#8c8c8c" stroke-width="0.9"/>
<path d="M315.20 461.05h1.0M315.20 458.12h1.0M315.20 456.04h1.0M315.20 454.42h1.0M315.20 453.10h1.0M315.20 451.99h1.0M315.20 451.02h1.0M315.20 450.17h1.0M315.20 444.47h1.0M315.20 441.54h1.0M315.20 439.45h1.0M315.20 437.84h1.0M315.20 436.52h1.0M315.20 435.40h1.0M315.20 434.44h1.0M315.20 433.59h1.0M315.20 427.81h1.0M315.20 424.87h1.0M315.20 422.79h1.0M315.20 421.18h1.0M315.20 419.86h1.0M315.20 418.74h1.0M315.20 417.77h1.0M315.20 416.92h1.0M345.76 487.00v1.0M349.10 487.00v1.0M351.47 487.00v1.0M353.31 487.00v1.0M354.81 487.00v1.0M356.08 487.00v1.0M357.18 487.00v1.0M358.16 487.00v1.0M364.65 487.00v1.0M367.99 487.00v1.0M370.36 487.00v1.0M372.20 487.00v1.0M373.70 487.00v1.0M374.97 487.00v1.0M376.07 487.00v1.0M377.05 487.00v1.0M383.63 487.00v1.0M386.97 487.00v1.0M389.34 487.00v1.0M391.18 487.00v1.0M392.68 487.00v1.0M393.96 487.00v1.0M395.06 487.00v1.0M396.03 487.00v1.0" stroke="#999" stroke-width="0.6" fill="none"/>
<path d="M314.60 482.17h1.6M314.60 480.40h1.6M314.60 478.63h1.6M314.60 476.86h1.6M314.60 475.09h1.6M314.60 473.31h1.6M314.60 471.54h1.6M314.60 469.77h1.6M321.70 487.00v1.6M323.72 487.00v1.6M325.74 487.00v1.6M327.75 487.00v1.6M329.77 487.00v1.6M331.79 487.00v1.6M333.81 487.00v1.6M335.82 487.00v1.6" stroke="#333" stroke-width="0.7" fill="none"/>
<path d="M314.20 466.07h2.0M314.20 449.49h2.0M314.20 432.82h2.0M314.20 416.16h2.0M340.04 487.00v2.0M358.93 487.00v2.0M377.91 487.00v2.0M396.90 487.00v2.0" stroke="#555" stroke-width="0.8" fill="none"/>
<circle cx="314.20" cy="489.30" r="1.2" fill="#000"/>
<rect x="418.00" y="406.50" width="92.50" height="80.50" fill="#fff" stroke="#8c8c8c" stroke-width="0.9"/>
<path d="M417.00 461.05h1.0M417.00 458.12h1.0M417.00 456.04h1.0M417.00 454.42h1.0M417.00 453.10h1.0M417.00 451.99h1.0M417.00 451.02h1.0M417.00 450.17h1.0M417.00 444.47h1.0M417.00 441.54h1.0M417.00 439.45h1.0M417.00 437.84h1.0M417.00 436.52h1.0M417.00 435.40h1.0M417.00 434.44h1.0M417.00 433.59h1.0M417.00 427.81h1.0M417.00 424.87h1.0M417.00 422.79h1.0M417.00 421.18h1.0M417.00 419.86h1.0M417.00 418.74h1.0M417.00 417.77h1.0M417.00 416.92h1.0M447.81 487.00v1.0M451.19 487.00v1.0M453.58 487.00v1.0M455.43 487.00v1.0M456.95 487.00v1.0M458.23 487.00v1.0M459.34 487.00v1.0M460.32 487.00v1.0M466.87 487.00v1.0M470.24 487.00v1.0M472.63 487.00v1.0M474.49 487.00v1.0M476.00 487.00v1.0M477.29 487.00v1.0M478.40 487.00v1.0M479.38 487.00v1.0M486.02 487.00v1.0M489.39 487.00v1.0M491.78 487.00v1.0M493.64 487.00v1.0M495.15 487.00v1.0M496.43 487.00v1.0M497.54 487.00v1.0M498.52 487.00v1.0" stroke="#999" stroke-width="0.6" fill="none"/>
<path d="M416.40 482.17h1.6M416.40 480.40h1.6M416.40 478.63h1.6M416.40 476.86h1.6M416.40 475.09h1.6M416.40 473.31h1.6M416.40 471.54h1.6M416.40 469.77h1.6M423.55 487.00v1.6M425.58 487.00v1.6M427.62 487.00v1.6M429.65 487.00v1.6M431.69 487.00v1.6M433.73 487.00v1.6M435.76 487.00v1.6M437.80 487.00v1.6" stroke="#333" stroke-width="0.7" fill="none"/>
<path d="M416.00 466.07h2.0M416.00 449.49h2.0M416.00 432.82h2.0M416.00 416.16h2.0M442.05 487.00v2.0M461.11 487.00v2.0M480.25 487.00v2.0M499.40 487.00v2.0" stroke="#555" stroke-width="0.8" fill="none"/>
<circle cx="416.00" cy="489.30" r="1.2" fill="#000"/>
<line x1="309.20" y1="486.50" x2="309.20" y2="425.90" stroke="#000" stroke-width="1.4"/>
<polygon points="309.20,414.50 313.10,425.40 305.30,425.40" fill="#000"/>
<text x="307.30" y="461.60" font-size="10.4" font-weight="bold" text-anchor="middle" fill="#000" transform="rotate(-90 307.30 461.60)" textLength="31.50" lengthAdjust="spacingAndGlyphs" stroke="#000" stroke-width="0.42">Empty</text>
<line x1="314.30" y1="495.80" x2="391.20" y2="495.80" stroke="#000" stroke-width="1.4"/>
<polygon points="399.70,495.80 390.70,492.50 390.70,499.10" fill="#000"/>
<line x1="416.30" y1="495.80" x2="492.00" y2="495.80" stroke="#000" stroke-width="1.4"/>
<polygon points="500.50,495.80 491.50,492.50 491.50,499.10" fill="#000"/>
<text x="321.00" y="506.30" font-size="9.6" font-weight="bold" text-anchor="start" fill="#000" textLength="56.00" lengthAdjust="spacingAndGlyphs" stroke="#000" stroke-width="0.42">CD79b<tspan font-size="6.8" dy="2.4">20</tspan><tspan dy="-2.4">:A2</tspan></text>
<text x="424.50" y="506.30" font-size="9.6" font-weight="bold" text-anchor="start" fill="#000" textLength="48.00" lengthAdjust="spacingAndGlyphs" stroke="#000" stroke-width="0.42">USP11:A2</text>
<path d="M373.3 460.8h0.9v0.9h-0.9zM385.9 460.6h0.9v0.9h-0.9zM380.1 458.9h0.9v0.9h-0.9zM387.2 460.9h0.9v0.9h-0.9zM384.1 458.1h0.9v0.9h-0.9zM368.7 471.9h0.9v0.9h-0.9zM364.3 466.3h0.9v0.9h-0.9zM368.3 454.5h0.9v0.9h-0.9zM377.7 468.2h0.9v0.9h-0.9zM360.7 468.9h0.9v0.9h-0.9zM364.5 461.0h0.9v0.9h-0.9zM374.1 462.6h0.9v0.9h-0.9zM401.5 458.2h0.9v0.9h-0.9zM382.9 470.9h0.9v0.9h-0.9zM350.2 457.3h0.9v0.9h-0.9zM380.7 463.6h0.9v0.9h-0.9zM378.6 471.7h0.9v0.9h-0.9zM369.5 460.7h0.9v0.9h-0.9zM341.2 467.0h0.9v0.9h-0.9zM362.9 467.6h0.9v0.9h-0.9zM376.8 459.1h0.9v0.9h-0.9zM394.7 471.4h0.9v0.9h-0.9zM384.2 460.1h0.9v0.9h-0.9zM369.1 463.3h0.9v0.9h-0.9z" fill="#000" fill-opacity="0.14"/>
<path d="M369.0 460.4h0.9v0.9h-0.9zM379.2 467.1h0.9v0.9h-0.9zM378.4 463.5h0.9v0.9h-0.9zM389.5 466.9h0.9v0.9h-0.9zM341.1 462.8h0.9v0.9h-0.9zM373.3 470.8h0.9v0.9h-0.9zM370.4 464.7h0.9v0.9h-0.9zM366.0 469.3h0.9v0.9h-0.9zM368.6 463.0h0.9v0.9h-0.9zM365.1 468.8h0.9v0.9h-0.9zM367.6 457.6h0.9v0.9h-0.9zM381.5 462.5h0.9v0.9h-0.9zM378.3 467.9h0.9v0.9h-0.9zM388.4 471.2h0.9v0.9h-0.9zM367.1 465.2h0.9v0.9h-0.9zM358.5 474.4h0.9v0.9h-0.9zM379.3 473.0h0.9v0.9h-0.9zM370.2 455.8h0.9v0.9h-0.9zM392.4 466.5h0.9v0.9h-0.9zM375.6 466.3h0.9v0.9h-0.9zM381.7 468.7h0.9v0.9h-0.9zM354.9 471.4h0.9v0.9h-0.9zM367.7 463.7h0.9v0.9h-0.9zM394.7 470.6h0.9v0.9h-0.9z" fill="#000" fill-opacity="0.14"/>
<path d="M369.9 456.7h0.9v0.9h-0.9zM375.9 468.7h0.9v0.9h-0.9zM373.0 459.8h0.9v0.9h-0.9zM364.5 459.7h0.9v0.9h-0.9zM376.6 470.1h0.9v0.9h-0.9zM386.3 462.3h0.9v0.9h-0.9zM376.8 468.8h0.9v0.9h-0.9zM367.9 465.3h0.9v0.9h-0.9zM399.5 467.0h0.9v0.9h-0.9zM384.6 463.8h0.9v0.9h-0.9zM374.5 457.4h0.9v0.9h-0.9zM373.7 472.0h0.9v0.9h-0.9zM399.2 472.0h0.9v0.9h-0.9zM382.2 466.3h0.9v0.9h-0.9zM366.8 465.2h0.9v0.9h-0.9zM381.4 462.1h0.9v0.9h-0.9zM385.2 461.1h0.9v0.9h-0.9zM352.6 460.9h0.9v0.9h-0.9zM354.0 459.1h0.9v0.9h-0.9zM387.6 465.0h0.9v0.9h-0.9zM376.6 471.8h0.9v0.9h-0.9zM389.1 463.5h0.9v0.9h-0.9z" fill="#000" fill-opacity="0.14"/>
<ellipse cx="368.80" cy="465.60" rx="7.90" ry="6.60" fill="url(#cg)" fill-opacity="0.98" transform="rotate(-15 368.80 465.60)"/>
<path d="M375.0 467.0h0.9v0.9h-0.9zM369.0 467.2h0.9v0.9h-0.9zM362.6 462.5h0.9v0.9h-0.9zM368.5 467.8h0.9v0.9h-0.9zM367.3 465.0h0.9v0.9h-0.9zM373.4 470.9h0.9v0.9h-0.9zM372.5 470.3h0.9v0.9h-0.9zM367.2 464.3h0.9v0.9h-0.9zM370.4 464.4h0.9v0.9h-0.9zM366.7 471.8h0.9v0.9h-0.9zM368.1 461.8h0.9v0.9h-0.9zM371.2 472.5h0.9v0.9h-0.9zM369.4 470.2h0.9v0.9h-0.9zM367.0 463.6h0.9v0.9h-0.9zM365.9 465.0h0.9v0.9h-0.9zM377.3 461.1h0.9v0.9h-0.9zM376.4 461.7h0.9v0.9h-0.9zM367.9 468.7h0.9v0.9h-0.9zM371.8 466.6h0.9v0.9h-0.9zM361.6 466.9h0.9v0.9h-0.9zM364.4 475.3h0.9v0.9h-0.9zM368.0 466.2h0.9v0.9h-0.9zM363.8 463.7h0.9v0.9h-0.9zM363.2 469.2h0.9v0.9h-0.9zM367.8 467.6h0.9v0.9h-0.9zM365.9 463.6h0.9v0.9h-0.9zM374.8 461.8h0.9v0.9h-0.9zM360.9 467.0h0.9v0.9h-0.9zM363.9 463.8h0.9v0.9h-0.9zM373.1 462.4h0.9v0.9h-0.9zM373.0 462.9h0.9v0.9h-0.9zM375.7 470.5h0.9v0.9h-0.9zM366.9 464.7h0.9v0.9h-0.9zM365.3 466.3h0.9v0.9h-0.9z" fill="#000" fill-opacity="0.35"/>
<path d="M374.2 460.0h0.9v0.9h-0.9zM373.1 460.5h0.9v0.9h-0.9zM365.1 458.7h0.9v0.9h-0.9zM378.5 465.7h0.9v0.9h-0.9zM370.1 462.9h0.9v0.9h-0.9zM373.8 457.5h0.9v0.9h-0.9zM369.1 473.9h0.9v0.9h-0.9zM367.3 465.6h0.9v0.9h-0.9zM372.0 462.4h0.9v0.9h-0.9zM369.1 469.2h0.9v0.9h-0.9zM369.9 466.9h0.9v0.9h-0.9zM367.4 466.7h0.9v0.9h-0.9zM369.3 471.0h0.9v0.9h-0.9zM372.3 464.6h0.9v0.9h-0.9zM358.0 468.2h0.9v0.9h-0.9zM372.4 462.0h0.9v0.9h-0.9zM360.0 461.2h0.9v0.9h-0.9zM373.2 461.5h0.9v0.9h-0.9zM366.9 466.3h0.9v0.9h-0.9zM374.5 465.4h0.9v0.9h-0.9zM368.5 463.4h0.9v0.9h-0.9zM376.3 469.6h0.9v0.9h-0.9zM368.6 460.2h0.9v0.9h-0.9zM365.4 467.7h0.9v0.9h-0.9zM365.8 468.9h0.9v0.9h-0.9zM370.6 466.6h0.9v0.9h-0.9zM371.9 467.4h0.9v0.9h-0.9zM365.2 464.3h0.9v0.9h-0.9zM379.5 460.9h0.9v0.9h-0.9zM366.9 469.5h0.9v0.9h-0.9zM368.3 462.4h0.9v0.9h-0.9zM363.0 467.5h0.9v0.9h-0.9zM373.6 470.8h0.9v0.9h-0.9zM369.2 469.5h0.9v0.9h-0.9z" fill="#000" fill-opacity="0.35"/>
<path d="M364.4 466.1h0.9v0.9h-0.9zM366.0 466.2h0.9v0.9h-0.9zM372.4 469.6h0.9v0.9h-0.9zM364.5 470.3h0.9v0.9h-0.9zM366.9 461.6h0.9v0.9h-0.9zM368.2 459.9h0.9v0.9h-0.9zM369.0 466.6h0.9v0.9h-0.9zM368.1 467.5h0.9v0.9h-0.9zM367.6 465.5h0.9v0.9h-0.9zM362.5 465.7h0.9v0.9h-0.9zM365.2 463.8h0.9v0.9h-0.9zM368.6 466.2h0.9v0.9h-0.9zM361.6 459.6h0.9v0.9h-0.9zM367.6 467.3h0.9v0.9h-0.9zM370.6 468.9h0.9v0.9h-0.9zM374.9 467.4h0.9v0.9h-0.9zM368.9 461.6h0.9v0.9h-0.9zM364.7 463.7h0.9v0.9h-0.9zM370.2 466.3h0.9v0.9h-0.9zM369.0 464.9h0.9v0.9h-0.9zM371.8 466.3h0.9v0.9h-0.9zM370.3 466.7h0.9v0.9h-0.9zM366.5 461.6h0.9v0.9h-0.9zM371.2 467.1h0.9v0.9h-0.9zM368.0 463.9h0.9v0.9h-0.9zM379.3 462.6h0.9v0.9h-0.9zM368.0 466.5h0.9v0.9h-0.9zM363.8 465.9h0.9v0.9h-0.9zM377.1 469.0h0.9v0.9h-0.9zM371.8 467.8h0.9v0.9h-0.9zM369.5 469.1h0.9v0.9h-0.9zM368.3 463.9h0.9v0.9h-0.9z" fill="#000" fill-opacity="0.35"/>
<path d="M439.6 470.5h0.9v0.9h-0.9zM443.3 469.4h0.9v0.9h-0.9zM405.6 472.0h0.9v0.9h-0.9zM475.4 472.7h0.9v0.9h-0.9zM432.9 461.8h0.9v0.9h-0.9zM442.4 461.1h0.9v0.9h-0.9zM449.6 463.4h0.9v0.9h-0.9zM453.4 472.8h0.9v0.9h-0.9zM405.5 467.5h0.9v0.9h-0.9zM426.8 459.0h0.9v0.9h-0.9zM428.1 464.9h0.9v0.9h-0.9zM454.5 458.4h0.9v0.9h-0.9zM454.8 476.1h0.9v0.9h-0.9zM447.6 468.7h0.9v0.9h-0.9zM437.8 460.1h0.9v0.9h-0.9zM446.6 467.9h0.9v0.9h-0.9zM449.7 478.8h0.9v0.9h-0.9zM449.6 468.1h0.9v0.9h-0.9zM463.0 459.3h0.9v0.9h-0.9zM419.7 464.1h0.9v0.9h-0.9zM427.5 469.5h0.9v0.9h-0.9zM432.9 474.7h0.9v0.9h-0.9zM462.3 469.9h0.9v0.9h-0.9zM431.8 469.1h0.9v0.9h-0.9z" fill="#000" fill-opacity="0.14"/>
<path d="M451.0 460.7h0.9v0.9h-0.9zM443.6 469.5h0.9v0.9h-0.9zM441.5 473.9h0.9v0.9h-0.9zM457.4 461.9h0.9v0.9h-0.9zM440.0 461.8h0.9v0.9h-0.9zM447.3 461.7h0.9v0.9h-0.9zM452.8 467.9h0.9v0.9h-0.9zM453.5 465.3h0.9v0.9h-0.9zM414.7 474.8h0.9v0.9h-0.9zM435.2 472.9h0.9v0.9h-0.9zM444.9 469.4h0.9v0.9h-0.9zM467.3 467.7h0.9v0.9h-0.9zM460.4 458.6h0.9v0.9h-0.9zM451.9 464.8h0.9v0.9h-0.9zM435.9 466.0h0.9v0.9h-0.9zM443.5 474.3h0.9v0.9h-0.9zM408.3 466.2h0.9v0.9h-0.9zM426.5 471.8h0.9v0.9h-0.9zM431.2 468.3h0.9v0.9h-0.9zM431.6 469.3h0.9v0.9h-0.9zM454.2 464.0h0.9v0.9h-0.9zM438.8 458.9h0.9v0.9h-0.9zM442.9 470.3h0.9v0.9h-0.9zM429.1 471.6h0.9v0.9h-0.9z" fill="#000" fill-opacity="0.14"/>
<path d="M404.8 456.7h0.9v0.9h-0.9zM415.8 463.6h0.9v0.9h-0.9zM438.3 465.6h0.9v0.9h-0.9zM436.9 469.6h0.9v0.9h-0.9zM430.4 459.7h0.9v0.9h-0.9zM418.1 476.6h0.9v0.9h-0.9zM400.4 465.1h0.9v0.9h-0.9zM461.3 468.4h0.9v0.9h-0.9zM424.7 466.0h0.9v0.9h-0.9zM451.8 472.0h0.9v0.9h-0.9zM423.6 469.8h0.9v0.9h-0.9zM442.0 471.5h0.9v0.9h-0.9zM460.2 464.3h0.9v0.9h-0.9zM414.8 468.0h0.9v0.9h-0.9zM466.4 469.4h0.9v0.9h-0.9zM441.7 478.0h0.9v0.9h-0.9zM421.4 470.5h0.9v0.9h-0.9zM428.9 466.2h0.9v0.9h-0.9zM439.4 473.6h0.9v0.9h-0.9zM423.0 463.3h0.9v0.9h-0.9zM412.5 468.4h0.9v0.9h-0.9zM430.7 468.1h0.9v0.9h-0.9z" fill="#000" fill-opacity="0.14"/>
<ellipse cx="430.90" cy="465.20" rx="8.30" ry="6.70" fill="url(#cg)" fill-opacity="0.98"/>
<path d="M425.8 463.8h0.9v0.9h-0.9zM436.0 464.5h0.9v0.9h-0.9zM434.0 467.2h0.9v0.9h-0.9zM429.3 459.3h0.9v0.9h-0.9zM435.7 465.8h0.9v0.9h-0.9zM435.7 457.6h0.9v0.9h-0.9zM423.1 457.1h0.9v0.9h-0.9zM426.8 469.2h0.9v0.9h-0.9zM433.7 465.1h0.9v0.9h-0.9zM431.6 468.1h0.9v0.9h-0.9zM429.5 466.7h0.9v0.9h-0.9zM431.7 456.9h0.9v0.9h-0.9zM429.2 470.4h0.9v0.9h-0.9zM429.1 464.7h0.9v0.9h-0.9zM428.1 463.4h0.9v0.9h-0.9zM436.4 464.2h0.9v0.9h-0.9zM426.1 453.4h0.9v0.9h-0.9zM428.3 457.7h0.9v0.9h-0.9zM422.2 468.2h0.9v0.9h-0.9zM434.4 457.9h0.9v0.9h-0.9zM435.1 466.9h0.9v0.9h-0.9zM427.2 468.0h0.9v0.9h-0.9zM423.2 460.6h0.9v0.9h-0.9zM424.1 461.0h0.9v0.9h-0.9zM435.2 460.1h0.9v0.9h-0.9zM425.5 461.6h0.9v0.9h-0.9zM431.9 463.9h0.9v0.9h-0.9zM435.1 462.5h0.9v0.9h-0.9zM424.8 463.3h0.9v0.9h-0.9zM431.2 461.7h0.9v0.9h-0.9zM432.3 472.1h0.9v0.9h-0.9zM428.2 465.3h0.9v0.9h-0.9zM437.4 462.7h0.9v0.9h-0.9zM426.9 461.0h0.9v0.9h-0.9z" fill="#000" fill-opacity="0.35"/>
<path d="M432.8 467.1h0.9v0.9h-0.9zM430.2 465.3h0.9v0.9h-0.9zM437.0 468.4h0.9v0.9h-0.9zM424.2 465.1h0.9v0.9h-0.9zM431.4 467.9h0.9v0.9h-0.9zM429.8 462.7h0.9v0.9h-0.9zM428.7 458.3h0.9v0.9h-0.9zM430.7 462.8h0.9v0.9h-0.9zM433.1 461.2h0.9v0.9h-0.9zM428.8 461.4h0.9v0.9h-0.9zM425.7 467.7h0.9v0.9h-0.9zM428.6 466.8h0.9v0.9h-0.9zM425.5 465.4h0.9v0.9h-0.9zM422.7 463.2h0.9v0.9h-0.9zM428.4 467.3h0.9v0.9h-0.9zM431.7 464.4h0.9v0.9h-0.9zM434.8 465.8h0.9v0.9h-0.9zM433.4 468.0h0.9v0.9h-0.9zM430.5 463.9h0.9v0.9h-0.9zM432.4 463.5h0.9v0.9h-0.9zM432.6 469.2h0.9v0.9h-0.9zM434.9 463.6h0.9v0.9h-0.9zM424.6 464.8h0.9v0.9h-0.9zM430.2 469.2h0.9v0.9h-0.9zM428.9 464.2h0.9v0.9h-0.9zM434.3 463.2h0.9v0.9h-0.9zM430.0 471.5h0.9v0.9h-0.9zM437.9 467.4h0.9v0.9h-0.9zM432.1 461.3h0.9v0.9h-0.9zM433.4 465.2h0.9v0.9h-0.9zM431.8 463.1h0.9v0.9h-0.9zM430.7 464.3h0.9v0.9h-0.9zM432.3 470.4h0.9v0.9h-0.9zM432.5 458.7h0.9v0.9h-0.9z" fill="#000" fill-opacity="0.35"/>
<path d="M426.1 459.0h0.9v0.9h-0.9zM427.0 467.1h0.9v0.9h-0.9zM432.7 462.7h0.9v0.9h-0.9zM432.0 462.1h0.9v0.9h-0.9zM424.0 459.7h0.9v0.9h-0.9zM426.7 470.4h0.9v0.9h-0.9zM424.3 469.7h0.9v0.9h-0.9zM437.1 464.3h0.9v0.9h-0.9zM430.5 462.7h0.9v0.9h-0.9zM430.6 467.5h0.9v0.9h-0.9zM430.8 468.8h0.9v0.9h-0.9zM436.4 466.3h0.9v0.9h-0.9zM432.3 464.8h0.9v0.9h-0.9zM432.4 460.8h0.9v0.9h-0.9zM432.7 465.8h0.9v0.9h-0.9zM426.6 473.2h0.9v0.9h-0.9zM426.1 461.7h0.9v0.9h-0.9zM432.1 457.7h0.9v0.9h-0.9zM427.0 459.2h0.9v0.9h-0.9zM426.1 464.5h0.9v0.9h-0.9zM432.3 469.2h0.9v0.9h-0.9zM434.6 469.5h0.9v0.9h-0.9zM433.6 463.2h0.9v0.9h-0.9zM436.1 463.1h0.9v0.9h-0.9zM427.8 470.8h0.9v0.9h-0.9zM434.5 465.8h0.9v0.9h-0.9zM434.3 468.3h0.9v0.9h-0.9zM424.2 464.6h0.9v0.9h-0.9zM425.1 465.5h0.9v0.9h-0.9zM427.5 470.1h0.9v0.9h-0.9zM433.2 461.9h0.9v0.9h-0.9zM430.6 460.4h0.9v0.9h-0.9z" fill="#000" fill-opacity="0.35"/>
<text x="294.20" y="538.80" font-size="11.5" font-weight="bold" text-anchor="start" fill="#000" textLength="6.50" lengthAdjust="spacingAndGlyphs" stroke="#000" stroke-width="0.8">L</text>
<rect x="314.30" y="550.40" width="90.70" height="82.10" fill="#fff" stroke="#8c8c8c" stroke-width="0.9"/>
<path d="M313.30 606.04h1.0M313.30 603.05h1.0M313.30 600.92h1.0M313.30 599.28h1.0M313.30 597.93h1.0M313.30 596.79h1.0M313.30 595.81h1.0M313.30 594.94h1.0M313.30 589.13h1.0M313.30 586.13h1.0M313.30 584.01h1.0M313.30 582.36h1.0M313.30 581.02h1.0M313.30 579.88h1.0M313.30 578.89h1.0M313.30 578.02h1.0M313.30 572.13h1.0M313.30 569.14h1.0M313.30 567.01h1.0M313.30 565.37h1.0M313.30 564.02h1.0M313.30 562.88h1.0M313.30 561.90h1.0M313.30 561.03h1.0M343.53 632.50v1.0M346.84 632.50v1.0M349.19 632.50v1.0M351.01 632.50v1.0M352.49 632.50v1.0M353.75 632.50v1.0M354.84 632.50v1.0M355.80 632.50v1.0M362.22 632.50v1.0M365.52 632.50v1.0M367.87 632.50v1.0M369.69 632.50v1.0M371.18 632.50v1.0M372.43 632.50v1.0M373.52 632.50v1.0M374.48 632.50v1.0M380.99 632.50v1.0M384.30 632.50v1.0M386.64 632.50v1.0M388.46 632.50v1.0M389.95 632.50v1.0M391.21 632.50v1.0M392.30 632.50v1.0M393.26 632.50v1.0" stroke="#999" stroke-width="0.6" fill="none"/>
<path d="M312.70 627.57h1.6M312.70 625.77h1.6M312.70 623.96h1.6M312.70 622.16h1.6M312.70 620.35h1.6M312.70 618.54h1.6M312.70 616.74h1.6M312.70 614.93h1.6M319.74 632.50v1.6M321.74 632.50v1.6M323.73 632.50v1.6M325.73 632.50v1.6M327.72 632.50v1.6M329.72 632.50v1.6M331.71 632.50v1.6M333.71 632.50v1.6" stroke="#333" stroke-width="0.7" fill="none"/>
<path d="M312.30 611.15h2.0M312.30 594.24h2.0M312.30 577.25h2.0M312.30 560.25h2.0M337.88 632.50v2.0M356.57 632.50v2.0M375.34 632.50v2.0M394.12 632.50v2.0" stroke="#555" stroke-width="0.8" fill="none"/>
<circle cx="312.30" cy="634.80" r="1.2" fill="#000"/>
<rect x="416.30" y="550.40" width="90.00" height="82.10" fill="#fff" stroke="#8c8c8c" stroke-width="0.9"/>
<path d="M415.30 606.04h1.0M415.30 603.05h1.0M415.30 600.92h1.0M415.30 599.28h1.0M415.30 597.93h1.0M415.30 596.79h1.0M415.30 595.81h1.0M415.30 594.94h1.0M415.30 589.13h1.0M415.30 586.13h1.0M415.30 584.01h1.0M415.30 582.36h1.0M415.30 581.02h1.0M415.30 579.88h1.0M415.30 578.89h1.0M415.30 578.02h1.0M415.30 572.13h1.0M415.30 569.14h1.0M415.30 567.01h1.0M415.30 565.37h1.0M415.30 564.02h1.0M415.30 562.88h1.0M415.30 561.90h1.0M415.30 561.03h1.0M445.31 632.50v1.0M448.59 632.50v1.0M450.92 632.50v1.0M452.72 632.50v1.0M454.20 632.50v1.0M455.44 632.50v1.0M456.52 632.50v1.0M457.48 632.50v1.0M463.85 632.50v1.0M467.13 632.50v1.0M469.46 632.50v1.0M471.26 632.50v1.0M472.74 632.50v1.0M473.98 632.50v1.0M475.06 632.50v1.0M476.02 632.50v1.0M482.48 632.50v1.0M485.76 632.50v1.0M488.09 632.50v1.0M489.89 632.50v1.0M491.37 632.50v1.0M492.61 632.50v1.0M493.69 632.50v1.0M494.65 632.50v1.0" stroke="#999" stroke-width="0.6" fill="none"/>
<path d="M414.70 627.57h1.6M414.70 625.77h1.6M414.70 623.96h1.6M414.70 622.16h1.6M414.70 620.35h1.6M414.70 618.54h1.6M414.70 616.74h1.6M414.70 614.93h1.6M421.70 632.50v1.6M423.68 632.50v1.6M425.66 632.50v1.6M427.64 632.50v1.6M429.62 632.50v1.6M431.60 632.50v1.6M433.58 632.50v1.6M435.56 632.50v1.6" stroke="#333" stroke-width="0.7" fill="none"/>
<path d="M414.30 611.15h2.0M414.30 594.24h2.0M414.30 577.25h2.0M414.30 560.25h2.0M439.70 632.50v2.0M458.24 632.50v2.0M476.87 632.50v2.0M495.50 632.50v2.0" stroke="#555" stroke-width="0.8" fill="none"/>
<circle cx="414.30" cy="634.80" r="1.2" fill="#000"/>
<line x1="308.80" y1="631.50" x2="308.80" y2="570.50" stroke="#000" stroke-width="1.4"/>
<polygon points="308.80,560.80 312.70,570.00 304.90,570.00" fill="#000"/>
<text x="307.30" y="607.50" font-size="10.4" font-weight="bold" text-anchor="middle" fill="#000" transform="rotate(-90 307.30 607.50)" textLength="31.50" lengthAdjust="spacingAndGlyphs" stroke="#000" stroke-width="0.42">Empty</text>
<line x1="314.30" y1="637.40" x2="390.70" y2="637.40" stroke="#000" stroke-width="1.4"/>
<polygon points="399.20,637.40 390.20,634.10 390.20,640.70" fill="#000"/>
<line x1="415.00" y1="637.40" x2="492.30" y2="637.40" stroke="#000" stroke-width="1.4"/>
<polygon points="500.80,637.40 491.80,634.10 491.80,640.70" fill="#000"/>
<text x="319.10" y="648.60" font-size="9.6" font-weight="bold" text-anchor="start" fill="#000" textLength="49.90" lengthAdjust="spacingAndGlyphs" stroke="#000" stroke-width="0.42">CD79b<tspan font-size="6.8" dy="2.4">9</tspan><tspan dy="-2.4">:B7</tspan></text>
<text x="422.80" y="648.60" font-size="9.6" font-weight="bold" text-anchor="start" fill="#000" textLength="48.00" lengthAdjust="spacingAndGlyphs" stroke="#000" stroke-width="0.42">USP11:A2</text>
<path d="M355.8 620.2h0.9v0.9h-0.9zM358.5 609.1h0.9v0.9h-0.9zM351.3 620.0h0.9v0.9h-0.9zM359.0 623.0h0.9v0.9h-0.9zM339.9 620.1h0.9v0.9h-0.9zM347.5 618.6h0.9v0.9h-0.9zM360.2 620.8h0.9v0.9h-0.9zM348.4 618.6h0.9v0.9h-0.9zM341.3 611.4h0.9v0.9h-0.9zM362.0 617.5h0.9v0.9h-0.9zM335.9 613.9h0.9v0.9h-0.9zM355.5 624.7h0.9v0.9h-0.9zM367.8 621.3h0.9v0.9h-0.9zM333.9 617.3h0.9v0.9h-0.9zM361.0 619.5h0.9v0.9h-0.9zM360.3 616.7h0.9v0.9h-0.9zM376.4 624.4h0.9v0.9h-0.9zM354.2 613.3h0.9v0.9h-0.9zM379.9 615.3h0.9v0.9h-0.9zM369.7 626.3h0.9v0.9h-0.9zM344.0 619.0h0.9v0.9h-0.9zM351.1 620.1h0.9v0.9h-0.9zM359.1 626.5h0.9v0.9h-0.9zM362.4 617.7h0.9v0.9h-0.9zM368.8 616.5h0.9v0.9h-0.9zM350.9 627.8h0.9v0.9h-0.9zM345.4 615.5h0.9v0.9h-0.9zM355.8 613.0h0.9v0.9h-0.9zM330.0 622.5h0.9v0.9h-0.9zM345.9 615.3h0.9v0.9h-0.9zM350.8 613.3h0.9v0.9h-0.9zM342.4 618.5h0.9v0.9h-0.9zM384.1 621.0h0.9v0.9h-0.9zM364.3 611.0h0.9v0.9h-0.9zM355.0 612.4h0.9v0.9h-0.9zM364.6 616.7h0.9v0.9h-0.9zM355.8 617.3h0.9v0.9h-0.9z" fill="#000" fill-opacity="0.12"/>
<path d="M348.3 610.9h0.9v0.9h-0.9zM362.2 611.5h0.9v0.9h-0.9zM341.1 616.4h0.9v0.9h-0.9zM346.8 618.9h0.9v0.9h-0.9zM367.4 618.9h0.9v0.9h-0.9zM357.7 617.8h0.9v0.9h-0.9zM365.6 609.4h0.9v0.9h-0.9zM359.7 613.5h0.9v0.9h-0.9zM340.5 617.8h0.9v0.9h-0.9zM350.6 620.4h0.9v0.9h-0.9zM368.5 607.3h0.9v0.9h-0.9zM354.4 626.5h0.9v0.9h-0.9zM365.7 624.2h0.9v0.9h-0.9zM356.5 611.3h0.9v0.9h-0.9zM341.8 620.9h0.9v0.9h-0.9zM366.8 614.4h0.9v0.9h-0.9zM352.1 618.9h0.9v0.9h-0.9zM334.3 616.2h0.9v0.9h-0.9zM374.7 627.6h0.9v0.9h-0.9zM354.0 626.0h0.9v0.9h-0.9zM349.0 614.1h0.9v0.9h-0.9zM328.4 622.0h0.9v0.9h-0.9zM350.8 628.3h0.9v0.9h-0.9zM359.3 618.6h0.9v0.9h-0.9zM333.6 624.5h0.9v0.9h-0.9zM350.9 617.0h0.9v0.9h-0.9zM328.8 621.9h0.9v0.9h-0.9zM367.2 615.0h0.9v0.9h-0.9zM356.4 619.5h0.9v0.9h-0.9zM366.9 618.2h0.9v0.9h-0.9zM376.0 616.7h0.9v0.9h-0.9zM348.0 615.6h0.9v0.9h-0.9zM324.9 614.1h0.9v0.9h-0.9zM367.4 618.9h0.9v0.9h-0.9zM345.5 619.3h0.9v0.9h-0.9zM331.1 616.5h0.9v0.9h-0.9zM361.6 620.9h0.9v0.9h-0.9z" fill="#000" fill-opacity="0.12"/>
<path d="M346.0 621.9h0.9v0.9h-0.9zM377.8 615.8h0.9v0.9h-0.9zM364.2 610.7h0.9v0.9h-0.9zM331.8 620.5h0.9v0.9h-0.9zM355.9 618.7h0.9v0.9h-0.9zM348.4 616.4h0.9v0.9h-0.9zM365.1 625.5h0.9v0.9h-0.9zM352.8 610.3h0.9v0.9h-0.9zM370.7 620.5h0.9v0.9h-0.9zM363.6 618.6h0.9v0.9h-0.9zM383.3 618.1h0.9v0.9h-0.9zM361.6 609.4h0.9v0.9h-0.9zM348.4 614.7h0.9v0.9h-0.9zM355.0 619.3h0.9v0.9h-0.9zM346.4 625.6h0.9v0.9h-0.9zM342.6 615.7h0.9v0.9h-0.9zM358.2 612.1h0.9v0.9h-0.9zM362.2 620.6h0.9v0.9h-0.9zM351.9 626.4h0.9v0.9h-0.9zM356.4 619.0h0.9v0.9h-0.9zM343.9 610.2h0.9v0.9h-0.9zM347.8 616.3h0.9v0.9h-0.9zM349.9 621.2h0.9v0.9h-0.9zM326.7 612.7h0.9v0.9h-0.9zM333.5 623.8h0.9v0.9h-0.9zM348.6 615.5h0.9v0.9h-0.9zM342.2 621.8h0.9v0.9h-0.9zM350.4 618.8h0.9v0.9h-0.9zM331.0 623.0h0.9v0.9h-0.9zM360.1 620.3h0.9v0.9h-0.9zM370.2 616.9h0.9v0.9h-0.9zM353.4 621.0h0.9v0.9h-0.9zM360.5 616.7h0.9v0.9h-0.9zM355.9 615.5h0.9v0.9h-0.9zM364.0 622.0h0.9v0.9h-0.9zM355.5 626.2h0.9v0.9h-0.9z" fill="#000" fill-opacity="0.12"/>
<ellipse cx="365.50" cy="616.50" rx="15.50" ry="8.50" fill="url(#cg)" fill-opacity="0.13"/>
<ellipse cx="369.50" cy="619.80" rx="10.50" ry="5.80" fill="url(#cg)" fill-opacity="0.3"/>
<path d="M359.5 618.6h0.9v0.9h-0.9zM379.0 618.0h0.9v0.9h-0.9zM359.1 623.8h0.9v0.9h-0.9zM372.0 615.5h0.9v0.9h-0.9zM373.4 616.1h0.9v0.9h-0.9zM360.7 618.9h0.9v0.9h-0.9zM365.8 615.8h0.9v0.9h-0.9zM366.5 616.1h0.9v0.9h-0.9zM369.1 619.3h0.9v0.9h-0.9zM373.2 617.9h0.9v0.9h-0.9zM360.7 615.1h0.9v0.9h-0.9zM367.2 624.3h0.9v0.9h-0.9zM373.8 617.3h0.9v0.9h-0.9zM374.4 615.6h0.9v0.9h-0.9zM374.8 618.1h0.9v0.9h-0.9zM373.3 621.3h0.9v0.9h-0.9zM367.0 620.4h0.9v0.9h-0.9zM362.3 619.1h0.9v0.9h-0.9zM375.2 632.5h0.9v0.9h-0.9zM372.9 619.6h0.9v0.9h-0.9zM362.6 622.7h0.9v0.9h-0.9zM358.8 616.8h0.9v0.9h-0.9zM370.9 615.5h0.9v0.9h-0.9zM378.0 622.9h0.9v0.9h-0.9zM365.3 617.6h0.9v0.9h-0.9zM360.8 614.9h0.9v0.9h-0.9zM371.4 621.4h0.9v0.9h-0.9zM370.8 620.2h0.9v0.9h-0.9zM365.4 620.5h0.9v0.9h-0.9zM359.9 619.4h0.9v0.9h-0.9zM377.6 623.6h0.9v0.9h-0.9zM365.9 618.3h0.9v0.9h-0.9zM377.0 625.1h0.9v0.9h-0.9zM359.7 618.0h0.9v0.9h-0.9zM370.1 623.3h0.9v0.9h-0.9zM363.7 621.4h0.9v0.9h-0.9zM366.9 627.0h0.9v0.9h-0.9zM371.3 618.9h0.9v0.9h-0.9zM366.7 622.7h0.9v0.9h-0.9zM372.8 615.9h0.9v0.9h-0.9zM370.0 615.1h0.9v0.9h-0.9zM364.2 615.2h0.9v0.9h-0.9zM360.7 617.1h0.9v0.9h-0.9zM362.8 621.1h0.9v0.9h-0.9zM373.5 618.6h0.9v0.9h-0.9zM362.0 621.9h0.9v0.9h-0.9zM356.5 613.2h0.9v0.9h-0.9z" fill="#000" fill-opacity="0.22"/>
<path d="M373.1 621.5h0.9v0.9h-0.9zM374.6 618.7h0.9v0.9h-0.9zM361.1 617.7h0.9v0.9h-0.9zM372.1 616.9h0.9v0.9h-0.9zM364.5 614.9h0.9v0.9h-0.9zM361.7 622.1h0.9v0.9h-0.9zM371.5 615.6h0.9v0.9h-0.9zM362.2 617.6h0.9v0.9h-0.9zM372.0 615.6h0.9v0.9h-0.9zM367.7 612.5h0.9v0.9h-0.9zM361.2 620.7h0.9v0.9h-0.9zM374.1 615.6h0.9v0.9h-0.9zM364.1 621.9h0.9v0.9h-0.9zM366.4 617.6h0.9v0.9h-0.9zM371.9 620.0h0.9v0.9h-0.9zM375.4 621.9h0.9v0.9h-0.9zM365.3 619.0h0.9v0.9h-0.9zM368.4 615.0h0.9v0.9h-0.9zM362.9 622.5h0.9v0.9h-0.9zM359.2 622.6h0.9v0.9h-0.9zM370.5 618.9h0.9v0.9h-0.9zM372.0 620.9h0.9v0.9h-0.9zM376.0 618.1h0.9v0.9h-0.9zM367.4 618.6h0.9v0.9h-0.9zM380.1 622.4h0.9v0.9h-0.9zM363.2 618.3h0.9v0.9h-0.9zM364.5 619.4h0.9v0.9h-0.9zM370.0 626.7h0.9v0.9h-0.9zM357.8 622.7h0.9v0.9h-0.9zM371.4 617.1h0.9v0.9h-0.9zM367.9 617.8h0.9v0.9h-0.9zM369.1 622.6h0.9v0.9h-0.9zM359.6 623.6h0.9v0.9h-0.9zM366.5 624.2h0.9v0.9h-0.9zM371.2 623.3h0.9v0.9h-0.9zM372.2 622.9h0.9v0.9h-0.9zM369.1 616.7h0.9v0.9h-0.9zM372.8 621.7h0.9v0.9h-0.9zM381.4 613.0h0.9v0.9h-0.9zM367.6 622.8h0.9v0.9h-0.9zM361.3 618.7h0.9v0.9h-0.9zM381.5 623.9h0.9v0.9h-0.9zM363.5 624.0h0.9v0.9h-0.9zM375.9 621.9h0.9v0.9h-0.9zM371.1 620.2h0.9v0.9h-0.9zM363.6 617.7h0.9v0.9h-0.9zM373.2 619.9h0.9v0.9h-0.9z" fill="#000" fill-opacity="0.22"/>
<path d="M379.9 618.3h0.9v0.9h-0.9zM354.4 618.3h0.9v0.9h-0.9zM370.5 620.6h0.9v0.9h-0.9zM369.2 616.8h0.9v0.9h-0.9zM377.8 617.3h0.9v0.9h-0.9zM373.1 618.5h0.9v0.9h-0.9zM361.6 623.9h0.9v0.9h-0.9zM353.8 616.7h0.9v0.9h-0.9zM371.4 618.3h0.9v0.9h-0.9zM373.4 619.1h0.9v0.9h-0.9zM366.1 626.3h0.9v0.9h-0.9zM367.5 618.9h0.9v0.9h-0.9zM362.4 617.0h0.9v0.9h-0.9zM372.8 621.2h0.9v0.9h-0.9zM368.9 617.2h0.9v0.9h-0.9zM373.0 614.0h0.9v0.9h-0.9zM366.8 618.6h0.9v0.9h-0.9zM363.8 619.9h0.9v0.9h-0.9zM364.9 616.9h0.9v0.9h-0.9zM379.7 621.8h0.9v0.9h-0.9zM376.1 619.6h0.9v0.9h-0.9zM374.7 622.0h0.9v0.9h-0.9zM376.2 627.0h0.9v0.9h-0.9zM367.6 620.3h0.9v0.9h-0.9zM368.6 608.2h0.9v0.9h-0.9zM360.6 619.5h0.9v0.9h-0.9zM372.7 617.6h0.9v0.9h-0.9zM375.8 623.6h0.9v0.9h-0.9zM366.5 624.0h0.9v0.9h-0.9zM379.5 621.0h0.9v0.9h-0.9zM363.1 624.2h0.9v0.9h-0.9zM368.0 618.3h0.9v0.9h-0.9zM369.7 617.8h0.9v0.9h-0.9zM375.4 622.0h0.9v0.9h-0.9zM376.3 621.4h0.9v0.9h-0.9zM364.2 619.0h0.9v0.9h-0.9zM374.3 618.2h0.9v0.9h-0.9zM386.5 618.7h0.9v0.9h-0.9zM365.5 623.2h0.9v0.9h-0.9zM373.5 619.4h0.9v0.9h-0.9zM367.6 620.9h0.9v0.9h-0.9zM374.0 621.9h0.9v0.9h-0.9zM367.2 620.9h0.9v0.9h-0.9zM374.1 621.9h0.9v0.9h-0.9zM350.5 616.7h0.9v0.9h-0.9zM364.3 618.8h0.9v0.9h-0.9z" fill="#000" fill-opacity="0.22"/>
<path d="M433.8 620.1h0.9v0.9h-0.9zM436.8 615.4h0.9v0.9h-0.9zM432.7 623.9h0.9v0.9h-0.9zM428.2 617.4h0.9v0.9h-0.9zM443.5 617.6h0.9v0.9h-0.9zM418.2 617.7h0.9v0.9h-0.9zM429.8 615.5h0.9v0.9h-0.9zM439.9 618.1h0.9v0.9h-0.9zM430.7 620.0h0.9v0.9h-0.9zM435.5 616.5h0.9v0.9h-0.9zM434.6 617.1h0.9v0.9h-0.9zM430.1 613.9h0.9v0.9h-0.9zM432.7 611.7h0.9v0.9h-0.9zM423.7 621.9h0.9v0.9h-0.9zM430.8 615.9h0.9v0.9h-0.9zM431.6 616.1h0.9v0.9h-0.9zM432.7 616.3h0.9v0.9h-0.9zM426.9 620.2h0.9v0.9h-0.9zM427.7 620.7h0.9v0.9h-0.9zM419.1 611.2h0.9v0.9h-0.9zM439.4 615.3h0.9v0.9h-0.9zM427.8 617.7h0.9v0.9h-0.9zM425.2 616.3h0.9v0.9h-0.9zM417.0 614.0h0.9v0.9h-0.9zM428.0 618.4h0.9v0.9h-0.9zM438.6 612.2h0.9v0.9h-0.9zM443.8 613.3h0.9v0.9h-0.9zM418.1 605.3h0.9v0.9h-0.9zM443.3 615.6h0.9v0.9h-0.9zM428.0 612.6h0.9v0.9h-0.9zM424.9 622.1h0.9v0.9h-0.9zM431.9 624.1h0.9v0.9h-0.9zM431.1 605.4h0.9v0.9h-0.9zM438.4 614.3h0.9v0.9h-0.9z" fill="#000" fill-opacity="0.12"/>
<path d="M430.8 623.1h0.9v0.9h-0.9zM430.7 621.2h0.9v0.9h-0.9zM432.5 612.6h0.9v0.9h-0.9zM436.1 613.3h0.9v0.9h-0.9zM441.1 620.3h0.9v0.9h-0.9zM432.9 618.7h0.9v0.9h-0.9zM436.5 614.8h0.9v0.9h-0.9zM438.8 615.0h0.9v0.9h-0.9zM436.8 611.7h0.9v0.9h-0.9zM433.2 617.9h0.9v0.9h-0.9zM427.0 614.1h0.9v0.9h-0.9zM428.8 619.3h0.9v0.9h-0.9zM427.5 618.0h0.9v0.9h-0.9zM443.2 617.6h0.9v0.9h-0.9zM421.3 616.6h0.9v0.9h-0.9zM439.8 614.7h0.9v0.9h-0.9zM440.3 618.8h0.9v0.9h-0.9zM435.5 614.9h0.9v0.9h-0.9zM429.0 614.9h0.9v0.9h-0.9zM433.0 618.4h0.9v0.9h-0.9zM435.5 614.7h0.9v0.9h-0.9zM433.0 617.8h0.9v0.9h-0.9zM421.2 612.6h0.9v0.9h-0.9zM427.0 615.1h0.9v0.9h-0.9zM430.7 614.9h0.9v0.9h-0.9zM426.5 619.1h0.9v0.9h-0.9zM434.5 608.7h0.9v0.9h-0.9zM432.7 611.0h0.9v0.9h-0.9zM444.5 614.0h0.9v0.9h-0.9zM429.8 616.4h0.9v0.9h-0.9zM431.2 615.8h0.9v0.9h-0.9zM443.4 617.1h0.9v0.9h-0.9zM438.5 621.1h0.9v0.9h-0.9zM425.8 623.7h0.9v0.9h-0.9z" fill="#000" fill-opacity="0.12"/>
<path d="M437.4 620.4h0.9v0.9h-0.9zM426.6 619.8h0.9v0.9h-0.9zM435.5 613.7h0.9v0.9h-0.9zM448.6 618.6h0.9v0.9h-0.9zM431.0 617.0h0.9v0.9h-0.9zM439.0 621.2h0.9v0.9h-0.9zM436.7 621.6h0.9v0.9h-0.9zM442.9 610.5h0.9v0.9h-0.9zM429.2 611.9h0.9v0.9h-0.9zM433.3 622.6h0.9v0.9h-0.9zM437.2 611.4h0.9v0.9h-0.9zM430.6 620.7h0.9v0.9h-0.9zM428.9 615.7h0.9v0.9h-0.9zM434.8 607.9h0.9v0.9h-0.9zM438.1 617.6h0.9v0.9h-0.9zM436.6 611.7h0.9v0.9h-0.9zM427.3 613.4h0.9v0.9h-0.9zM434.4 616.4h0.9v0.9h-0.9zM433.5 624.2h0.9v0.9h-0.9zM441.8 612.9h0.9v0.9h-0.9zM428.1 623.8h0.9v0.9h-0.9zM430.4 622.3h0.9v0.9h-0.9zM443.8 613.6h0.9v0.9h-0.9zM430.8 616.5h0.9v0.9h-0.9zM426.6 611.7h0.9v0.9h-0.9zM429.8 619.9h0.9v0.9h-0.9zM429.5 615.2h0.9v0.9h-0.9zM429.4 609.9h0.9v0.9h-0.9zM443.0 605.5h0.9v0.9h-0.9zM428.1 618.6h0.9v0.9h-0.9zM422.9 618.8h0.9v0.9h-0.9zM441.4 612.2h0.9v0.9h-0.9z" fill="#000" fill-opacity="0.12"/>
<ellipse cx="432.00" cy="616.00" rx="12.00" ry="8.00" fill="url(#cg)" fill-opacity="0.14"/>
<ellipse cx="433.00" cy="619.80" rx="8.60" ry="5.20" fill="url(#cg)" fill-opacity="0.32"/>
<path d="M434.1 616.2h0.9v0.9h-0.9zM435.6 619.8h0.9v0.9h-0.9zM434.2 623.7h0.9v0.9h-0.9zM435.5 623.6h0.9v0.9h-0.9zM436.3 616.0h0.9v0.9h-0.9zM434.4 621.0h0.9v0.9h-0.9zM425.9 623.6h0.9v0.9h-0.9zM433.4 620.7h0.9v0.9h-0.9zM428.6 619.8h0.9v0.9h-0.9zM434.6 618.6h0.9v0.9h-0.9zM433.5 613.2h0.9v0.9h-0.9zM439.9 616.2h0.9v0.9h-0.9zM422.2 616.7h0.9v0.9h-0.9zM428.9 621.2h0.9v0.9h-0.9zM428.5 620.4h0.9v0.9h-0.9zM428.3 626.2h0.9v0.9h-0.9zM435.8 625.4h0.9v0.9h-0.9zM428.0 621.5h0.9v0.9h-0.9zM428.3 621.3h0.9v0.9h-0.9zM436.5 614.8h0.9v0.9h-0.9zM427.4 616.1h0.9v0.9h-0.9zM425.6 617.4h0.9v0.9h-0.9zM428.3 615.2h0.9v0.9h-0.9zM433.6 621.2h0.9v0.9h-0.9zM426.5 617.9h0.9v0.9h-0.9zM433.1 618.8h0.9v0.9h-0.9zM429.6 622.0h0.9v0.9h-0.9zM437.3 621.6h0.9v0.9h-0.9zM432.0 625.5h0.9v0.9h-0.9zM441.8 618.3h0.9v0.9h-0.9zM432.5 623.1h0.9v0.9h-0.9zM429.1 620.7h0.9v0.9h-0.9zM433.3 617.4h0.9v0.9h-0.9zM431.9 614.8h0.9v0.9h-0.9zM430.3 613.5h0.9v0.9h-0.9zM444.4 624.0h0.9v0.9h-0.9zM439.2 620.4h0.9v0.9h-0.9zM438.0 623.3h0.9v0.9h-0.9zM438.1 622.3h0.9v0.9h-0.9zM428.5 620.8h0.9v0.9h-0.9z" fill="#000" fill-opacity="0.22"/>
<path d="M430.4 616.0h0.9v0.9h-0.9zM427.3 620.8h0.9v0.9h-0.9zM438.3 615.4h0.9v0.9h-0.9zM441.8 623.9h0.9v0.9h-0.9zM431.1 618.1h0.9v0.9h-0.9zM432.7 622.5h0.9v0.9h-0.9zM431.1 616.2h0.9v0.9h-0.9zM434.7 613.3h0.9v0.9h-0.9zM433.7 623.0h0.9v0.9h-0.9zM434.5 621.8h0.9v0.9h-0.9zM435.5 621.7h0.9v0.9h-0.9zM433.7 617.0h0.9v0.9h-0.9zM431.9 619.3h0.9v0.9h-0.9zM439.3 624.4h0.9v0.9h-0.9zM435.1 617.2h0.9v0.9h-0.9zM429.4 618.9h0.9v0.9h-0.9zM439.9 620.5h0.9v0.9h-0.9zM432.7 617.2h0.9v0.9h-0.9zM437.4 620.4h0.9v0.9h-0.9zM432.7 619.8h0.9v0.9h-0.9zM441.4 619.0h0.9v0.9h-0.9zM441.4 623.2h0.9v0.9h-0.9zM433.3 622.2h0.9v0.9h-0.9zM432.4 617.0h0.9v0.9h-0.9zM431.7 616.8h0.9v0.9h-0.9zM435.6 619.5h0.9v0.9h-0.9zM435.8 622.0h0.9v0.9h-0.9zM417.4 620.4h0.9v0.9h-0.9zM424.0 620.0h0.9v0.9h-0.9zM428.6 619.8h0.9v0.9h-0.9zM439.8 614.4h0.9v0.9h-0.9zM434.0 619.3h0.9v0.9h-0.9zM423.5 621.4h0.9v0.9h-0.9zM433.2 618.0h0.9v0.9h-0.9zM429.4 629.1h0.9v0.9h-0.9zM431.0 614.1h0.9v0.9h-0.9zM428.3 618.4h0.9v0.9h-0.9zM431.1 619.3h0.9v0.9h-0.9zM427.8 621.1h0.9v0.9h-0.9zM430.6 615.4h0.9v0.9h-0.9z" fill="#000" fill-opacity="0.22"/>
<path d="M428.9 618.3h0.9v0.9h-0.9zM437.2 621.0h0.9v0.9h-0.9zM431.3 619.6h0.9v0.9h-0.9zM434.1 625.6h0.9v0.9h-0.9zM429.9 620.9h0.9v0.9h-0.9zM436.6 616.6h0.9v0.9h-0.9zM433.9 620.0h0.9v0.9h-0.9zM430.7 621.2h0.9v0.9h-0.9zM438.1 622.9h0.9v0.9h-0.9zM432.0 620.1h0.9v0.9h-0.9zM444.8 616.2h0.9v0.9h-0.9zM434.1 622.2h0.9v0.9h-0.9zM433.8 621.5h0.9v0.9h-0.9zM433.9 621.8h0.9v0.9h-0.9zM439.4 618.8h0.9v0.9h-0.9zM434.0 619.3h0.9v0.9h-0.9zM431.0 619.4h0.9v0.9h-0.9zM427.3 621.7h0.9v0.9h-0.9zM441.5 624.6h0.9v0.9h-0.9zM439.4 616.6h0.9v0.9h-0.9zM440.6 617.4h0.9v0.9h-0.9zM432.7 625.0h0.9v0.9h-0.9zM427.6 622.0h0.9v0.9h-0.9zM434.4 619.0h0.9v0.9h-0.9zM428.6 620.8h0.9v0.9h-0.9zM430.7 622.6h0.9v0.9h-0.9zM439.1 615.4h0.9v0.9h-0.9zM430.5 618.5h0.9v0.9h-0.9zM427.1 616.1h0.9v0.9h-0.9zM433.4 618.9h0.9v0.9h-0.9zM424.7 617.9h0.9v0.9h-0.9zM435.6 615.9h0.9v0.9h-0.9zM428.4 624.3h0.9v0.9h-0.9zM439.6 614.6h0.9v0.9h-0.9zM426.2 620.6h0.9v0.9h-0.9zM427.0 618.7h0.9v0.9h-0.9zM430.7 621.2h0.9v0.9h-0.9zM420.4 612.9h0.9v0.9h-0.9zM426.9 622.5h0.9v0.9h-0.9zM432.2 614.4h0.9v0.9h-0.9z" fill="#000" fill-opacity="0.22"/>
</svg>
</body></html>
